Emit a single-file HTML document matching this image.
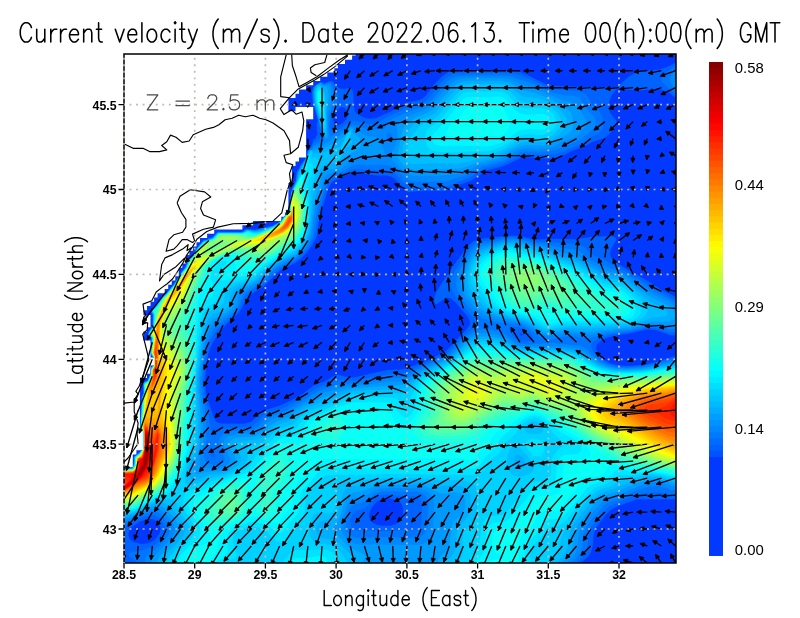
<!DOCTYPE html>
<html><head><meta charset="utf-8"><title>Current velocity</title>
<style>
html,body{margin:0;padding:0;background:#fff;}
body{width:800px;height:618px;overflow:hidden;}
svg{display:block;will-change:transform;}
text{font-family:"Liberation Sans",sans-serif;fill:#000;}
.tk{font-size:12.3px;font-weight:bold;}
.cbl{font-size:14.9px;}
.hs{stroke:#fff;stroke-width:0.3px;paint-order:fill stroke;}
</style></head><body>
<svg width="800" height="618" viewBox="0 0 800 618">
<rect width="800" height="618" fill="#fff"/>
<defs><filter id="noaa" x="0" y="0" width="800" height="618" filterUnits="userSpaceOnUse"><feOffset dx="0" dy="0"/></filter><clipPath id="wm"><path d="M124,560.6H676V563.3H124ZM124,556.3H676V561.2H124ZM124,552.1H676V556.9H124ZM124,547.8H676V552.7H124ZM124,543.6H676V548.4H124ZM124,539.4H676V544.2H124ZM124,535.1H676V540H124ZM124,530.9H676V535.7H124ZM124,526.6H676V531.5H124ZM124,522.4H676V527.2H124ZM124,518.1H676V523H124ZM124,513.9H676V518.7H124ZM124,509.6H676V514.5H124ZM124,505.4H676V510.2H124ZM124,501.2H676V506H124ZM124,496.9H676V501.8H124ZM124,492.7H676V497.5H124ZM124,488.4H676V493.3H124ZM124,484.2H676V489H124ZM124,479.9H676V484.8H124ZM124,475.7H676V480.5H124ZM124,471.5H676V476.3H124ZM124,467.2H676V472.1H124ZM132.8,463H676V467.8H132.8ZM132.8,458.7H676V463.6H132.8ZM132.8,454.5H676V459.3H132.8ZM136.4,450.2H676V455.1H136.4ZM143.4,446H676V450.8H143.4ZM143.4,441.7H676V446.6H143.4ZM143.4,437.5H676V442.3H143.4ZM143.4,433.3H676V438.1H143.4ZM143.4,429H676V433.9H143.4ZM139.9,424.8H676V429.6H139.9ZM139.9,420.5H676V425.4H139.9ZM139.9,416.3H676V421.1H139.9ZM139.9,412H676V416.9H139.9ZM139.9,407.8H676V412.6H139.9ZM139.9,403.6H676V408.4H139.9ZM139.9,399.3H676V404.2H139.9ZM139.9,395.1H676V399.9H139.9ZM139.9,390.8H676V395.7H139.9ZM139.9,386.6H676V391.4H139.9ZM139.9,382.3H676V387.2H139.9ZM139.9,378.1H676V382.9H139.9ZM147,373.8H676V378.7H147ZM150.5,369.6H676V374.4H150.5ZM150.5,365.4H676V370.2H150.5ZM154.1,361.1H676V366H154.1ZM154.1,356.9H676V361.7H154.1ZM150.5,352.6H676V357.5H150.5ZM150.5,348.4H676V353.2H150.5ZM150.5,344.1H676V349H150.5ZM150.5,339.9H676V344.7H150.5ZM143.4,335.6H676V340.5H143.4ZM143.4,331.4H676V336.2H143.4ZM147,327.2H676V332H147ZM150.5,322.9H676V327.8H150.5ZM150.5,318.7H676V323.5H150.5ZM150.5,314.4H676V319.3H150.5ZM143.4,310.2H676V315H143.4ZM147,305.9H676V310.8H147ZM150.5,301.7H676V306.5H150.5ZM154.1,297.4H676V302.3H154.1ZM157.6,293.2H676V298.1H157.6ZM164.7,289H676V293.8H164.7ZM168.2,284.7H676V289.6H168.2ZM171.7,280.5H676V285.3H171.7ZM175.3,276.2H676V281.1H175.3ZM178.8,272H676V276.8H178.8ZM178.8,267.7H676V272.6H178.8ZM182.3,263.5H676V268.3H182.3ZM185.9,259.3H676V264.1H185.9ZM185.9,255H676V259.9H185.9ZM189.4,250.8H676V255.6H189.4ZM192.9,246.5H676V251.4H192.9ZM196.5,242.3H676V247.1H196.5ZM200,238H676V242.9H200ZM207.1,233.8H676V238.6H207.1ZM214.2,229.5H676V234.4H214.2ZM242.4,225.3H676V230.1H242.4ZM253.1,221.1H676V225.9H253.1ZM281.3,216.8H676V221.7H281.3ZM284.9,212.6H676V217.4H284.9ZM288.4,208.3H676V213.2H288.4ZM288.4,204.1H676V208.9H288.4ZM288.4,199.8H676V204.7H288.4ZM288.4,195.6H676V200.4H288.4ZM288.4,191.4H676V196.2H288.4ZM288.4,187.1H676V192H288.4ZM288.4,182.9H676V187.7H288.4ZM291.9,178.6H676V183.5H291.9ZM291.9,174.4H676V179.2H291.9ZM291.9,170.1H676V175H291.9ZM291.9,165.9H676V170.7H291.9ZM295.5,161.6H676V166.5H295.5ZM299,157.4H676V162.2H299ZM306.1,153.2H676V158H306.1ZM306.1,148.9H676V153.8H306.1ZM306.1,144.7H676V149.5H306.1ZM306.1,140.4H676V145.3H306.1ZM306.1,136.2H676V141H306.1ZM306.1,131.9H676V136.8H306.1ZM306.1,127.7H676V132.5H306.1ZM306.1,123.4H676V128.3H306.1ZM306.1,119.2H676V124H306.1ZM313.2,115H676V119.8H313.2ZM313.2,110.7H676V115.6H313.2ZM288.4,106.5H295.5V111.3H288.4ZM313.2,106.5H676V111.3H313.2ZM288.4,102.2H676V107.1H288.4ZM288.4,98H676V102.8H288.4ZM295.5,93.7H676V98.6H295.5ZM299,89.5H676V94.3H299ZM306.1,85.3H676V90.1H306.1ZM313.2,81H676V85.9H313.2ZM320.2,76.8H676V81.6H320.2ZM327.3,72.5H676V77.4H327.3ZM334.4,68.3H676V73.1H334.4ZM337.9,64H676V68.9H337.9ZM345,59.8H676V64.6H345ZM352.1,55.5H676V60.4H352.1ZM355.6,53.7H676V56.1H355.6Z"/></clipPath><clipPath id="fr"><rect x="124.0" y="54.0" width="552.0" height="509.0"/></clipPath></defs>
<g clip-path="url(#wm)" shape-rendering="geometricPrecision">
<rect x="124.0" y="54.0" width="552.0" height="509.0" fill="#0339ff"/>
<path fill="#0063ff" d="M124,563l457,0 7.1-6.4 2.8-4.2 1.6-5.7 1.5-13.4 2.5-6.4 9.7-12.7 5.7-5.2 5.3-2.6 19.5-7.1 38.9,0 0-143.5 -17.5,5.6 -12.6,2.9 -12.4,1.5 -12.3,0 -10.2-2.3 -7.6-4.2 -4.2-4.3 -2.9-6.3 0.9-4.3 1.8-2.1 7.5-4.2 7.6-2.2 17.7-2.9 14.1-3.2 5.3-0.3 5.3,0.6 14.2,5.2 5.3,0.1 0-38.6 -15-7.5 -13.3-8.6 -32.9-19 -3.4-4.3 -1-4.2 0.8-4.3 5.2-8.4 -0.1-2.2 -3.1-2.1 -18.5,0.3 -19.5,2.7 -23-0.5 -14.1,0.9 -5.3-0.5 -12.4-3.1 -8.8-0.6 -30.1,3.3 -7.1,2.3 -4.8,3.7 -3.6,4.2 -18.3,25.5 -10.4,16.6 -2,4.6 -0.8,4.3 1,3.8 1.8,0.3 8.9-6.1 1.7-0.4 3.6,1 5.3,4.8 11.4,13.5 2.1,4.3 -0.3,4.2 -3.2,4.3 -20.6,21.7 -17.7,8.9 -21.2,8.1 -5.3,1.1 -14.2,0.7 -33.6,7.5 -5.3-0.3 -10.6-2.6 -3.5,0.7 -8.9,5.6 -12.3,4.8 -10.6,8.2 -7.1,4.3 -15.9,7.4 -15,4.5 -3.3,2.1 -10,9.5 -7.1,1.9 -23-0.2 -3.5-0.8 -1.8-1.4 -1.7-3.1 -7.1-20 -1.5-7.1 -0.4-8.5 1.3-19.1 2.4-12.1 3.5-8.5 7.5-11.2 7.5-8.5 11.5-10.6 2.9-4.2 4.2-9.1 3-3.7 14.7-9.1 15.9-15.7 15.9-8.1 4.6-3.1 6-6.1 6.6-8.8 4.1-8.5 2.8-19.1 8.3-27.6 2.9-5.8 3.6-3.2 10.6-5.1 8.8-2.5 5.3,0 17.7,2.5 10.6,0.2 3.5,0.9 3.6,2.1 9.7,10.9 4.4,2.6 17.7-1.6 17.7,0.3 6-1.3 9.9-4.8 10.6-4 15.9-10.3 17.7-4.3 15.9-7.9 8.8-1 21.3,1.8 10.6-2.2 12.3-6.2 10.6-3.8 8.9-4.7 10.6-3.7 3.5-2 4.2-4.2 4.9-6.3 1.1-4.3 -6.6-8.7 -1.4-4 -0.3-4.3 1-4.2 2.4-5.5 3.6-4.8 1.7-1.3 23,1.8 14.2-1.6 5.3,0.2 8.8,2.8 7.1,5.7 0-35 -8.9,4.5 -7,2.4 -17.7,1.6 -6.7,1.6 -6.9,4.3 -11.2,9.8 -3.5,0.7 -19.4,0 -42.5-1.7 -5.3-1.5 -19.4-9.7 -7.1-2.6 -5.3-1 -61.9-0.4 -5.3,1.7 -6.1,4.7 -7.9,8.5 -7.2,9.5 -3.5,3.4 -3.6,1.7 -12.3,2.2 -10.6,6.7 -19.5,8.6 -5.3,1.1 -5.3-0.5 -3.5-1.2 -5.3-3.2 -2.7-2.9 -0.9-4.2 -0.4-12.8 -1.2-4.2 -1.9-1.9 -7.1,1.2 -3.5-0.6 -3.6-2.8 -3.5-4.5 -3.5,0.1 -5.3,2.2 -1.8-1.7 -1.8,0.4 -5.3,3.2 -1.9,2.3 -1,4.2 0.6,10.6 1.9,4.3 3,12.7 0.2,2.1 -1.1,2.1 0.7,10.7 -2.2,4.2 -1.9,1.5 -2.3,7 -3,3.7 -1.8,6.6 -6.3,8.8 -0.5,2.1 -2.8,4.3 -0.9,8.4 -3.7,8.1 -1,4.7 -1.8,19.1 -4.1,2.1 -5.4,7 -7.1,3.8 -17.7,3.9 -8.8-0.7 -3.6,2.7 -1.5,0.3 -23.2-0.2 -5.3,5.8 -3.5,0.5 -1.8,1.5 -3.5,0.5 -7.8,8.8 -1.8,4.3 -5.4,6.4 -3.9,8.4 -11.2,16.8 -7.6,8.7 -3.2,2.1 -6.9,9.7 -5.9,5.2 2.8,4.2 -0.2,10.6 -5.6,10.6 4.4,2.2 -0.4,14.8 0.2,2.1 1.9,2.2 -0.1,8.5 -2.1,2.1 -0.2,6.3 -3.2,6.4 -4.3,2.1 0.3,10.6 -1.7,4.3 -1.4,29.7 0.2,2.1 1.9,2.1 -0.1,17 -2.4,3.4 -6.2,5.1 -0.2,8.5 -1.4,2.1 -1,0.6 -7.1,0.1zM141.7,543.9l-7.1-1.5 -4.4-2.7 -1.9-4.3 0.6-4.2 2.8-4.3 8.2-5.3 8.9-2.9 5.3,0.7 3.5,2.7 1.8,2.7 1.1,4.2 -0.9,4.3 -2.7,4.2 -4.6,3.9 -5.3,2.1zM376.8,524.8l-4.4-2.1 -2.1-2.1 -1.3-4.3 0.8-4.2 1.9-4.3 5-6.3 5.4-2.7 7.1-0.3 7.1,1.7 5.1,3.4 1.7,4.2 -0.2,6.4 -1.1,4.2 -3.3,4.3 -4,2 -5.3,1.1 -7.1,0zM521.8,336.1l-2.5-2.3 0.7-0.5 2.2,0.5 0.2,2.1zM334.4,124.7l-1-3.1 0.1-2.1 2.6-7.8 3.6-4 1.7-0.6 3.6,1.1 2.6,2.8 0.6,2.1 -0.1,2.2 -1.8,4.2 -3.1,3.3 -3.5,2.3 -3.6,0.7z"/>
<path fill="#0075ff" d="M135.9,560.9l3.1,2.1 437.2,0 4.7-4.2 4.5-6.4 1.9-6.4 1.6-12.7 2.5-6.4 6.3-8.5 10.7-11.6 24.7-11.1 7.1-2 15.9-1.3 19.5,2.2 0-136.5 -31.8,7.6 -14.2,1.2 -12.4-0.5 -9.8-2.9 -7.2-4.2 -6.1-6.4 -3.1-6.3 0.1-2.2 1.6-2.1 5.1-3.3 7.1-2.9 8.8-2 17.7-2.5 14.1-3.3 8.9-0.2 15.9,4.1 5.3-0.1 0-32.2 -17.7-9.2 -30.1-18.3 -17.7-8.6 -7-4.8 -9.9-3.7 -3-2.1 -6.6-6.9 -3.2-1.6 -3.8-0.8 -40.7-2.5 -15.9-3.8 -7.1-0.7 -8.8,0.7 -12.4,2.6 -10.6,1.2 -5.3,1.8 -4.7,3.6 -4.9,6.4 -13.3,21.2 -1.8,4.3 -0.9,4.2 0.5,4.2 3.2,6.4 9.4,12.7 11.3,12.8 1.7,4.2 -0.7,2.1 -1.9,2.2 -12,9.9 -14.3,15.5 -7.5,4.3 -36.6,16.2 -14.1,0.8 -33.6,6.2 -7.1,0.3 -8.8-0.9 -5.3,1 -19.5,8.1 -12.4,8.6 -19.4,10.8 -17.7,5.7 -8.8,8.9 -5.3,3.5 -5.3,1.1 -19.5,0.7 -5.3,1.5 -7,3.5 -1.8-0.2 -1.9-3.7 -2.1-17 -4.6-19.1 -0.7-10.6 2.5-25.4 1.8-8.5 3.2-8.9 3.4-6 3.7-4.7 16.7-14.4 3.9-4.2 5.8-12.7 1.9-2.7 3.5-2.8 12.4-7.2 12.4-12.4 5.3-4.2 14.1-6.8 5.3-3.4 8.5-9.4 4.3-6.3 2.8-6.4 4.5-25.5 8.2-25.4 3.5-5.2 3.6-2.3 14.1-6.6 5.3-1.7 5.3-0.2 14.2,1.2 12.3-0.3 5.3,1.1 3.6,2 10.6,10.5 5.3,3 3.5,0.4 14.2-0.8 15.9,0.4 5.3-1.1 19.4-8 15.9-9.3 17.7-4.4 17.7-8.6 7.1-1.1 23,0.5 8.8-1.5 23-9.9 8.8-6 8.9-4.7 2.4-2.6 0.9-2.1 0.3-4.3 -1.1-6.3 -1.6-4.3 -2.7-4 -5.4-4.5 -4.9-8.4 -2-2.2 -4-2.1 -4.9-1.1 -17.7-0.7 -8.8-1.4 -19.5-9.4 -12.2-4.4 -5.5-1.2 -14.1-0.8 -42.4,0.5 -5.3,1.3 -5.3,3.4 -7.1,7.5 -10.6,13.4 -5.3,4.2 -15.9,4.5 -7.1,3.8 -10.6,4.4 -12.4,7.4 -3.5,0.8 -5.3-0.1 -10.6-2.8 -3.6-0.2 -3.5,1.1 -10.6,6.8 -5.3,1.5 -2.4-0.3 -2.4-2.1 -0.3-4.3 2.3-8.4 6-14.9 0.5-4.2 -1.3-4.3 -4.6-8.5 -1.4-1 -1.7-0.2 -5.3,2 -1.8-1.7 -1.8,0 -5,3.1 -1.6,2.1 -1.1,4.2 0.7,10.6 4.8,17 0.8,6.4 1.4,2.5 0.4,3.8 1.4,2.2 -2,4.2 -2.4,2.1 -4.4,2.4 -1.8,4 -3.5,4.2 -0.7,4.3 -1.1,2.1 -5.9,8.5 -0.5,2.1 -2.8,4.3 -1,8.4 -2.2,4.3 -2.7,8.5 -1.7,19.1 -4.1,2.1 -5.6,7.1 -7.1,3.9 -17.7,4.1 -8.8-0.8 -3.6,2.7 -24.7,0.1 -5.3,5.7 -3.5,0.6 -1.8,1.5 -3.5,0.5 -7.5,8.5 -1.8,4.3 -5.5,6.4 -3.8,8.4 -2.7,3.1 -8.8,13.9 -7.4,8.5 -3.2,2.2 -7.1,9.9 -5.6,4.9 2.7,4.2 -0.2,10.6 -5.5,10.6 4.3,2.2 -0.5,14.8 0.3,2.1 1.8,2.2 -0.1,8.5 -2,2.1 -0.3,6.3 -3.2,6.4 -4.2,2.1 0.3,10.6 -1.8,4.3 -1.5,29.7 0.4,2.1 1.8,2.1 -0.1,17 -2.5,3.7 -6,4.8 0.1,6.4 -1.2,3.7 -1.7,1.3 -7.1,0 0,60.5 3.9-4 7.4-4.2 10.1-4.3 6.9-1.4 3.5,0.7 4,2.8 4.5,6.4 1,4.2 -0.8,4.3 -2.4,4.2 -8,7.9 -8.9,4.1 -15.1,2.9 -1.6,2.1 0.7,2.1zM212.4,457.5l-1.9-2.7 0.3-2.1 1.6-1.1 1.8,1.5 0.8,3.8 -0.8,0.7zM382.1,531.2l-15.9-1.2 -8.8,0.5 -3.6-1 -2.4-2.6 -1.1-3.7 0.4-4.8 1.4-3.9 3.5-3.2 8.8-2.6 10.6-10.7 6-2.9 6.4-0.5 17.7,1.7 8.8,0 4.3,0.9 2.6,2.1 1,2.2 0.5,4.2 -0.9,17 -1.2,4.2 -1.8,2.1 -4.5,1.5 -8.8-0.4zM520,340.8l-4.7-2.7 -5.7-6.4 -0.6-2.1 2.2-2.1 7-0.4 5.3,1.8 6.8,4.9 2.7,4.3 -0.9,2.1 -3.3,1.1 -5.3,0.3zM675.2,94l0.4,0.5 0-28.9 -11.8,9.3 -2.5,4.3 0.3,2.1 1.6,2.1z"/>
<path fill="#0088ff" d="M145.1,560.9l0.6,2.1 425.6,0 4.9-4.2 4.2-6.4 1.8-6.4 1.7-12.7 2.4-6.4 4.5-6.3 12.3-14.5 2.8-2.5 4.3-2.2 10.6-3.4 12.3-6.3 16-5.2 5.3-0.6 5.3,0.5 15.9,4.1 0-130.5 -33.6,6.9 -15.9,1 -10.6-0.8 -7.1-1.8 -7.9-3.9 -5.6-4.2 -7.7-7.7 -3.6-2.3 -3.5-1.1 -28.3-3.3 -23,1.6 -7-0.4 -5.3-1.9 -14.2-9.5 -5.3-1.5 -12.4-2 -7,1 -10.6,5.9 -7.1,6.2 -8.8,10.3 -5.3,4 -28.3,12.8 -12.4,7.4 -5.3,1 -10.6,0.5 -30.1,4.5 -17.7,1.3 -5.3,1.1 -17.6,5.8 -33.6,20.4 -15.9,5.3 -3.6,2.3 -7,7.6 -4.7,2.8 -5.9,1.3 -16,0.7 -7,2 -3.2,2.4 -1.6,2.1 -1.5,4.2 1.2,6.4 4.6,8.5 0.5,2.1 -0.4,2.1 -3.2,2.9 -7,0.9 -7.1-1.7 -2.2-2.1 -0.8-2.1 0-4.2 2.2-14.9 -0.5-21.2 -0.8-8.5 -3.1-17 -0.4-14.8 3.5-27.6 4.4-14.9 3-5.5 3.5-4.2 15.5-11.5 4.5-4.2 2.6-4.3 2.7-8.4 3-4.6 15.9-9.3 12.4-12.1 5.3-4.3 19.5-10 8.1-8.6 4.2-6.3 3-6.4 4.7-27.6 4.7-13 3.5-12.5 3.6-5.4 11.3-5.1 13.4-7.7 5.3-0.5 12.4,0.8 12.4-0.6 5.3,0.8 3.5,1.6 12.4,10.9 5.3,3.1 5.3,0.8 30.1-0.2 19.4-6 17.7-9.2 19.4-5.1 17.7-8.8 7.1-1.1 19.4,0.1 10.6-1.9 21.8-8.9 13.2-10.6 3.3-4.2 0.6-4.3 -1.3-4.2 -7.9-8.5 -7-10.6 -5-2.4 -12.4-0.8 -12.3-3.2 -17.7-8.4 -23-7.4 -8.8-0.7 -26.6,0 -15.9,0.8 -5.3,1.6 -5,3.5 -16.2,19.1 -4.4,4.2 -4.4,2.5 -10.6,3.3 -19.5,8.2 -4,3 -4.8,7.1 -10.6,1.1 -5.3-0.2 -10.6-3.5 -5.3-1 -14.2,8.1 -8.8,3.6 -0.7-19.4 5.2-14.9 0.7-6.3 -0.7-4.3 -3.4-8.5 -1.1-0.4 -5.3,1.8 -1.8-1.6 -1.8-0.4 -4.6,2.8 -1.4,2.1 -1.1,4.2 0.6,10.6 9.2,34 1.2,2.1 -0.3,1.8 -3.7,2.4 -6.9,2.9 -1.8,3.5 -1.8,0.4 -1.7,2.7 -1.5,5.4 -5.8,8.5 -0.5,2.1 -2.7,4.3 -1.2,8.4 -4.3,9.3 -0.8,3.5 -1.7,19.1 -4,2.1 -5.8,7.3 -7.1,3.9 -17.7,4.3 -8.8-0.8 -3.6,2.5 -24.7,0.2 -5.3,5.7 -3.5,0.6 -1.8,1.4 -3.5,0.6 -7.2,8.2 -1.9,4.3 -5.4,6.4 -3.9,8.4 -2.9,3.4 -8.6,13.6 -7.3,8.5 -3.5,2.5 -7.1,10 -5.3,4.5 2.7,4.2 -0.4,10.6 -0.6,2.2 -3.1,4.2 -1.5,4.2 4.1,2.2 -0.7,14.8 0.5,2.1 1.7,2.2 -0.1,8.5 -2,2.1 -0.3,6.3 -3.1,6.4 -4.1,2.1 0.1,10.6 -1.7,4.3 -1.6,29.7 0.5,2.1 1.7,2.1 0,17 -2.7,4 -5.7,4.5 0,6.4 -1.4,4 -1.7,1.1 -7.1,0.1 0,54.8 23-10.1 7.1-1.7 3.5,0.8 5.3,4 5,6.4 2.2,6.3 -0.8,4.3 -4,6.4 -7.7,7.8 -11.5,9.1 -1,2.2zM355.6,537.8l-3.5-1.2 -3.6-2.8 -1.8-2.6 -1.3-4.3 0.4-6.3 2.7-10 1.8-3.3 3.5-2.9 10.6-2.5 10.6-8.2 7.1-2.3 35.4,0.2 5.3,1.8 3.7,3.8 1.5,4.3 0.3,4.2 -1.1,21.2 -2.4,6.4 -3.8,3.5 -7.1,1.5 -24.7-1.2zM389.2,142.1l-1.8-2 -0.9-3.6 0.9-3.5 1.8-0.2 1.7,0.9 1.8,2.3 0.4,2.6 -0.6,2.1 -1.6,1.5zM542.1,338.1l2.7,1.2 5.3,0.5 14.1-3.3 5.3-0.5 19.5,2.3 17.6-4.8 24.8-3.3 17.7-4 8.8,0.4 12.4,2.6 5.3-0.5 0-25.4 -5.3-3.8 -15.9-7.7 -28.3-17.7 -7.1-3.1 -10.6-3.3 -17.7-7.5 -10.6-8.6 -3.5-1.8 -14.2-1.5 -12.3-3.3 -16-2 -14.1-3.7 -7.1-0.8 -10.6,1.1 -10.6,2.8 -10.6,1.7 -5.3,2.2 -3.5,3.1 -4.3,5.9 -9.2,17 -2.3,6.4 -0.4,4.2 1.1,6.4 6.2,11.4 10.6,11.6 8.9,6.4 15.9,3.8 17.7,1.6 5.3,1.2 5.3,2.4 10.6,7.9zM675,89.8l0.6,0.7 0-21.1 -4.4,5.5 -1.3,4.3 0.9,4.2z"/>
<path fill="#009aff" d="M151.2,563l415,0 5.1-4.2 4.3-6.4 1.8-6.4 1.6-12.7 2.9-7.4 3.8-5.3 17.4-20.1 5.3-2.7 10.6-2.7 12.4-6.2 17.7-6.5 5.3-0.4 5.3,0.5 15.9,4.6 0-125.4 -33.6,6.2 -14.2,0.9 -12.3-0.7 -7.1-1.6 -7.1-3 -6.7-4.2 -9.2-7.4 -7.1-3 -8.8-1.7 -8.8-0.8 -31.9,0.1 -7-0.5 -5.4-1.6 -12.3-7.4 -5.3-1.8 -14.2-2.1 -7,0.6 -5.3,2.1 -7.1,4.4 -11.8,12.7 -5.1,4.3 -29.1,13.6 -14.1,9.4 -5.3,1.2 -10.6,0.4 -42.4,4.7 -24.8,6.7 -21.2,11.5 -14.2,9.5 -15.9,5.9 -3.5,2.6 -6.4,6.6 -4.2,2.6 -5.3,1.5 -14.2,0.7 -7.3,1.6 -3.3,1.9 -1.7,2 -1.3,4.6 1.3,4.2 5.1,8.5 0.4,4.2 -1.1,2.2 -4.4,3.6 -5.3,1.6 -14.2-0.6 -3.5-0.8 -1.8-1.5 -0.6-2.3 0.2-4.3 3.1-14.8 0.5-8.5 -0.4-21.2 -2.6-21.3 -0.3-14.8 3.9-29.7 2.4-10.6 2.7-7.5 1.7-3.3 3.6-4.2 14.1-8.8 5.3-4.5 2.3-3.6 3-10.6 3.1-4.2 16.4-8.6 15.9-14.9 6.3-4.1 14.9-7.1 7.9-7.8 5.4-8.4 2.5-6.4 4.2-27.6 4.7-13.4 3.6-13.8 1.7-3.3 3.6-2.5 10.6-3.7 4.8-3.6 5.8-5.8 3.5-2 5.3-1 16.4,0.3 4.8-1.1 2.7-1 0.9-1.1 0.7-1 -0.5-2.2 -3.8-9.3 -2.3-3.4 -3-1.5 -8.8-1.2 -7.1-4.5 -5.3-2.2 -0.2-1.2 -1.5-1.4 -1.8,0.7 -3.5,4 -10.7,6.4 -13.2,7.3 -9.7,3.2 -0.6,1 -3,0.9 -0.9,1.2 -2,6.4 -2.4,4.5 -3.2,4 -3.1,6.4 -1.4,8.4 -4.7,9.8 -1.3,7.2 -1.1,14.9 -4,2.1 -4.6,6.4 -8.4,5.1 -15.9,4.1 -3.5,0.2 -5.3-1.1 -1.8,0.3 -3.6,2.4 -24.7,0.3 -5.3,5.7 -3.5,0.6 -1.8,1.4 -3.5,0.5 -7,8 -1.8,4.3 -5.4,6.4 -4,8.4 -3.1,3.6 -8.4,13.4 -7.5,8.7 -3.5,2.6 -7.1,10.1 -5,4.1 2.6,4.2 -0.4,10.6 -0.6,2.2 -3.2,4.2 -1.1,4.2 2.4,0.8 1.4,1.4 -0.8,14.8 0.5,2.1 1.7,2.2 -0.1,8.5 -1.9,2.1 -0.5,6.3 -2.9,6.4 -0.9,1 -3,1.1 -0.3,2.2 0.2,8.4 -1.7,4.3 -1.7,29.7 0.5,2.1 1.8,2.1 -0.1,17 -2.8,4.3 -5.5,4.2 0,6.4 -1.6,4.3 -1.7,1 -7.1,0.1 0,51.4 12.4-4.5 14.1-6.2 5.3-1 3.6,0.7 3.5,2.3 4.9,4.9 4.9,6.4 2.4,6.3 -0.1,2.2 -1.7,4.2 -5.1,6.4 -14.4,14.8 -2.4,4.3zM355.6,544l-5.3-2.1 -3.5-2.9 -4.5-5.7 -1.5-4.3 0.8-6.3 5.1-17 2.5-4.2 2.9-2.5 10.6-2.1 12.3-7 8.9-1.8 35.3,0.1 7.1,2.5 4.9,4.4 2.1,4.2 0.8,4.3 -0.9,25.4 -2.3,8.5 -4.6,4.9 -5.3,2 -5.3,0.5 -54.8-0.3zM540.6,333.8l7.7,2.1 5.3-0.4 14.1-2.6 23,1.5 17.7-3.2 23-2.5 17.7-4.4 7-0.1 12.4,1.6 5.3-0.4 1.8-0.8 0-16.9 -5.3-5.1 -17.7-8.4 -26.5-17.3 -7.1-3.1 -15.9-3.9 -12.4-5.8 -12.4-8.2 -3.5-1.4 -12.4-1.7 -15.9-5.6 -15.9-3 -12.4-3.4 -5.3-0.6 -10.6,1.1 -21.2,5.5 -5.3,2.8 -3.5,3.8 -5,8.3 -4.7,10.6 -1.7,6.4 -0.1,6.3 1,4.3 1.7,4.2 4.1,6.4 8.2,9 8.8,6 16,4.6 21.6,3.7 6.6,3zM409.2,174.7l4.7,1.1 26.5-0.1 16-1.5 8.8-2.5 14.1-6.9 21.3-5.5 19.4-9.8 7.1-1.1 17.7,0 7.4-1.3 12-5.8 12.6-4.8 8.8-10.6 1.4-4.3 -9.2-14.8 -3-3.2 -12.4-3.1 -28.3-12.5 -12.3-3.3 -10.6-5 -5.3-1.3 -7.1-0.5 -30.1,0.1 -10.6,1.5 -4.1,1.8 -4.7,3.9 -19.5,21.9 -5.3,2.9 -10.6,3.9 -14.2,7.7 -2.5,2.1 -0.7,2.2 1.3,8.5 -0.4,6.3 -2.9,7.7 -4.1,5.1 -0.9,2.1 2.8,4.2 6.1,6.4 6.7,6.1zM325.2,138.6l0.3,0.7 1.8-1.1 0.7-1.7 -0.8-23.4 3.8-10.6 0.5-8.5 -2.5-8.4 -1.7-1 -3.5,0.8 -3.6-2.3 -4.1,2.5 -2,4.2 -0.4,2.1 0.5,10.6 7.6,27.6 2,6.3z"/>
<path fill="#00adff" d="M156.4,563l205.9,0 2.5-4.2 0.3-2.2 -1.2-2.1 -15.4-8.1 -15.1-15.2 -0.6-2.2 6.9-11.6 5-15.9 2.1-4.3 1.7-2.2 3.6-2.2 10.6-1.5 10.6-4.5 5.3-1.4 35.3-0.8 7.1,0.5 5.3,1.3 14.1,6.9 3.6,0.3 10.6-1.4 5.2,0.8 3,2.1 2.2,4.2 0.5,6.4 -1.1,4.2 -2.7,4 -7.1,6.7 -2.1,4.2 -3.4,21.2 -2.6,4.3 -7.4,8.5 -1.9,4.2 124,0 6.5-6 3.1-4.6 1.9-6.4 1.6-12.7 3.4-8.5 18.9-23.3 4.7-4.5 5.3-2.5 10.6-2.7 11.2-5.2 18.9-6.9 5.3-0.5 7.1,0.6 15.9,4.5 0-121 -33.6,5.6 -14.2,0.8 -12.3-0.6 -7.1-1.4 -7.1-2.7 -6.5-3.6 -11.2-7.9 -8.8-3.2 -14.1-2 -38.9-0.5 -7.1-2 -10.6-5.8 -5.3-1.9 -12.4-1.9 -8.8,0.5 -5.3,1.9 -6.1,3.7 -12.3,12.7 -4.6,3.6 -28.3,13.6 -12.4,9.7 -3.5,2 -5.3,1.1 -46,3.2 -8.8,1.7 -10.6,4.2 -12.2,3.4 -17.9,8.3 -15.9,11.4 -15.9,6.2 -8.8,8.4 -5.3,3.3 -5.3,1.4 -14.2,0.8 -5.3,1.3 -3.5,2.5 -1.4,3.1 1.2,4.2 4.2,6.4 1.6,4.2 -0.3,2.1 -2.9,4.3 -6,4.1 -5.3,1.8 -14.1,0.6 -8.8,2.3 -3.6-0.6 -1.1-1.8 -0.1-4.3 5.6-19.1 1.4-10.6 -0.1-23.3 -2.1-25.5 0.3-12.7 4.6-34 4.1-14.8 2.2-4.3 2.9-3.4 13.8-7.2 5.2-4.2 2.2-4.3 2.2-10.6 3.1-3.5 17.7-8.4 17.5-15.7 7-4.2 13.5-6.4 4.4-3.7 4-4.8 4-6.3 3.2-8.5 4-29.7 4.3-13.2 2.6-12.3 1.8-4.2 2.6-2.5 5.3-1.2 3.6,0.2 4.6-2.9 2.4-2.3 6.2-8.3 10.1-6.4 2.1-2.1 0.9-2.1 0.1-2.2 -1.3-4.2 -2.1-2.6 -5.1-3.8 0.5-2.1 -0.7-2.5 -1.8,0.9 -4.9,5.9 -0.4,1.5 -12.4,8.2 -10.6,4.7 -8.8,1.9 -1.8-0.6 -2.4,1.2 -2,6.4 -8.3,14.9 -1.8,8.4 -5,10.4 -1.2,6.6 -1.1,14.9 -3.9,2.1 -4.6,6.4 -8.6,5.3 -12.4,3.8 -5.3,0.8 -7-1.2 -5.4,2.6 -24.7,0.3 -5.3,5.6 -8.8,2.6 -6.8,7.7 -1.8,4.3 -5.6,6.6 -3.8,8.2 -3.3,3.9 -8.3,13.1 -7.6,9 -3.5,2.6 -7.1,10.1 -4.6,3.8 2.4,4.2 -0.4,10.6 -0.6,2.2 -3.2,4.2 -0.9,4.2 2,0.6 1.7,1.6 -1,14.8 0.6,2.1 1.6,2.2 0,8.5 -2,2.1 -0.5,6.3 -2.9,6.4 -1,1.2 -2.7,0.9 -0.5,2.2 0.2,8.4 -1.7,4.3 -1.7,29.7 0.6,2.1 1.7,2.1 -0.1,17 -2.9,4.5 -5.3,4 0,6.4 -1.8,4.5 -1.7,0.9 -7.1,0.1 0,49 14.1-4.6 14.2-6.8 5.3-1 3.5,0.6 3.6,1.9 5.3,5.1 6.2,7.6 3.5,6.3 0.4,2.1 -0.7,4.3 -4.2,6.4 -15.8,16.9zM541.6,331.7l4.9,1.6 3.6,0.2 15.9-3 24.7,0.9 38.9-3.9 21.2-5.8 19.5-0.2 3.7-2.5 0.7-4.3 -1.3-4.2 -3.6-4.3 -19-9 -24.7-17.5 -7.1-3 -10.6-1.6 -5.3-1.4 -28.3-15.2 -12.4-2.1 -17.6-7 -26.6-6.6 -5.3-0.8 -10.6,1.1 -19.6,5.8 -5.1,2.6 -3.8,3.8 -4.9,8.5 -3.2,8.5 -1.2,6.4 0.3,6.3 1.2,4.3 2.1,4.2 4.2,5.9 8.3,9 6.8,4.2 14.9,4.8 21.2,4.3 7.1,3.2zM407.7,168.3l6.2,1.6 46-1.1 17.7-6.4 20.3-4.7 18.6-9.7 5.3-2 5.3-0.7 15.9,0.1 7.1-1.2 6.9-3.5 12.5-8.1 2.4-2.5 0.9-2.1 0.6-4.3 -1.4-8.4 -1-2.2 -3.3-3.5 -15.9-10.1 -17.7-7.1 -12.3-2.3 -10.5-6.7 -3.7-1.5 -7-1.1 -30.1,0 -6.4,0.5 -4.2,1.1 -3.5,1.7 -4.3,3.6 -18.7,21.4 -5.3,3.3 -12.6,5 -8.2,6.3 -3.9,4.3 -1.4,4.2 -4.5,23.4 0.5,2.1 2.4,4.2 4.1,4.3zM325,136.5l0.5,0.9 1.2-0.9 0.4-2.1 -0.5-23.4 2.2-14.8 -1.2-6.4 -1.8-4.2 -2,1.4 -1.8-1 -1.8-2.3 -3.7,1.9 -1.8,4.2 -0.5,2.1 0.6,10.6 7.2,26.4z"/>
<path fill="#00bfff" d="M161.5,563l194.5,0 -1.2-4.2 -1.7-2.2 -15.2-14.1 -5.3-2.7 -10.6-1.6 -3.5-2.5 -1.5-2.4 -0.7-4.3 0.4-2.4 1.8-3.5 3.5-2.3 10.6-1.5 3.4-3 2.9-6.4 4.3-16.4 1.8-2.9 3.5-3 3.6-1.2 10.6-0.8 15.9-3.6 35.3-0.5 10.6,0.8 15.9,3.4 16-0.3 5.3,0.7 5,2.6 2.7,4.3 1.8,10.6 -1.1,8.5 -2,4.2 -8,8.5 -2.2,4.2 -1.3,6.4 -1,12.7 -1.3,4.3 -3.2,4.1 -7.5,6.5 112.4,0 6.4-6.4 3.6-5.5 1.5-5.1 2.5-14.8 4.4-8.5 19.9-24.2 5.3-4.6 5.3-2.5 10.6-3.2 8.8-4 23-6.9 12.4,0.4 15.9,4.2 0-117.2 -33.9,5.2 -15.6,0.7 -12-0.7 -7.5-1.6 -7-2.6 -17.7-10.9 -8.9-3.1 -12.3-1.7 -38.9-0.6 -7.1-1.7 -10.6-5.1 -7.1-2.3 -10.6-1.4 -8.8,0.6 -5.3,1.9 -5.3,3.3 -10.4,10.3 -5.5,4.5 -30.1,15.1 -10.6,9.8 -5.3,3.4 -5.3,1.1 -42.4,1.7 -7.1,0.8 -44.2,16.8 -5.3,3.4 -10.6,9.1 -12.4,4 -3.5,2 -8.9,8.7 -3.5,2.6 -5.3,1.8 -14.2,1.1 -5.3,1.6 -1.6,1.7 -0.3,2.1 5.8,10.6 -0.1,4.2 -3.2,4.3 -5.9,4.2 -8.8,4.1 -14.1,1.4 -12.4,5 -3.6,0.2 -1.7-0.8 -1.5-1.4 -0.9-2.1 0.2-6.4 1.7-6.3 5.8-14.9 1.5-8.5 0-27.6 -1.2-23.3 0.5-12.7 4.8-38.2 2.5-10.6 2.4-6.4 1.9-3.2 3.5-3.1 10.8-4.3 5.1-4.2 1.5-4.3 1-8.5 3.3-4.2 4.8-2.8 10.6-3.5 5.3-2.5 16.5-14.6 8.3-5.2 14.1-6.8 7.4-7.1 4.2-6.3 3.4-8.5 1.8-10.6 2.4-25.5 7-25.5 2.1-3.6 3.5-2.4 8.9-1.2 1.7,2 3-3.3 4.1-8.9 1.4-1.7 0.4-2.2 5.8-4.1 1.5-2.2 -0.1-2.1 -1.9-1.3 -0.3-2.9 1.4-2.1 -0.1-4.3 -1-0.4 -3.8,4.7 -3.3,7 -1.3,1.4 -0.5,2.2 -1.7,1.6 -17.7,6.2 -8.8,0.6 -0.6-2.1 -1.2-0.8 -2,0.8 -4.1,10.6 -3,4.3 -5.1,14.8 -5.3,10.9 -1.1,6.1 -1,14.9 -3.9,2.1 -4.6,6.4 -8.8,5.6 -12.4,4.2 -5.3,0.5 -7-1.2 -5.4,2.4 -22.9-0.2 -1.8,0.6 -5.3,5.5 -8.8,2.7 -6.5,7.4 -1.9,4.3 -5.8,6.9 -3.6,7.9 -3.5,4.1 -8.1,12.9 -7.8,9.2 -3.5,2.7 -7.1,10.1 -4.3,3.5 2.4,4.2 -0.6,10.6 -0.5,2.2 -3.2,4.2 -0.6,4.2 1.5,0.4 1.8,1.8 -1,14.8 2.3,4.3 -0.1,8.5 -1.9,2.1 -0.6,6.3 -2.8,6.4 -1.2,1.4 -2.3,0.7 -0.7,2.2 0.2,8.4 -1.7,4.3 -1.8,29.7 2.3,4.2 0,17 -3.1,4.6 -5.1,3.9 -0.2,7.2 -1.8,3.9 -1.7,0.9 -7.1,0.1 0,46.8 10.6-2.8 17.7-8.8 5.3-1.5 3.5-0.1 4.6,1 3.6,2.1 2.4,2.4 11,14.6 2.1,4.2 0.2,4.3 -1.7,4.2 -3.1,4.3 -14.4,14.8 -2.8,4.3zM518.2,467.8l-2.6-2.4 -1.5-4.3 0.9-4.2 1.5-1.5 1.7-0.4 3.6,1.7 1.7,2.1 1.7,4.5 -0.5,2.1 -1.9,2.1 -2.8,0.7zM542,329.6l4.5,1.5 3.6,0.2 15.9-3.2 24.7,0.6 38.9-2.9 8.9-2.5 12.3-5.2 14.2-1.8 2.3-1.6 0.3-2.1 -0.9-2.1 -2.5-2.1 -13.4-6.1 -15.4-13 -12.9-8.4 -5.3-1.7 -8.8-0.8 -5.3-1.3 -26.5-14.6 -15.9-3.8 -18.6-7.6 -25.6-6.5 -8.9-0.7 -5.3,1 -18.1,6.2 -6.6,3.7 -3.8,4.8 -3.3,6.3 -2,6.4 -0.8,6.4 0.9,6.3 1.7,4.3 9.3,12.7 6.6,6.4 5.5,3 10.6,3.7 24.7,6zM407.2,161.9l3.2,1.5 3.5,0.6 15.9-0.8 28.3,0.4 5.3-0.8 12.4-3.3 17.7-3 7.1-2.7 15.9-8.9 5.3-2.2 5.3-0.7 15.9,0.3 5.3-1 3.5-1.5 7.2-5.4 5.9-6.4 1.6-4.3 -0.1-4.2 -1.7-4.2 -3.5-4.3 -5.8-5.1 -5.2-3.4 -12.5-4.3 -12.4-1.2 -3.5-1 -10.6-8.4 -5.3-2.8 -8.9-1 -26.5,0.1 -7.1,0.9 -3.5,1.5 -4.7,3.5 -20.1,23.2 -5.3,3.1 -10.6,3.7 -5,3.9 -5.9,6.4 -3.2,6.4 -2.8,14.8 1.1,6.4zM325.4,134.4l1-8.5 -0.5-23.4 -1.1-10.6 -4.6-6.6 -1.7,0 -1.8,1.5 -1.9,5.1 0.6,10.6 6.6,24.5 1.8,4.8z"/>
<path fill="#00d2ff" d="M166.3,563l181.2,0 -4.8-8.5 -6.6-7.1 -5.3-2.3 -12.3-1.5 -4.3-1.8 -2.5-2.1 -2.2-4.3 -0.5-4.2 0.8-6.4 1.9-6.4 2.6-4.2 2.4-1.7 3.5-0.1 7.1,1.1 3.5-0.5 1.8-1 1.8-2.4 1.6-6 0.8-14.9 1.1-2.4 3.5-3.2 8.9-2.7 35.3-2.2 33.6,0.1 19.5,1.6 23,0.1 7,1.4 5.5,3.1 2.2,4.2 0.5,4.3 0.3,14.8 -1.3,8.5 -3.6,7.7 -7.1,6 -1.9,3.3 -0.9,6.4 0.2,12.7 -1,4.2 -1.2,2.2 -2.3,2 -6,2.2 96.8,0 6.5-7.4 3.2-5.3 2.5-12.8 4.1-8.5 11-14.8 16.2-19.1 3.6-3.1 5.3-2.8 10.6-3.9 8.9-4.6 24.7-5.2 7.1-0.3 7.1,0.7 15.9,4 0-113.9 -33.6,4.8 -15.9,0.6 -12.4-0.6 -12.4-3 -8.7-4.3 -12.5-7.6 -10.6-3.3 -10.6-1.1 -37.1-0.5 -7.1-1.4 -12.4-5.1 -7-2 -10.7-1.1 -7,0.8 -8.9,4.2 -11.8,10.8 -5.8,4.2 -28.6,14.9 -3.3,2.6 -8.8,10.2 -3.5,2.9 -5.3,1.6 -14.2-0.8 -35.3,1.3 -5.3,1.7 -24.8,11.1 -14.1,4.1 -5.3,3.5 -8.9,9.3 -3.5,1.8 -10.6,2.5 -3.6,2 -12.3,12 -5.3,2.4 -8.2,1.8 -2.4,1.4 -0.9,2.8 1,6.4 -0.8,4.2 -2.9,3.8 -3.3,2.6 -16.1,8.2 -15.9,2.9 -12.4,5.7 -5.3,0.7 -3.6-0.6 -2.3-2 -0.6-6.4 2.9-12.4 6.1-15.2 1.5-6.4 0.7-63.6 4.6-42.5 1.5-8.4 2.5-8.5 2-4.3 2.4-2.9 3.5-2.1 7.1-2.9 3.2-2.7 1-2.1 1.6-8.5 1.2-2.4 3.6-3.4 7-3.7 12.2-3.2 4.5-2.1 17.7-14.9 8.1-4.8 14.1-7.1 5.3-4.9 3.6-4.8 3.1-6 2.6-8.5 1.5-12.7 0.8-23.3 8.2-29.8 -0.1-2.1 -2-2.1 -3.5-0.6 -1.8,2 -0.6-1.4 1.4-4.2 -0.2-2.2 -1.8,0 -6.9,14.9 -5.8,14.8 -5.6,11.4 -1.2,7.7 -0.8,12.8 -3.8,2.1 -4.8,6.5 -7,4.9 -12.4,4.9 -7.1,0.9 -7-1.4 -5.4,2.3 -1.7,0.1 -21.2-0.3 -1.8,0.6 -3.5,4.3 -1.8,1.2 -8.8,2.7 -6.3,7.2 -1.9,4.3 -6,7.2 -3.3,7.6 -3.7,4.3 -8,12.7 -8,9.5 -3.5,2.7 -7.1,10.2 -4,3.1 2.3,4.2 -0.6,10.6 -0.5,2.2 -3.3,4.2 -0.6,2.1 0.8,2.1 2.6,2.2 -1.1,14.8 2.3,4.3 -0.1,8.5 -1.9,2.1 -0.7,6.3 -2.6,6.4 -1.4,1.6 -1.9,0.5 -1,2.2 0.2,8.4 -1.7,4.3 -1.8,29.7 2.3,4.2 0,17 -3.2,4.8 -4.9,3.7 -0.5,8.5 -1.7,2.8 -1.7,0.9 -7.1,0.1 0,45 5.3-0.9 7.1-2.4 15.9-8.5 5.3-1.9 12.4-1.4 3.5,0.8 1.6,1.6 5.1,10.6 8.8,12.7 1.1,4.2 -0.1,2.2 -1.8,4.2 -3.1,4.3 -16.1,16.9zM514.7,476.1l-3.5-2.3 -2.8-4.2 -1.1-4.2 -0.3-6.4 1.2-6.3 2.3-4.3 2.4-1.9 3.6-0.6 3.5,1.7 5.3,5.8 6,7.7 2.8,6.4 -0.2,2.1 -1.6,2.2 -5.2,3.1 -7.1,1.9zM528.8,433.6l-3.5-2.2 -0.4-2.1 1.8-4.2 3.9-3 3.5-1 3.6,0.8 3.5,2.8 1.6,2.5 0.3,4.2 -1.9,1.8 -5.3,0.9zM542.5,327.5l4,1.4 3.6,0.3 15.9-3.3 24.7,0.2 38.9-2.3 5.3-1.4 6.5-3.4 4.7-4.3 1.7-4.2 -1.6-4.3 -6.3-8.4 -6.6-6.4 -9-6.5 -5.3-2.3 -10.6-1 -5.3-1.3 -26.5-14.8 -17.7-4.9 -17.7-7.5 -26.5-6.6 -7.1-0.6 -8.8,2.2 -14.2,5.5 -5.3,3.2 -3.5,4.1 -2.7,5 -1.9,6.4 -0.4,6.4 0.8,4.2 2.4,5.4 10.5,13.7 4.3,4.2 7.2,4.3 9.9,3.5 22.9,5.9zM335.9,161.9l0.2,0.7 1.8-1 2.4-3.9 10.2-23.3 -0.2-2.8 -1.8,0.8 -1.7,3.1 -10,22.2zM410.6,155.6l3.3,0.9 8.9-0.4 14.1,1.3 21.2,0.2 33.6-3.5 8.9-3.4 15.9-9.3 5.3-2.3 5.3-0.7 15.9,0.5 7.1-2.1 5.3-4.1 3.9-4.7 1.8-4.3 0-4.2 -3.5-6.4 -7.5-6.6 -3.6-1.7 -5.3-1.3 -14.1-0.3 -5.3-1.2 -3.6-2.3 -8.8-8.8 -5.3-2.8 -7.1-0.8 -26.5,0.1 -5.3,0.7 -4,1.7 -4.8,4.1 -19.5,23.2 -3.5,2.5 -10.6,4 -3.6,3.1 -8.8,11.2 -2.3,4.9 -0.8,4.3 0.3,4.2 1,2.5zM323.4,128l0.4,1.2 1.7-0.2 -0.4-26.5 -0.7-6.3 -1.6-6.4 -2.6-2.9 -1.7-0.3 -1.8,2.1 -1.2,3.2 0.5,10.6z"/>
<path fill="#00e4ff" d="M171,563l51,0 12-4.2 2.1-2.2 0.5-2.1 -3.7-12.7 0.5-6.4 1.2-2.1 2.5-2.4 8.9-3 8.8-0.9 7.1,1.3 5.4,2.9 5.2,6.5 3.5,3.2 5.3,1 3.6-1.4 2.5-3 4.9-8.5 8.5-7.4 2.1-3.2 1.9-6.3 0.8-12.8 2.3-5.7 7-7.5 5.9-8 4.7-2.9 58.4-1.1 88.4,0.8 7-1.2 5.3-4.1 7.1-10.1 7.1-5.8 7.1-11.5 8.8-7.8 8.7-11.5 5.4-3.7 5.3-1.4 4.7,0.9 4.2,2.6 10.6,12.4 12,10.5 -8.5,6.5 -4.4,6.2 -1.1,4.2 -0.8,12.8 -2.5,5.2 -3.5,1.9 -10.7,0.7 -5.3,2.1 -2.8,2.8 -6,10.4 -7.1,6.9 -7,9.4 -5.3,2.2 -10.6,0.7 -3.6,1.6 -1.8,1.7 -3.2,7.4 -2.1,16.4 -1.5,4.8 -11,14.9 64.6,0 -1.1-2.1 -0.6-4.3 1.1-6.3 2.4-4.3 8-8.4 5.3-8.1 3.6-2.6 8.8-1.7 5.3-3 24.8-29.1 5.3-4.5 14.1-5.8 8.8-6.4 3.6-1.4 10.6,0.5 14.1-2 7.1,0 10.6,1.5 12.4,3.1 0-110.8 -8.9,0.6 -24.7,3.9 -15.9,0.5 -12.4-0.5 -7.1-1.1 -7-2.3 -20.7-11.2 -9.4-3.1 -10.6-1.1 -37.1-0.5 -8.9-1.7 -12.3-4.3 -7.1-1.6 -10.6-0.6 -7.1,1.4 -7.1,3.7 -14.7,12 -31.2,17.5 -3.6,3.7 -5.4,8.5 -3,6.4 -2.2,7.9 -1.7,1.8 -1.8-0.4 -4.5-5.1 -2.8-2.1 -6.9-2.3 -33.5-0.2 -8.9,1.8 -26.5,12 -12.7,3.6 -5,3.6 -8.8,10.7 -3.6,1.6 -10.6,1.8 -3.5,1.9 -10.6,11 -8.8,7.6 -7.1,11.4 -3.3,3.4 -3.4,2.1 -18.1,7.9 -14.1,3.6 -10.6,5.4 -14.2,4.7 -2.1,1.8 -2.1,4.2 -0.2,8.5 2.2,6.4 8.5,12.7 1.2,6.4 -3,6.3 -18.2,19.1zM282.7,563l50.1,0 2.8-4.2 0-2.2 -2.7-4.2 -5.6-2.3 -7.1-0.5 -12.3,0.8 -10.6-0.3 -3.6,0.7 -3.5,2.4zM124,512.1l0,0.7 1.8-0.2 8.8-2.3 7.1-3.3 10.6-6.3 14.5-5.6 5.7-4.2 6.3-8.5 12.1-34 1.6-6.4 2.1-63.6 2.3-19.1 2.4-29.7 2-10.6 2.3-6.9 3.5-5.1 7.1-4.1 3.2-3 3.8-9.9 3.6-3.7 8.8-4.4 14.2-3.1 5.3-2.2 15.6-12.8 25-13.9 7.1-7.6 5.1-10.3 2.5-12.8 0.5-14.8 -1.4-19.1 1.1-4.3 2.8-5.5 1.6-7.2 -0.7-4.2 -0.9-0.8 -1.8,0.2 0.7-7.9 -0.7-2 -8.6,21.1 -9.1,18.3 -1.1,7.1 -0.8,12.8 -3.7,2.1 -5,6.7 -7,4.9 -12.4,5.4 -7.1,0.9 -7-1.7 -5.4,2.1 -22.9-0.2 -1.8,0.7 -3.5,4.3 -1.8,1.1 -8.8,2.8 -6.1,6.9 -1.9,4.3 -6.2,7.4 -3.1,7.4 -3.7,4.3 -8.1,12.7 -8.1,9.7 -3.5,2.8 -7.1,10.2 -3.7,2.8 2.3,4.2 -0.7,10.6 -0.5,2.2 -3.3,4.2 -0.6,2.1 3.3,4.3 -1.2,14.8 2.4,4.3 -0.1,8.5 -1.8,2.1 -0.8,2.1 0,4.2 -2.6,6.4 -1.5,1.8 -1.8,0.5 -0.9,2 0.2,8.4 -1.7,4.3 -1.9,29.7 2.4,4.2 -0.1,17 -3.3,5 -4.7,3.5 -0.5,8.5 -1.9,3 -1.7,0.8 -7.1,0.1zM532.4,454.8l1.7,1.2 3.6,0.7 3.5-1.3 2.4-2.7 1.1-4.3 -0.6-4.2 -1.3-2.2 -3.1-2.1 -7.3-1 -4.1,1 -2.3,2.1 -0.5,2.2 1.6,4.2zM543.3,325.3l6.8,1.6 15.9-3.4 37.1-0.3 24.7-1.3 5.3-1.6 5.2-3.5 2.5-4.2 0-4.2 -1.5-4.3 -4.3-6.3 -6.4-6.4 -6.1-4.2 -5.3-1.7 -8.8-0.7 -5.3-1.4 -27.5-15.4 -16.7-5.2 -19.4-8.1 -16-3.1 -10.6-3.2 -5.3-0.5 -5.3,0.9 -5.3,2.1 -12.4,5.6 -4.3,3.1 -2.7,3.2 -2.6,5.2 -1.4,6.4 0.2,4.3 1.3,4.2 2.5,4.2 11.7,14.9 4.7,4.2 8,4.3 28.6,8 5.3,2.4zM434.4,151.3l7.8,0.8 40.7-0.5 8.8-1 12.4-5.1 12.4-8 5.3-2.4 7-0.8 12.4,0.7 7.1-1.7 4.1-3.2 3-4.2 1-4.3 -0.3-2.1 -3.9-6.4 -5.7-3.8 -7-1.2 -14.2,0.5 -5.3-1.6 -3.5-2.7 -8.9-9.8 -5.1-2.6 -5.5-0.5 -30,0.6 -3.6,1.3 -3.5,2.6 -21.2,25.6 -9.6,6.5 -2,2.1 -1.1,2.1 -0.7,4.3 1.2,8.5 3.2,4.2zM323.7,125.9l0.9-4.3 -0.4-21.2 -2.2-10.5 -1.8-1.5 -1.7-0.1 -2.2,3.6 0.2,10.6z"/>
<path fill="#00f7ff" d="M176.3,563l39.2,0 8.8-6.4 3.2-4.2 -0.1-14.9 1.4-4.2 1.5-2.1 6.2-4.3 13-5 5.3-0.3 8.9,2.6 6.1,2.7 8,5.9 3.5-0.1 3.6-3.4 4.6-6.6 8.2-8.5 1.5-4.3 1.3-14.8 2.1-4.9 8.8-9.4 5.3-7.3 5.3-4.1 7.1-1.3 90.1,1 49.5-0.3 5.3-0.5 3.6-1.4 3.5-3.3 5.3-7.6 8.9-8.6 5.3-8.6 2.9-3.1 20.7-17 6.4-3 5.3-0.5 3.6,1 4.7,2.5 16.5,13.9 15.9,8.2 3.5,3.4 1.1,2.1 0.1,4.2 -1.9,2.2 -2.8,1.2 -12.4,1.1 -3.3,1.9 -1.8,2.1 -2,5.2 -1.7,16 -3.6,5.4 -3.5,1.8 -10.6,0.9 -3.6,1 -3.5,2.9 -5.3,8.2 -8.8,9.1 -7.1,9.6 -3.5,2.1 -11.6,1.5 -4.4,2.1 -1.7,2.1 -1.7,4.3 -1.5,16.9 -1.2,4.3 -3.1,4.2 -7.7,6.4 52.7,0 -0.8-8.5 2.2-9.5 3.5-5.3 6-6.4 7.1-10.6 4.6-2.9 10.6-1.3 3.5-1.6 3.6-3.2 12.2-14.4 9-11.5 5.3-3.5 10.6-3.4 3.5-1.8 8.9-8.6 1.7-0.8 3.6-0.1 12.3,2.8 19.5-0.4 12.3,1.9 10.7,2.6 0-108 -8.9,0.5 -24.7,3.7 -17.7,0.5 -12.4-0.5 -12.3-2.9 -7.1-3.2 -14.2-8 -10.6-3.3 -8.8-1 -38.9-0.5 -7.1-1.2 -15.9-4.3 -8.8-1.2 -7.1,0.3 -5.3,1.3 -7.1,3.6 -14.1,10.5 -27.1,15.6 -4.7,4 -3.1,4.5 -2.6,6.3 -1.8,12.8 -1.3,4.2 -1.8,2.9 -3.6,3.3 -3.5,1 -2.4-0.8 -2.9-2.9 -5.3-8.3 -3.6-2.2 -3.5-0.8 -31.8-0.2 -5.3,1 -14.2,4.6 -12.3,5.8 -13.9,5.1 -4.1,4.2 -5,8.3 -3.5,3.4 -3.6,1.5 -10.6,1.1 -3.5,1.5 -9.8,9.7 -15.6,19.1 -4.7,4.2 -35.3,12.3 -10.6,6.2 -8.9,2.8 -3.5,2.1 -1.8,2.3 -1.3,4.1 0.5,6.3 1.8,4.3 9.3,14.8 1,6.4 -1.8,4.2 -1.9,2.2 -9.5,8.4 -8.1,8.5zM289,563l37.6,0 0.6-2.1 -0.2-2.1 -1.5-1.9 -5.3-1.2 -12.3,2.3 -10.6,0 -3.6,1.1zM124,509.9l0,1.6 10.6-2.4 21.2-11.5 5.3-2.3 1.8,1 11.6-13.9 3.9-6.4 2.8-6.4 7.1-21.2 1.7-8.5 1.9-27.6 0.5-21.2 3.4-33.9 0.8-23.4 1.4-12.7 4-17 3.3-3.8 5.3-2.6 2.9-4.2 0.7-6.4 -3.7-8.4 0.1-2.7 1.8-4.5 7.6-9.8 3-1.3 1.8,0.2 1.8,1.1 0,2.1 -5.4,5.2 -2.1,3.3 -0.6,4.2 1,2.9 3.5,1.4 12.4-3.3 12.4-1.6 5.3-2.4 12.5-9.7 26.3-14.6 5.4-4.6 3.5-4.7 3-5.8 3.3-12.7 0.7-10.7 -0.5-10.6 -1.8-8.4 -3.1-6.4 1.8-8.5 2.7-8.5 0.5-4.2 -1.3-0.5 -4.5,11.1 -9.7,18.8 -1.8,19.4 -1.7,1.5 -1.9,0.6 -5.2,7 -7,4.9 -11,5.1 -4.9,1.4 -5.3,0 -5.3-1.8 -5.4,2 -22.9-0.3 -1.8,0.8 -3.4,4.2 -1.9,1.2 -8.8,2.8 -5.9,6.6 -1.5,2.2 -0.5,2.1 -6.3,7.7 -2.9,7.1 -3.7,4.3 -8.1,12.7 -8.3,10 -3.5,2.8 -5.5,8.4 -4.7,4.3 2,4.2 -0.8,10.6 -0.6,2.2 -2.8,3.4 -1,2.9 3.3,4.3 -1.3,14.8 2.4,4.3 -0.1,8.5 -2.6,4.2 0,4.2 -2.5,6.4 -1.7,2 -1.8,0.6 -0.8,1.7 0.2,8.4 -1.7,4.3 -1.9,29.7 2.4,4.2 0,17 -3.5,5.2 -4.5,3.3 -0.6,8.5 -2,3.3 -1.7,0.7 -7.1,0.1zM545.5,323.2l2.8,0.8 3.5-0.1 8.9-2.4 5.3-0.6 45.9-0.3 12.4-0.8 5.3-1.3 3.5-2.2 2.4-3.7 0.2-4.2 -1.2-4.3 -3.1-5.2 -3.6-4 -5.3-4.1 -5.3-2 -8.8-0.7 -5.3-1.5 -29.2-16.4 -16.8-5.9 -17.6-7.5 -17.7-3 -10.6-3.3 -5.3-0.3 -9.1,3 -10.4,5.4 -4.1,3.1 -3.3,4.2 -1.8,4.3 -0.6,4.2 0.5,4.3 3.3,6.3 13.8,17 5.1,4.2 8.3,4.2 26.5,7.1zM435.9,145l6.3,1.2 14.2-0.6 28.2,0.9 7.1-0.8 8.9-2.7 4.7-2.3 11.2-8.5 5.3-2.5 7-0.8 12.4,0.9 3.6-0.7 4.3-3.2 1.1-2.2 -0.1-4.2 -3.6-4.2 -3.5-1.2 -15.9,0.7 -7.1-1.4 -5.3-3.5 -7.6-9.5 -4.8-3.1 -3.5-0.7 -12.4,0.9 -17.7-0.5 -3.5,1.1 -3.5,2.7 -19.5,23.9 -8.8,9.1 -1.1,2.7 0.2,4.2 1,2.1zM321.6,115.3l0.4,1.7 1.2-1.7 0.6-12.8 -1.8-10.2 -1.8-2.6 -1.7,0.2 -1.3,2 0.1,10.6z"/>
<path fill="#0afff5" d="M184.9,560.9l1.1,2.1 21.8,0 3.9-4.2 5.6-8.5 1.3-10.6 1.9-4.3 3.4-4.2 5.6-4.3 12.9-5.7 7.1-4.3 3.6-0.8 10.6,4.2 10.6,2.6 3.5,0.1 1.8-0.9 5.3-8 5.3-4.8 1.7-2.7 1.6-13.6 3.8-9.9 3.5-4.2 6.2-5 6.2-9.4 3.5-2.8 3.5-1.6 7.1-1 70.7,0.2 33.6-1.4 14.2,0.8 12.3-0.6 10.6,2.1 3.6-0.3 3.5-2.5 4.7-6.9 7.9-6.3 5.1-8.5 3.5-3.9 8.9-4.5 9.6-6.5 9.8-5.4 5.3-2.1 5.3-0.5 5.3,1.6 4.1,2.2 15.4,11.4 17.6,9.9 5,4.1 3.8,4.3 2.5,4.2 0.8,4.3 -0.7,2.1 -2,2.1 -4.1,2.1 -5.3,1.1 -10.6-0.2 -3.5,2.5 -1.3,5.1 0.2,14.9 -2.1,6.4 -2.1,2.4 -7.1,2.6 -10.6,0.1 -3.5,1 -2.5,2.3 -4.9,8.5 -8.5,6.8 -5.3,11.4 -1.8,2.2 -5.3,1.9 -12.4-0.1 -3.5,2.4 -1.3,3 -0.4,4.3 1.7,9 1.8,3.3 1.7,1.7 5.6,0.8 1.7,2.1 -2.4,2.2 -6.6,0.7 -13.3,3.5 36.8,0 0-14.9 1.8-10.6 2.9-4.1 5.3-3.5 3.1-3 5.8-12.6 1.8-1.4 3.5-1.3 12.4-0.5 3.5-1 1.8-1.4 6.7-9.4 7.4-8.1 5.3-10.5 3.3-2.6 3.8-1.1 12.4-1 3.9-2.1 4.5-6.4 2.2-1.9 5.3-1.1 5.3,0.8 12.3,4.3 21.3,1.1 21.2,4.3 0-105.4 -8.9,0.5 -24.7,3.5 -30.1,0.2 -7-1.1 -7.1-2.2 -21.2-11 -10.6-3.1 -8.9-0.8 -37.1-0.3 -23-4.3 -8.8-1 -7.1,0.4 -7.1,2 -5.3,2.7 -12.3,8.4 -15.2,8.5 -15.1,10.6 -3.2,4.3 -1.7,4.2 -0.9,4.3 -0.5,10.6 -2.1,6.3 -5.5,7.7 -7.1,6.2 -3.5,1 -3.6-0.9 -2.7-3.4 -4.4-9.2 -3.5-2.5 -3.5-0.2 -8.9,1.4 -10.6-0.3 -7,0.6 -14.2-2.1 -8.8,1.7 -19.5,8.3 -3.3,2.3 -2.9,4.3 -4.4,13.2 -3.5,3.8 -3.5,1 -12.4-1.7 -3.6,0.8 -3.5,2 -7.1,7 -14.1,17.6 -5.3,5.6 -3.5,1.5 -10.7,0.8 -16.5,5.7 -6.4,3.2 -8.9,6.8 -8.8,3.6 -1.8,1.6 -1.4,3.9 1.2,6.3 3.5,6.4 11.5,17 1.6,4.2 -0.1,2.2 -2.1,2.9 -10.6,4.1 -5.8,3.6 -5.9,6.3zM124,509.9l5.3-0.3 7.1-2.4 24.7-13.8 1.8,2.2 3.2-4.7 0.3-1.7 9.5-13.2 5-10.6 4.6-14.9 1.8-8.5 0.8-14.8 2-17 0.6-17 3.6-33.9 0.1-29.7 1-12.8 2.9-17.6 1.7-4.5 4.7-7.6 2.1-10.6 2.4-6.3 7.1-10.6 3.2-0.9 1.7-1.4 5.3-1.1 3.9,1.2 2.7,2.2 1.4,2.1 2.5,8.5 4.7,2.1 6.1-0.1 3.5-1.5 10.5-6.9 28.4-15.3 5.3-4.2 3.5-4.2 3.6-6.1 2.2-6.3 1.6-8.5 0.5-8.5 -0.5-8.4 -2-8.5 -2.4-4.3 0.3-6.3 2.3-10.6 -0.3-2.9 -2.9,7.1 -9.5,17.2 -1.7,18.9 -5.3,4 -3.6,5.3 -7,4.9 -15.9,6.9 -5.3,0.1 -5.3-2.1 -5.4,1.8 -22.9-0.3 -1.8,1 -3.5,4.2 -10.6,3.9 -5.7,6.3 -1.5,2.2 -0.5,2.1 -6.5,8 -2.7,6.8 -3.7,4.3 -6.6,10.6 -10,12.4 -3.2,2.5 -5.6,8.6 -4.2,4.1 1.5,4.2 -0.9,10.6 -0.5,2.2 -3,3.7 -0.8,2.6 3.2,4.3 -1.3,14.8 2.5,4.3 -0.2,8.5 -2.6,4.2 -0.1,4.2 -2.3,6.4 -1.9,2.1 -1.8,0.8 -0.7,1.4 0.3,8.4 -1.7,4.3 -2.1,29.7 2.5,4.2 0,17 -3.6,5.4 -4.3,3.1 -0.6,8.5 -2.2,3.5 -1.7,0.7 -7.1,0.1zM547.3,319l4.5,0.5 12.4-1.5 47.7,0 8.9-0.6 3.5-0.8 3.9-1.9 1.8-2.1 0.9-4.2 -1-4.3 -2.3-4.2 -3.3-3.6 -3.5-2.5 -3.6-1.3 -8.8-0.9 -5.3-1.5 -30.9-17.8 -32.7-13.4 -5.4-1.4 -12.3-1.3 -10.6-3.3 -5.3-0.4 -3.6,0.7 -5.3,2.3 -6.8,4.1 -5.6,4.2 -3.9,6.4 -0.6,4.2 0.9,4.3 3.6,5.7 12.6,15.5 4.3,4.2 6.9,4.3 5.5,2.1 25.6,5.6zM449.9,136.5l17.1,0.5 21.2-1.1 10.6,0.4 4.9-1.9 2.4-2.2 3.7-6.3 0.2-4.3 -5.9-12.7 -3.5-2.9 -3.6-0.5 -12.4,1.7 -14.1-1.3 -2.7,0.9 -2.4,2.1 -5.5,8 -7.1,5.7 -3.5,4.1 -2.9,5.5 -0.2,2.2 1.3,1.3zM321.2,108.9l0.8,1.1 0.8-7.5 -2.6-10.7 -1.7,0.8 -0.3,9.9 2,5.7z"/>
<path fill="#1dffe2" d="M216.7,526.9l6.3-1 17.7-7 5.8-4.7 4.8-7.7 1.8-0.6 4.3,6.2 6.3,4.2 3.5,0.7 3.5-0.4 3.4-2.4 1.5-4.3 0.9-10.6 1.1-4.2 2-3.1 7-7.5 2.7-6.4 0.9-6.3 -0.2-8.5 -1.1-6.4 -2.3-4 -3.5-1.8 -1.8,0 -3.5,1.4 -5.3,4.9 -11.4,14.4 -4.2,6.3 -1.7,4.3 -2.1,16.1 -1.8-0.5 -2.7-9.3 -2.6-3.6 -3.6-2.3 -5.3-0.8 -9.5,2.5 -9.5,4.2 -9.2,8.9 -7.5,6 -1.1,2.1 -0.1,4.2 3.4,7.3 3.5,4.6 3.5,3zM124,507.8l0,1.4 1.8-0.1 8.8-2.2 26.5-15.1 1.8,2.9 2.6-3.8 0.9-4.3 9.9-14.8 3.7-8.5 5-19.1 0.9-17 2.3-14.9 0.7-16.9 3.7-31.9 0.4-12.7 -1.6-25.5 0.5-8.5 4.6-21.9 5.9-12 6.5-16.6 2.8-4.6 3.1-2.1 10-4.6 5.3-0.5 6.5,2.9 9.4,8.1 5.3,0.1 17.7-7 19.4-10.9 5.3-3.7 3.6-3.7 3.9-6.2 2.5-6.4 1.7-8.5 0.6-8.5 -0.6-8.4 -1.6-6.4 -3.2-6.4 1.6-10.6 -1.4-0.3 -1.8,2.5 -7.1,13.4 -1.6,18.4 -1.9,1.7 -1.8,0.6 -5.3,7.2 -7,5 -15.9,6.9 -5.3,0.7 -5.3-1.9 -5.4,0.9 -22.9-0.3 -5.3,5.3 -10.2,3.6 -5.8,6.3 -1.6,2.2 -0.5,2.1 -6.7,8.3 -2.4,6.5 -3.8,4.3 -6.6,10.6 -10.2,12.6 -3,2.3 -5.8,9.2 -3.6,3.5 1.2,6.3 -1.1,9.2 -0.4,1.5 -3.3,4.2 -0.6,2.1 3.3,4.3 -1.4,14.8 2.4,4.3 -0.1,8.5 -2.6,4.2 -0.1,4.2 -2.3,6.4 -4.3,4.3 0.2,8.4 -1.7,4.3 0,6.4 -1.5,13.4 -0.6,9.9 2.5,4.2 -0.1,17 -3.6,5.6 -4.1,2.9 -0.7,8.5 -2.3,3.7 -1.7,0.6 -7.1,0.1zM667.6,471.8l8,1.8 0-102.8 -8.9,0.3 -24.7,3.5 -31.8,0.1 -7.1-1.1 -5.3-1.6 -23-11.6 -10.6-2.8 -44.2-0.9 -28.3-3.5 -12.4,0.4 -8.8,3.1 -24.7,14.4 -13.6,9.4 -4.6,4.3 -2.6,4.2 -1.2,4.2 0.1,12.8 -0.8,4.2 -7.8,12.7 -2.5,6.4 0.6,4.3 2.3,3.2 3.5,2.5 5.3,2.1 12.4,1.7 28.3-0.5 7.1-1.4 7-3 3.6-2.4 6.2-6.5 4.4-3 10.6-3.9 23-10.2 5.3-1.5 3.5,0 10.1,3.8 18.2,12 12.4,7.1 28.3,22.4 3.5,2.1 12.4,3.8 12.3,4.9 21.3,2.5zM323.5,439.9l5.6,0.4 5.3-0.6 3.5-1.2 3.9-2.8 2.6-4.3 1-4.2 -0.2-4.3 -2-4.4 -3.5-2.2 -5.3,0.2 -11,4.3 -7.1,4.3 -2.4,4.2 0.1,4.3 0.9,1.9 3.6,3zM564.3,314.7l52.9-0.3 5.3-1.7 1.8-1.6 1.3-2.7 -0.1-2.2 -1.6-4.2 -4.9-4.5 -15.9-3.4 -10.6-7 -12.4-6 -10.6-7.2 -31.8-13.6 -17.7-2.1 -10.6-3 -5.3,0 -9,4.4 -5.4,4.2 -3.6,4.2 -1.5,3.5 -0.2,2.9 2.5,6.4 15.3,19.1 7.4,6.3 6.9,3 10.6,2.4 10.6,0.6 10.6-2.5 8.8,3.8zM319.7,102.5l0.5,1.3 1-1.3 -1-3.4z"/>
<path fill="#2fffd0" d="M213.8,520.6l5.7,1.3 8.8-1.2 8.8-2.9 5.3-3.9 3.2-6.1 0.4-6.3 -1.7-8.5 -1.9-3.9 -1.7-1.9 -1.8-1.1 -3.5-0.6 -7.1,1.4 -7.1,3.1 -5.7,5.1 -7.6,10.6 -1.5,4.2 0.2,2.2 2,4.2zM262.8,509.9l2.6,1.6 1.8-0.1 2-1.5 1.5-4.2 0.5-8.5 1.1-4.2 2.4-4.3 6.6-7.7 1.8-3.1 1.2-4 0.4-6.4 -0.9-4.2 -2.5-3.6 -1.7-0.5 -1.8,0.5 -3.5,2.8 -9.3,11.4 -3.3,6.3 -0.8,4.3 -0.5,19.1 1,4.2zM124,507.8l5.3-0.3 7.1-2.5 24.7-14.8 1.8,3.5 2.8-5 0.7-4.5 8.9-13.7 4-9.4 4-16.9 0.7-17 2.4-14.9 0.9-16.9 2.7-17 1.3-14.9 -0.1-14.8 -3.5-23.4 0-6.3 7.2-25.5 13.4-29.7 1.9-2.1 4-2.4 10.6-4.8 5.3-1.5 4,0.2 15.4,7.5 5.3,0.3 5.3-0.9 10.6-3.8 17.7-10.3 5.3-3.8 3.6-4 3.7-6.2 2.3-6.4 1.5-8.5 0.3-8.5 -0.7-6.3 -1-4.3 -3-6.3 0.9-8.5 -0.5-3.1 -3.5,4.8 -5.4,10.1 -1.5,17.9 -2,1.8 -1.8,0.6 -5.3,7.3 -7,5 -15.9,7 -5.3,1.2 -7.1-2.2 -3.6,0.8 -22.9-0.5 -5.3,5.4 -9.7,3.3 -6.2,6.5 -1.5,2 -0.5,2.1 -6.8,8.5 -2.3,6.3 -3.8,4.3 -6.6,10.6 -10.4,12.9 -2.7,2 -8.5,12.7 0.2,6.3 -1.3,10.1 -3.6,4.8 -0.5,2.1 3.2,4.3 -1.4,14.8 2.4,4.3 -0.1,8.5 -2.7,4.2 0,4.2 -2.3,6.4 -4.3,4.3 0.3,8.4 -1.7,4.3 0,6.4 -2.2,23.3 2.4,4.2 0,17 -3.7,5.8 -3.9,2.7 -0.8,8.5 -2.4,3.9 -8.8,0.6zM673.3,471.8l2.3,0.5 0-100.4 -8.9,0.2 -24.7,3.4 -33.6,0.3 -5.3-0.8 -7.1-2.1 -21.2-10.8 -10.6-3.1 -8.8-0.6 -35.4-0.2 -37.1-2.2 -5.3,0.7 -7.1,2.5 -24.7,13.7 -14.2,11.2 -2.4,2.8 -2,4.2 -0.6,4.3 1.3,10.6 -0.2,4.2 -7.7,12.7 -1.2,4.3 0.9,4.2 1.5,2.2 2.7,2.1 4.2,1.9 5.3,1.2 7,0.4 19.5-0.5 8.8-1.5 7.1-3 11.6-9.1 7.9-4.2 12.3-4.9 12.4-3.3 8.8-3.3 3.6-0.9 3.5,0.1 7.1,2.3 11.1,5.7 22.5,14.2 14.1,10.5 23,15 21.2,8.5zM322.9,431.4l4.4,2 5.3-0.5 2.7-1.5 1.8-2.1 0.8-2.1 -0.3-2.1 -1.5-2 -1.7-0.6 -5.3,0.9 -3.7,1.7 -2.5,2.1 -0.9,2.1zM562.2,310.5l7.3,0.7 42.4-1.5 5-1.3 1.1-2.2 -0.7-2.1 -1.8-1.2 -10.6-2.3 -3.6-2 -10.6-8.2 -10.6-4.2 -10.6-8.8 -4.6-3 -27.2-12.2 -5.3-1.1 -12.4-0.7 -10.6-2.5 -3.5-0.2 -5.3,1.7 -3.6,2.3 -5.9,6.3 -1.6,4.3 -0.1,2.1 1.5,4.3 16.1,21.2 5.9,5.1 8.4,3.4 9.3,1.2 5.3-0.7 8.9-3.9 3.5-0.6 3.5,0.9z"/>
<path fill="#42ffbd" d="M217,516.3l6,1.4 7.1-0.5 5.3-1.5 4.8-3.6 2.1-4.3 0.4-6.3 -1.5-6.4 -2.7-4.2 -3.1-1.7 -5.3,0.2 -5.3,1.8 -5.3,4 -4.2,6.3 -2.6,6.3 0.2,4.3 1.2,2.1zM124,505.7l0,1.5 1.8-0.1 8.8-2.3 23-13.4 3.5-2.7 1.8,3.8 2.4-3.8 1.1-6.7 7.8-12.4 3.8-8.5 3.5-14.8 0.8-19.3 2.6-16.8 0.8-14.8 3.2-17 1-12.7 -0.6-17 -1.7-9 -3.7-12.2 -0.3-6.4 11.1-31.5 10.9-23.7 1.3-2.1 2.5-2.1 4.8-2.8 10.6-4.9 10.6-2.7 12.4,5.3 5.3,1.5 5.3,0.3 7-1.3 7.1-3.2 19.4-12 3.7-3.6 4.2-6.3 2.5-6.4 1.4-6.4 0.6-8.5 -0.4-6.3 -1.7-6.4 -2.4-4.2 1-11 -1.8,0.2 -7.1,12.6 -1.4,17.3 -5.4,4.2 -3.8,5.7 -6.8,4.9 -10.8,5.2 -10.6,3.5 -3.6-0.3 -3.5-2 -3.6,0.7 -7-0.8 -15.9,0.1 -5.3,5.5 -8.9,2.8 -1.7,1.2 -5.3,5.9 -1.8,3.8 -6.8,8.4 -2.3,6.3 -3.8,4.3 -6.6,10.6 -10.6,13.1 -2.5,1.8 -6.5,10.6 -1.9,4.2 0.1,4.2 -1.5,10.7 -3.4,4.2 -0.5,2.1 3.1,4.3 -1.4,14.8 2.4,4.3 -0.1,8.5 -2.7,4.2 0,4.2 -2.2,6.4 -4.3,4.3 0.2,8.4 -1.6,4.3 0,6.4 -2.3,23.3 2.4,4.2 -0.1,17 -3.7,6 -3.7,2.5 -0.7,2.1 -0.1,6.4 -0.8,2.1 -1.8,2 -8.8,0.5zM669.5,469.6l6.1,1.4 0-98 -8.9,0.2 -24.7,3.2 -33.6,0.7 -7.1-1 -5.3-1.6 -23-11.4 -10.6-2.9 -81.3-1.4 -5.3,0.8 -5.3,1.9 -23.7,12.6 -12.6,10.7 -4,6.3 -0.5,6.4 2.3,12.7 -1.6,4.3 -5.6,8.4 -0.9,4.3 2.1,4.2 5.6,3.3 5.3,1 5.3,0.2 17.7-0.6 7.1-1.2 7-3.1 14.2-10.2 15.9-7.6 3.5-1.1 12.4-1.8 10.6-3.6 5.3-0.2 9.9,3.7 13.1,6.4 15.9,10.3 15.9,11.8 26.5,16.5 20.1,8.1zM523.8,306.2l8.6,0.1 10.6-4.8 5.3-0.9 5.3,1.3 8.8,4.2 5.3,0.6 12.4-3.3 8.9-0.3 2.2-1.1 0.1-2.1 -2.3-2.7 -8.9-2.6 -1.8-1.2 -8-10.5 -6.1-5.6 -22.1-11.4 -9.7-2.8 -12.4-0.6 -12.4-1.9 -4.7,1.1 -5.3,4.2 -2.5,4.3 -0.5,4.2 1.4,4.3 15.9,21.2 5.6,4.2z"/>
<path fill="#54ffab" d="M220.8,512.1l4,1.5 5.3,0.2 5.3-1.7 2.3-2.2 1.7-4.2 0-4.2 -1.2-4.3 -2.8-3.4 -3.6-1 -3.5,0.5 -3.5,1.6 -2.6,2.3 -2.6,4.3 -1.2,4.2 0.6,4.2zM124,505.7l0,0.5 5.3-0.6 7.1-2.7 19.4-11.5 5.3-4.2 1.8,3.6 2-2.1 1.5-8.8 7.6-12.4 2.8-6.4 3.4-14.8 0.7-19.1 2.4-17 0.5-12.7 3.8-18.3 1-11.4 -0.3-10.6 -1.6-10.6 -2.6-8.6 -4.3-8.4 -0.8-4.3 2.6-8.5 6.6-12.7 6.2-17 9.8-21.2 8.2-6.7 10.6-5 12.4-3.6 5.3,0.3 14.1,5.3 5.3,0.3 5.3-0.8 7.1-3.2 19.4-12.4 3.6-3.5 3.5-5.5 2.3-5.5 1.9-8.5 0.2-10.6 -1.4-6.4 -3.2-6.3 0.8-6.4 -0.6-3 -7.1,11.7 -1.3,16.8 -5.3,4.2 -4,6 -6.4,4.6 -11.2,5.4 -10.6,3.6 -3.6,0.2 -3.5-1.4 -10.6-1.1 -15.9,0.1 -5.3,5.4 -8.9,2.7 -1.7,1.3 -5.3,5.9 -1.8,3.9 -6.6,8 -2.3,6.3 -3.8,4.3 -6.6,10.6 -10.8,13.4 -2.2,1.5 -5.1,8.4 -2.8,6.4 -2,14.9 -3.3,4.2 -0.6,2.1 3.1,4.3 -1.6,14.8 2.4,4.3 0,8.5 -2.7,4.2 -0.1,4.2 -2.1,6.4 -1.4,2.1 -2.9,2.2 0.3,8.4 -1.6,4.3 0,6.4 -2.4,23.3 2.3,4.2 0,17 -3.8,6.2 -3.5,2.4 -0.7,2 -0.2,6.4 -0.7,2.1 -1.9,2.1 -8.9,0.5zM675.1,469.6l0.5,0.1 0-95.7 -8.9,0.2 -24.7,3.2 -35.4,0.9 -7-1 -5.3-1.7 -21.3-10.7 -10.6-3.1 -28.3-1 -40.6,1 -14.2-0.4 -5.3,1 -5.3,2 -19.4,10.2 -5.2,3.8 -6.6,6.4 -4.3,6.3 -0.5,6.4 3,12.7 -0.9,4.3 -5.5,10.6 0.2,2.1 1.3,2.1 4.3,2.4 5.3,0.8 16,0 8.8-1.1 7.1-2.9 13.9-9.8 17.9-9.2 3.5-0.8 10.6-0.3 12.4-3.8 5.3-0.1 19.8,7.8 8.2,4.3 26.8,19.8 28.3,17.2 21.2,8.5zM521.8,302l5.3,0.9 3.5-0.4 10.6-4.4 5.3-1.1 5.3,0.5 10.6,3.4 3.6-0.3 3.2-2.8 0.6-2.2 -0.3-4.2 -2.6-6.4 -4.5-5 -8.7-5.6 -14.2-7.4 -8.9-2.1 -21.2-1 -3.5,0.6 -3.6,2.3 -2.2,3.4 -0.5,4.2 1.4,4.3 13.7,18.2 3.2,3z"/>
<path fill="#66ff99" d="M226.1,507.8l4,1.1 3.5-1.5 1.5-3.8 -1.5-4.3 -3.5-1.2 -3.6,1.5 -2,4 0.1,2.1zM124,503.6l0,1.6 1.8,0 8.8-2.4 21.2-12.5 5.3-4.5 1.8,2.8 1.8-0.4 1.7-10.4 6.3-10.3 3.6-8.5 3-14.8 0.3-17 2.1-17 0.5-12.7 4.4-19.1 0.8-10.6 -0.8-10.6 -2.5-11.3 -3.5-7.4 -5.4-6.8 -1-4.2 1.5-4.3 11.9-21.4 5.4-14.7 8.9-19.1 1.3-2.1 7.4-6.2 14.2-6.7 10.6-2.9 7-1.2 12.4,5.3 5.3,0.7 5.3-0.6 7.1-3.2 19.4-12.7 3.6-3.7 3-4.9 2.5-6.3 1.4-6.4 0.4-6.4 -0.6-6.3 -3.9-10.6 0.7-7.1 -1.7,0.7 -5.4,9.3 -1.2,16.2 -5.3,4.2 -2.6,4.3 -3.2,3.5 -8.9,5.3 -15.9,6.5 -7,1.4 -3.6-2.1 -7.1-1.1 -17.6,0 -5.3,5.3 -8.9,2.8 -7.7,8.1 -1.1,2.9 -6.3,7.7 -2.3,6.3 -3.9,4.3 -6.6,10.6 -11,13.6 -2,1.3 -1.5,2.1 -3.3,6.3 -2.7,8.5 -2.5,12.8 -3.2,4.2 -0.7,2.1 2.2,2.1 0.9,2.2 -1.6,14.8 2.4,4.3 -0.1,8.5 -2.7,4.2 0,4.2 -2,6.4 -1.3,2.1 -3,2.2 0.3,8.4 -1.6,4.3 -0.1,6.4 -2.4,23.3 2.3,4.2 0,17 -3.9,6.4 -3.5,2.5 -0.7,8.1 -0.8,2.1 -1.8,2.1 -9.1,0.7zM671.1,467.5l4.5,1 0-93.4 -8.9,0.1 -22.9,3 -38.9,1.6 -10.6-2.1 -23-11.7 -8.9-2.6 -28.3-1.3 -28.2,1 -14.2,1.4 -12.4-0.8 -5.3,0.8 -5.3,2 -18.6,9.8 -9.4,8.5 -4.3,6.3 -0.5,6.4 3.1,12.7 -0.3,4.3 -2.6,8.4 -0.1,2.2 1.5,2.1 1.2,0.6 5.3,1.1 10.6,0.6 10.6-1 5.3-2.3 14.1-9.6 19.5-10.4 3.5-0.6 12.4,0.3 10.6-3.4 3.5-0.3 24.8,9 6.6,3.3 27,20.9 28.3,16.9 21.2,8.4zM520.7,295.6l2.8,1.3 3.6,0.6 17.7-4.2 14.1,0.6 2-0.4 1.5-1.7 0.3-2.5 -1.7-4.3 -3.9-4.2 -12.2-8.5 -7.2-3.7 -5.3-1.4 -5.3-0.4 -14.2,0.4 -4,0.8 -2.9,2.2 -1.1,2.1 -0.2,2.1 1.1,4.3 5.8,8.4z"/>
<path fill="#79ff86" d="M124,503.6l0,0.7 5.3-0.6 7.1-2.8 19.4-11.6 5.3-4.9 3.6,2.8 1.7-11.3 6.2-10.5 2.6-6.4 3-14.8 0.2-19.1 1.7-14.9 0.4-12.7 4.9-19.1 0.7-10.6 -1.3-10.6 -2.5-8.7 -3.5-6.7 -7.1-8 -1.5-4.2 0-2.1 1.9-4.3 14-21.2 6.8-17.6 7.7-16.4 10-8.9 14.2-6.7 13-3.5 4.6-0.5 6.2,0.5 4.5,2.6 5.3,1.7 7-0.3 5.3-2.2 21.2-14 3.6-3.9 2.9-5.1 2.3-6.3 1.1-6.4 -0.4-10.6 -1.3-4.3 -2.4-4.2 0.2-6.4 -0.6-0.8 -5.4,8.6 -1.2,15.6 -5.1,4.2 -4.3,6.4 -5.6,4.2 -13.8,6.6 -12.4,4.1 -5.1-0.1 -1.7-2.1 -5.6-0.9 -17.6,0 -3.6,4.1 -3.5,2.4 -7.1,1.6 -1.7,1.2 -5.3,5.8 -1.8,4 -6.1,7.3 -2.3,6.3 -4,4.5 -6.5,10.4 -14.4,17 -2.3,4.2 -1.5,6.6 -3.4,8.3 -1.4,8.5 -3.2,4.2 -0.6,2.1 2.1,2.1 0.9,2.2 -1.7,14.8 2.4,4.3 -0.1,8.5 -2.7,4.2 0,4.2 -2,6.4 -1.2,2.1 -3,2.2 0.2,8.4 -1.5,4.3 -0.1,6.4 -2.5,23.3 2.3,4.2 -0.1,17 -3.7,6.4 -3.7,2.8 -0.6,7.8 -0.7,2.1 -1.7,2.1 -2.3,0.7 -7.1,0.1zM208.9,251.1l3.5-4 3.5-1.9 5.3-0.9 4.3,0.4 -4.3,0.4 -0.6,1.7 -2.9,0.8 -1.8,1.5 -3.5,0.9 -1.8,1.5zM667.1,465.4l8.5,1.8 0-91.1 -8.9,0.1 -22.9,3 -42.5,2.3 -8.8-1.9 -21.7-11.8 -10.1-2.8 -26.6-1.5 -28.2,1.6 -14.2,2.2 -14.1-1.3 -8.9,2.5 -17.6,9.6 -7,6.7 -4.2,6.3 -0.8,4.3 2.8,12.7 0.8,12.7 1.3,2.2 3.8,2.1 10.3,1.5 5.3-0.6 3.6-1.1 15.9-10.1 21.2-11.8 3.5-0.4 8.9,1.3 3.5-0.1 10.6-3.4 3.5-0.2 14.2,5.7 14.1,4 5,2.4 25.1,21.1 15.5,8.6 12.8,8.2 21.6,8.8zM520.2,289.3l3.3,1.4 5.3,0.5 11.8-1.9 7.7-2.2 2.2-2.1 -0.2-2.1 -5-6.4 -5.6-4.2 -3.8-1.8 -8.8-1.4 -11.4,1.1 -4.3,2.1 -1.2,2.1 -0.1,2.1 2.9,6.4 3.5,3.7z"/>
<path fill="#8bff74" d="M124,501.5l0,1.9 3.5-0.3 8.9-3.1 18.7-11.3 6-5.8 3.6,3.1 1.7-12 6.1-10.7 3-8.5 1.7-10.6 0-19.1 1.7-27.6 1.2-6.4 4-12.7 0.6-10.6 -1.9-10.6 -3.2-8.5 -2.8-4.3 -6.8-7.6 -1.8-3.2 -1.1-6.1 1.5-4.3 6.7-7.5 9.3-13.7 8.3-20.4 6.7-13.6 11-9.5 12.4-6.2 15.9-4.1 12.4-1 1.8,1.7 4,2.2 4.8,0.8 3.5-0.4 5.7-2.6 8.5-6.3 8.8-4.8 4.5-3.7 2.6-3.2 2.8-5.3 2.8-10.6 -0.1-8.5 -1-4.2 -3.1-6.4 0.4-5.3 -1.8,1.3 -3.6,6 -1.1,15 -5.1,4.2 -4.4,6.7 -7,5 -12.4,5.8 -14.1,4.4 -5.4-0.2 -1.3-0.5 -0.6-2.1 -3.4-0.5 -17.6,0 -5.3,6.5 -3.6,0 -1.7,1.3 -3.6,0.3 -1.3,0.9 -5.7,6.1 -1.8,4 -5.9,6.9 -2.3,6.3 -4.2,4.7 -6.3,10.2 -14.2,17 -7.3,19.1 -1.5,8.5 -3.2,4.2 -0.6,2.1 2.2,2.1 0.7,2.2 -1.7,14.8 2.3,4.3 0,8.5 -2.7,4.2 -0.1,4.2 -1.9,6.4 -1,2.1 -3.1,2.2 0.2,8.4 -1.5,4.3 -0.1,6.4 -2.6,23.3 2.2,4.2 0,17 -3.7,6.4 -3.8,3.2 -0.5,7.4 -0.6,2.1 -1.7,2.1 -2.5,0.8 -7.1,0.1zM207.1,253.6l-1.2-0.4 3-5.4 1.7-2.1 3.6-2.5 5.3-1.1 12.5,0.5 -3.7,0.2 -1.8,2.3 -3.5,0.7 -7.1,3.9 -7,2.5zM672.8,465.4l2.8,0.6 0-88.9 -8.9,0.2 -21.2,2.8 -47.7,3.5 -8.8-2 -18.4-11.7 -4.6-1.9 -5.3-1.1 -26.6-1.9 -28.2,2.2 -14.2,2.9 -14.1-2 -8.9,2.6 -13.9,7.7 -7,6.4 -4,6.3 -0.8,6.4 3.6,19.1 2.7,4 3.5,1.9 7.1,1 7.1-1.6 33.6-20.5 3.5-1.5 3.5-0.2 10.6,2 3.6-0.5 8.8-3 3.5-0.1 14.2,6.1 14.1,2.9 5.3,1.9 5.3,3.9 9.5,10 10,8.6 30,17.4 25.3,10.1zM522.4,285l6.4,1 7.1-1.4 3.6-2.1 0.9-1.7 -0.2-2.1 -3.7-4.3 -4.1-1.8 -7.1-0.6 -5.3,0.9 -2.9,1.5 -1.2,2.1 0.1,2.2 2.9,4.2z"/>
<path fill="#9eff61" d="M124,501.5l0,1 3.5-0.3 8.9-3.2 17.7-10.5 3.5-2.8 3.5-4.2 1.8,0.6 1.8,2.3 1.7-12.2 5.9-11.1 2.7-8.4 1.4-10.7 -0.3-16.9 1.2-27.6 1.2-6.4 4.3-12.7 0.6-8.5 -1.4-8.5 -3.2-8.5 -2.4-4.2 -7.1-8.5 -2.9-4.8 -1.6-5.8 0.1-6.4 1.3-2.1 5.5-4.4 3.6-3.8 8.8-12.4 8-19.7 5.2-10.6 13.3-12.3 12.4-6.4 14.1-3.6 14.2-1.5 3.6,0.4 2.4,2.1 2.8,1 5.3,0 3.6-1.4 8.8-6.9 8.8-4.3 5.3-3.9 5.4-7.8 2.2-6.4 1-6.3 -0.7-8.5 -3-6.4 -0.5-4.2 -0.8-0.7 -3.6,5.4 -1,14.4 -5.1,4.2 -3.9,6.4 -2.3,2.2 -7.1,4.3 -10.6,4.9 -10.6,3.8 -7.1,0.9 -3.5,1.3 -5.3-0.1 -1.8,1.9 -3.5,0.8 -3.6,2.1 -22.9,9.8 4.9-10.7 -3.2-0.5 -0.7,0.5 -6.3,6.4 -1.8,4.1 -5.7,6.5 -2.2,6.3 -4.5,5 -7.1,11.1 -13.1,15.8 -7.4,19.1 -1.6,8.5 -3.1,4.2 -0.6,2.1 2.2,2.1 0.6,2.2 -1.7,14.8 2.3,4.3 -0.1,8.5 -2.7,4.2 0,4.2 -1.8,6.4 -1,2.1 -3.1,2.2 0.2,8.4 -1.5,4.3 -0.2,6.4 -2.6,23.3 2.2,4.2 -0.1,17 -3.5,6.4 -3.1,2.1 -0.9,1.4 -0.3,7.1 -2.3,4.2 -2.7,0.9 -7.1,0.1zM669,463.3l6.6,1.4 0-86.5 -8.9,0.1 -19.4,2.6 -23,1.8 -33.6,4.3 -5.3-1.4 -9.6-9.3 -6-4.3 -3.8-1.7 -5.3-1.3 -28.3-2.4 -14.2,2.1 -12.3,0.7 -12.4,3.7 -3.5-0.2 -10.7-2.5 -7,1 -9.4,4.9 -8.9,6.3 -3.5,4.3 -3,6.3 -0.4,8.5 1.5,8.5 1.4,4.3 3.9,4.2 6,1.6 3.5-0.3 5.3-2.1 8.9-5.7 12.4-6.6 10.6-7.7 3.5-1.3 3.5,0.1 10.6,2.6 3.6-0.4 8.8-2.9 3.5-0.1 16,7.1 17.6,1.9 5.3,3.2 8.2,10.6 6.1,6.4 10.5,8 12.4,6.2 15.9,9.1 21.2,8.7zM217.7,238.3l10.6,1.6 5.3-0.1 3.5-1.4 0.8-2.2 -18.4-0.1z"/>
<path fill="#b0ff4f" d="M124,501.5l7.1-1.1 7-3.4 16-9.4 3.6-3.1 3.4-4.5 1.8,0.2 1.8,2.4 1.7-12.3 4.9-9.2 2.7-8.4 1.4-10.7 -0.5-16.9 0.7-27.6 1.1-6.4 4.6-12.7 0.5-8.5 -1.2-6.5 -3.4-8.4 -10.6-14.8 -2.7-6.4 -1-3.8 -0.2-6.8 1.8-4.2 0.2-2.2 3.5-0.5 3.5-2.2 8.9-10.6 4.8-7.9 5.5-14.8 3.9-8.5 3.6-4.3 10.5-9.8 14.1-7.9 14.1-3 17.7-1.4 1.8-1.2 3.5,2.8 5.3,0.5 5.3-3 5.3-5.5 10.6-3.8 5.2-3.7 3.3-4.3 2.1-4.2 2.5-10.6 -0.2-6.4 -2.2-6.1 -1.9,1.9 0.6-4.3 -0.5-3.3 -3.6,4.5 -0.9,13.7 -5,4.2 -4.7,7.2 -8.8,6 -21.2,8.7 -15.9,3.2 -31.8,14 -1.8,1.5 -0.7-0.3 4-10.6 -1.5-0.4 -4.7,4.7 -2,4.2 -5.9,6.4 -2.2,6.3 -4.7,5.3 -6,9.6 -13.9,17 -7.5,19.1 -1.6,8.5 -3.1,4.2 -0.6,2.1 2.3,2.1 0.5,2.2 -1.8,14.8 2.3,4.3 -0.1,8.5 -2.7,4.2 -0.4,6.4 -2.3,6.3 -3.1,2.2 0.1,8.4 -1.5,4.3 -0.1,6.4 -2.6,23.3 2,4.2 0,17 -3.5,6.4 -3,2.1 -1.1,1.8 -0.2,6.7 -1.6,3.6 -1.8,1.3 -1.7,0.4 -7.1,0.1zM674.8,463.3l0.8,0.1 0-84.2 -8.9,0.2 -47.9,5.4 -15.7,3.3 -17.7,5.7 -7.1,1.2 -1.2-1.8 -0.3-6.3 -1.1-4.3 -2.5-4.2 -5-4.3 -7.5-2.7 -10.6-0.6 -12.4-2.4 -5.3-0.2 -14.2,2.8 -12.3,0.9 -12.4,4.7 -3.5-0.5 -10.7-3.4 -5.3,0.5 -6.7,3.1 -8.3,6.3 -3.7,4.3 -3.1,6.3 -1.3,8.5 1.4,8.5 2.3,3.8 1.8,1.4 5.3,1.4 5.3-1.3 19.4-10.7 4.8-3.1 7.6-6.5 5.3-2.3 3.5,0.4 10.6,3.5 3.6-0.3 8.8-2.9 3.5,0 12.4,6.4 7.1,1.7 7.1-0.3 12.3-2.2 1.4,0.4 1.3,2.1 2.8,8.5 3.6,6.4 7.7,8.5 8,6.2 14.1,6.9 12.4,7.2 19.5,8.4 14.4,5.2z"/>
<path fill="#c3ff3c" d="M124,499.3l0,1.3 5.3-0.6 8.8-3.9 16-9.5 3.5-3.2 3.5-4.9 1.8-0.1 1.8,2.4 1.1-11.2 5.3-10.6 2.8-10.6 0.6-8.5 -0.7-17 0.1-25.4 1-6.4 4.7-12.7 0.7-6.4 -1.1-6.3 -2.5-6.4 -3.5-6.4 -7.5-10.6 -3-6.4 -0.8-4.2 0.8-10.6 1.4-2.1 0.6-2.9 1.4-1.4 0.3-1.9 1.8,0.5 3.5-1.7 10.6-12.6 2.9-5.5 6.3-17 2.8-4.2 14.6-15.3 3.1-1.7 -1.4-0.8 -1.7,0.4 -7.1,3.4 -1.8-0.2 -0.4-0.7 2.8-8.5 -0.6-0.1 -2.4,2.3 -1.9,4.2 -6.1,6.4 -2.4,6.3 -4.9,5.6 -7.1,11 -12.5,15.3 -0.3,2.1 -7.2,17 -1.8,8.5 -0.9,2.1 -2.1,2.1 -0.5,2.1 2.3,2.1 0.4,2.2 -1.9,14.8 2.2,4.3 0,8.5 -2.7,4.2 -0.4,6.4 -2.2,6.3 -3.1,2.2 0.1,8.4 -1.5,4.3 -2.8,29.7 2,4.2 -0.1,17 -3.3,6.4 -3,2.1 -1.3,2.1 0,6.4 -1.8,3.8 -3.5,1.6 -7.1,0.1zM671.4,461.1l4.2,1 0-81.9 -8.9,0.3 -35.3,3.9 -15.3,2.5 -9.5,2.5 -8.8,3.3 -10.6,5.2 -4.5,3.8 -1,2.2 -0.5,4.2 2.2,6.4 6.6,8.4 7.7,6.4 16,7.6 12.7,7.3 19.3,8.5 11,4.2zM460.4,412.3l3,0.4 3.6-1 19.4-9.8 5.5-4.4 5.1-6.4 3.6-2.8 5.3,0.4 12.3,5.2 3.6-0.2 8.8-2.6 3.5,0.1 3.6,1.4 10.6,6.2 7.1,0.8 7.4-2.1 4.9-3.8 2.6-4.7 0.2-6.4 -2.3-4.2 -2.5-2.1 -3.3-1.5 -14.1-1.8 -12.4-2.9 -5.3,0.2 -10.6,3 -12.4,1.5 -3.8,1.5 -6.8,4.7 -1.7,0.4 -3.6-0.7 -10.6-5 -3.5-0.6 -3.6,0.6 -5.4,2.7 -4.8,4.2 -3.5,4.3 -3.2,6.3 -1.7,6.4 0.1,6.4 1.9,4.2zM212,253.2l0.4,1.2 2.9-1.2zM226.4,246.8l1.9,1.1 8.8-1.4 16-1.2 3.5-1.1 5.3,0 3.5,0.8 0.8-0.3 2.5-4.2 3.8-0.5 1.9-1.7 3.4-0.6 1.6-1.5 5.5-1.3 3.5-1.8 3.5-3 3.3-4.5 2.1-4.6 1.4-6 0-8.5 -1.4-4.3 -1.8,2.8 -0.8-7 -1-0.6 -1.8,2.5 -0.8,13 -5,4.2 -3,5.4 -3.5,3.7 -7.1,4.4 -10.6,4.8 -10.6,4 -14.2,2.8zM263.7,244.3l-0.4-1.7 2,0z"/>
<path fill="#d5ff2a" d="M124,499.3l3.5,0.2 5.3-1.7 17.7-9.7 5.3-3.9 5.3-7.3 1.8-0.4 1.8,2.6 0.1-9.5 6.1-12.7 2.4-10.6 -1.1-48.8 1.4-8.5 4.4-12.7 0.2-4.3 -1.2-5.6 -2.9-7.1 -9.4-15.2 -3.6-7.8 0.9-13.1 4.4-12.1 5.3-2 8.9-9.7 3.5-6 6.4-16.9 7.8-9.5 7.5-7.4 1.3-2.3 -1.8-0.2 -5.3,2.7 -1.7,0.3 -0.9-0.5 0.7-2.2 -1.6-0.5 -4.6,4.8 -2.6,6.3 -5.2,5.8 -5.6,9.1 -13.5,17 -0.2,2.1 -2.5,4.2 -5.1,12.8 -2.5,10.6 -2.4,2.8 -0.4,1.4 2.2,1.8 0.4,2.5 -1.8,14.8 2.1,4.3 -0.1,8.5 -2.6,4.2 -0.4,6.4 -2.1,6.3 -3.1,2.2 0.1,8.4 -1.5,4.3 -2.8,29.7 1.9,4.2 -0.1,17 -3.2,6.4 -3,2.1 -1.4,2.1 0,6.4 -1.9,4 -3.5,1.5 -7.1,0.1zM668.8,459l6.8,1.7 0-79.5 -8.9,0.4 -31.8,3.7 -17.7,3.1 -9,2.7 -9.8,4.3 -7.9,4.2 -4.6,4.2 -1.4,4.3 1.5,6.4 6.5,8.4 7.1,5.7 15.9,6.9 11.6,6.5 18.4,8.5 10.2,4.3zM462.3,406l2.9,0.9 3.5-0.6 12.2-4.6 5.5-3.4 3-2.9 2-4.3 -0.4-4.2 -1.4-2.1 -5.1-4.3 -5.2-2.3 -4.6,0.2 -4.2,2.1 -5.5,6.4 -2.8,6.3 -1.6,8.5zM545.6,395.4l4.5,1.7 3.5,0.2 3.5-0.8 3.6-1.9 3.2-3.5 1.7-4.2 -0.3-4.3 -1.1-2.1 -2.7-2.1 -2.6-0.9 -10.6-1.7 -8.8-2.8 -5.4-0.8 -5.3,0.9 -19,7.4 -0.4,2.1 1.4,2.2 5.7,4.4 3.5,0.9 8.8-1.8 5.3,0.1 3.6,1.4zM233.4,244.7l2,0.7 10.6-0.2 14.1-1.9 1.8-0.9 5.3-1 1.8-1.4 3.5-0.7 1.1-1 7.7-2.7 1.6-1.5 2-0.4 3.5-2.2 5.6-5.9 2.1-4.2 1.8-6.4 0-8.5 -0.6-2.2 -1.8,5 -1.8-10.4 -1.8,2 -0.7,12 -2.8,3 -2.1,1.2 -3.2,5.8 -3.5,3.6 -7.1,4.3 -19.4,8.4 -14.7,3.4 -1.3,1.1z"/>
<path fill="#e8ff17" d="M124,497.2l0,1.5 7.1-1.1 19.4-10.4 6-4.8 4.6-7.2 1.8-1.2 1.8,3.3 -0.8-7.7 6-12.7 2.5-10.6 0.2-8.5 -1.9-25.5 -0.4-14.8 1.2-8.5 4.2-14.9 -0.4-4.4 -2.9-8.3 -11.3-20.5 0.2-15.6 0.9-4.2 4.2-10.9 1.8-2.5 5.3-2.6 7.1-7.8 3.2-5.9 2.7-8.5 3.1-6.4 13.4-14.8 1.4-2.1 -0.8-0.5 -5.3,1.8 -1.8,1.3 -1.5-0.5 0.7-2.1 -1-0.4 -1.8,1.9 -3.3,6.9 -5.5,6.1 -5.4,8.8 -11.7,14.9 -4.4,8.4 -5.2,12.8 -2.4,10.6 -2.7,3.6 -0.2,0.6 2,1.3 0.6,3 -1.9,14.8 2.1,4.3 -0.1,8.5 -2.7,4.2 -0.3,6.4 -2,6.3 -3.1,2.2 0,8.4 -1.5,5.4 -2.7,28.6 1.7,4.2 0,17 -3.2,6.4 -2.9,2.1 -1.5,2.1 0,6.4 -2,4.2 -3.5,1.4 -7.1,0.1zM674.6,459l1,0.3 0-77.1 -38.9,4.1 -17.7,3.4 -10.4,3.5 -8.9,4.3 -7.2,4.2 -4,4.3 -1,4.2 2.3,6.4 5.4,6.3 5.3,4.3 4.4,2.3 12.3,4.3 15.1,8.2 18.5,8.8 10.6,4.2zM469.5,399.6l2.8,0.6 5.3-0.8 4.2-1.9 2.6-2.1 2.1-4.3 -0.9-4.2 -1.7-2.1 -2.8-2.2 -3.5-1.1 -3.6,0.9 -2.9,2.4 -2.6,4.2 -1.1,4.2 0.3,4.3zM546.6,393.2l5.2,1.4 5.3-1.9 1.8-1.9 1.4-3.9 -0.3-2.1 -1.3-2.2 -4.2-2.1 -8-1.7 -10.6-3.5 -6,1 -3,2.1 -1.6,2.1 0.3,2.1 12.1,3.5zM241.2,242.6l1.2,1.6 1.8,0.3 14.2-1.5 12.3-3.6 14.2-6.3 7.8-7.5 3.9-8.5 -1.2-2.1 -0.6-6.4 -1.5-6.3 -1.4-0.5 -0.7,11.1 -2.8,3.1 -2,1.1 -3.3,6.2 -3.5,3.5 -7.1,4.3 -19.4,8.6z"/>
<path fill="#faff05" d="M124,497.2l0,0.6 3.5-0.2 5.3-1.7 16-8.5 5.3-3.6 3.5-4 4.8-8 7.2-17 1.6-6.4 0.5-8.5 -3.2-31.8 -0.2-10.6 0.9-8.5 3-12.7 0.2-4.3 -1.2-6.3 -2.1-6.4 -8-14.9 -0.5-10.6 0.5-9.5 4.9-13.8 2.2-4.1 1.8-2.4 5.3-2.9 4.8-5.5 2.4-4.2 3.1-8.5 3.5-6.4 12.7-15 -3.2,0.2 -3.9,2.3 -1.8,0.2 -1.7,1.6 -1.1,2.2 -6,6.4 -5.2,8.5 -11.6,14.9 -6.3,12.7 -4.8,12.7 -0.9,6.4 -2.8,4.2 1.6,0.8 0.7,3.5 -1.9,14.8 2,4.3 0,8.5 -2.7,4.2 -0.3,6.4 -1.9,6.3 -3.1,2.2 -0.2,10.6 -1.3,4.2 -2.8,27.6 1.7,4.2 -0.1,17 -3,6.4 -4.4,4.2 0,6.4 -2,4.2 -3.7,1.5 -7.1,0.1zM672.6,456.9l3,0.8 0-74.4 -34.8,3.6 -18.3,3.6 -8.3,2.7 -9.3,4.2 -7.5,4.3 -5.1,4.3 -1.7,4.2 0.9,4.3 4.4,6.3 5.4,4.7 5.3,2.6 12.4,3.7 14.3,8.1 17,8.5 9.8,4.3zM475.8,393.2l1.8,0.1 1.7-1.3 0.6-0.9 -0.6-2.4 -1.7-0.9 -2.3,1.2 -0.7,2.1zM548.1,389l2,0.7 1.7-0.2 0.7-0.5 0.1-2.1 -2.5-1.6 -1.8-0.1 -1.5,1.7zM244.9,242.6l8.2,0.7 12.3-2.6 10.6-3.8 10.6-5.7 6.6-7.7 2.4-6.4 -1.4-8.5 -2.3-5.5 -0.6,9.8 -2.9,3.2 -1.8,1 -3.4,6.4 -3.6,3.6 -15.9,8.5 -14.2,5.9z"/>
<path fill="#fff100" d="M124,495.1l0,1.7 1.8,0 7-1.9 15.9-8.3 5.4-3.8 4.9-6.8 9.6-21.2 1.9-8.5 0.2-8.5 -4.1-27.6 -0.6-10.6 0.9-10.6 2.7-14.9 -1-8.4 -1.7-6.4 -6.5-12.7 0.3-21.3 5-14.8 2.2-4.3 3.3-4.2 0.5-1.9 3.6-1.6 3.5-3.5 8.6-16.3 11.6-14.9 -0.7-0.7 -1.8,0.3 -5.3,3.4 -5.3,5.8 -6.7,10.3 -11.5,14.9 -4.8,9 -5.8,14.3 -1.5,8.5 -2,4.2 1.3,2.1 0.1,2.2 -1.9,14.8 1.9,4.3 -0.1,8.5 -2.6,4.2 -0.3,6.4 -1.8,6.3 -3,2.2 -0.4,2.1 0.4,6.3 -4.4,34 1.6,4.2 -0.1,17 -2.9,6.4 -4.5,4.2 0,6.4 -0.5,2.1 -1.4,2.1 -3.9,1.7 -7.1,0.1zM671.3,454.8l4.3,1.3 0-71.8 -33.6,3.6 -15.9,3.4 -8.9,2.9 -8.8,4 -9.2,5.7 -4.2,4.2 -0.9,4.2 1.6,4.3 3.4,4.2 4,3.3 5.3,2.3 12.4,3.4 29.9,16.5zM252.3,242.6l11.4-1.9 12.3-4.1 7.1-3.5 5.3-4 2.9-3.5 3.2-6.4 -0.5-8.5 -2.1-6.2 -0.5,8.4 -1.2,1.7 -3.5,2.5 -3.2,6.4 -2.2,2.2 -8.8,5.9 -19.3,8.9z"/>
<path fill="#ffdf00" d="M124,495.1l0,0.6 3.5-0.1 5.3-1.7 14.2-7.2 6.4-4.3 4.7-6.4 10.1-23 1.5-8.8 -0.2-8.5 -5.7-27.6 -0.6-6.4 1.9-16.9 2-6.4 -0.6-10.6 -1.5-8.5 -5.6-11.4 1.3-24.7 4.7-12.7 6.3-11.3 7.1-7.1 8.2-13.4 9.5-13.1 -1.8-0.3 -3.5,2.5 -5.3,5.2 -6.5,9.9 -10,12.7 -6.5,11.6 -5.6,13.9 -1.5,9 -1.3,3.7 0.7,4.3 -2,14.8 1.9,4.3 -0.1,8.5 -2.6,4.2 -0.3,6.4 -1.6,6.3 -2.8,2.2 -0.8,2.1 0.7,6.3 -4.7,34 1.5,4.2 -0.1,17 -2.8,6.4 -4.5,4.2 0,6.4 -0.4,2.1 -1.4,2.1 -2.4,1.5 -8.8,0.4zM670.6,452.7l5,1.6 0-68.9 -31.8,3.5 -16,3.6 -8.2,2.9 -8.9,4.2 -6.5,4.3 -4.7,4.2 -1.2,2.1 0,4.3 2.5,4.2 4.1,3.5 3.5,1.6 14.1,3.9 28.8,16.5zM255.3,240.5l3.1,0.4 4.2-0.4 11.7-3.7 8.8-4 5.3-4.1 4.8-7.3 0.7-2.2 -0.4-8.5 -1.6-5.1 -0.4,7.3 -1.3,1.9 -3.2,2.3 -3.3,6.4 -2.4,2.5 -7,4.9z"/>
<path fill="#ffcc00" d="M124,493l0,1.8 7.1-1.2 14.1-6.8 7.1-4.5 5.3-7 9.6-22.6 1.5-8.5 -0.5-9.8 -1.8-8.3 -5.3-15.9 -0.1-10.6 1.8-10.6 1.1-2.1 0-4.3 1.3-2.1 -1.4-2.1 0.7-8.5 -0.4-6.4 -3-9.2 -1.7,12.5 -0.3-1.1 0-10.7 0.3-1.4 0.9-0.7 -0.9-1.8 -0.4-4.5 1.4-23.4 4.7-12.7 4.5-8.5 2.1-3.5 8.9-10.2 7.5-11.8 5-6.3 1.2-2.2 -1.4-0.6 -7.9,7 -5.3,8.5 -10,12.7 -6.8,12.1 -5.5,13.4 -2.2,12.7 0.1,4.3 -1.9,14.8 1.7,4.3 0,8.5 -2.5,4.2 -0.4,6.4 -1.5,6.3 -2.4,2.2 -1,2.1 0.7,6.3 -1.1,4.3 -3.8,29.7 1.4,4.2 -0.1,17 -2.7,6.4 -4.6,4.2 0,6.4 -0.4,2.1 -1.4,2.1 -2.5,1.6 -8.8,0.4zM670.5,450.5l5.1,1.9 0-66 -30.1,3.4 -14.6,3.4 -11.1,4.3 -7.8,4.2 -5.5,4.3 -3.4,4.2 -0.4,4.3 1,2.1 2.9,2.9 17.7,6.3 27.9,16.2zM260.4,238.3l1.5,1.1 1.8-0.1 11.5-3.1 7.9-3.7 5.3-4.2 4.6-6.9 0.5-2.2 0-6.3 -1.6-6.1 -0.3,6.1 -1.4,2 -3,2.2 -3.2,6.4 -2.7,2.9 -7,4.9z"/>
<path fill="#ffba00" d="M124,493l0,0.8 3.5-0.4 5.3-1.6 14.2-6.8 5.3-3.7 2.8-3.2 2.3-4.2 8.8-21.2 1.5-8.5 -0.5-8.5 -2.5-9.6 -3.6-7.5 -0.5-4.1 -0.1-14.9 1.5-8.5 -0.1-2.1 -2.4-2.1 2.2-8.5 1-10.6 -1.6-9.3 -0.5,7.2 -1.2,2.5 -0.7-2.5 0.1-21.3 1.3-21.2 5.5-14.8 3.5-6.4 2.6-4.2 10.6-12.7 8.7-12.8 1.2-2.1 -1-0.8 -6,5 -5.2,8.5 -10.1,12.7 -7,12.6 -5.3,13 -4.1,31.7 1.7,4.3 0,8.5 -2.5,4.2 -0.3,6.4 -1.5,6.3 -2.1,2.2 -1,2.1 0.6,6.3 -5.2,34 1.3,4.2 -0.1,17 -2.7,6.9 -4.4,3.7 0,6.4 -0.4,2.1 -1.4,2.1 -2.7,1.7 -8.8,0.4zM148.8,411.2l-0.5-5.2 1.7-4.3 0.5-4.2 1.8-2.2 1.8-0.5 1.7-1.4 3.6-6.1 0.4,3.8 -1.8,4.3 -0.4,15.2 -1.8,0.5 -3.5-1.6zM670.9,448.4l4.7,1.9 0-62.7 -30.1,3.5 -9.2,2.1 -15.9,6.4 -6.7,4.3 -4.2,4.2 -1.7,4.2 0.4,2.2 2,2.3 14.1,6.3 29,16.8zM262.9,238.3l3.6,0 7.8-2.1 8.8-4 5.3-4.3 4.3-6.5 0.5-2.2 -0.1-6.3 -1.2-4.9 -0.2,4.9 -1.5,2.1 -2.7,2.1 -4.4,7.9 -3.5,3.4z"/>
<path fill="#ffa800" d="M124,490.9l0,2.1 8.8-2.3 13.4-6.2 6.1-4.3 4.2-6.3 7.8-19.1 2.1-8.5 0.1-6.4 -1.8-8.7 -1.8-4.2 -3.5-5.3 -0.7-3 1.2-8.5 0.2-14.8 -0.7-0.9 -0.6,0.9 -0.4,16.9 -2.6,6.4 -3.5-1.3 -5.3,0.7 -1.8-2.4 -1.8,11.5 1.2,4.2 -0.1,17 -2.8,7.3 -4.3,3.3 -0.4,8.5 -2.4,3.2 -1.8,0.8 -8.8,0.5zM671.8,446.3l3.8,1.6 0-59.2 -10.6,1.9 -17.7,1.6 -8.8,2 -8.7,3.3 -8.3,4.2 -3,2.2 -4,4.2 -0.8,2.1 0,2.1 1.2,2.2 2.8,2.1 38.4,22.1zM148.2,401.7l0.8,0 0.7-4.2 1.4-2.1 1-4.3 3.7-3.7 1.8-2.8 2.9-10.5 0.3-4.2 -2.4-2.1 -0.1-2.1 0.3-21.3 1.1-21.2 0.7-2.1 4.7-12.7 5.8-10.6 11.4-13.5 7.8-12 -0.7-0.8 -3.9,2.9 -5.2,8.5 -12.1,16.4 -5.3,9.8 -5.3,13 -4,30.8 1.7,4.3 -0.1,8.5 -2.3,4.2 -0.3,6.4 -1.4,6.3 -2.9,4.3 0.7,4.2 -1,6.4zM267,236.2l2,0.5 3.5-0.4 5.8-2.2 4.6-2.1 5.3-4.3 4.2-6.3 0.6-2.2 -1.1-9.9 -0.1,3.6 -1.1,2.1 -3,2.1 -4.6,8.2 -3.5,3.5z"/>
<path fill="#ff9500" d="M124,490.9l0,1.7 10.6-3.7 10.6-4.8 5.8-3.9 4.6-6.3 8.1-21.2 1.6-8.5 -0.4-6.4 -1.2-4.2 -4.3-7.7 -1.8-4.8 -1.8,2.7 -3.5-1.2 -5.3-0.1 -1.8-2.3 -1.5,7 1,4.2 -0.1,17 -2.9,7.8 -4.2,2.8 0,6.4 -0.3,2.1 -1.3,2.1 -3.1,2 -8.8,0.6zM673.4,444.2l2.2,0.9 0-55.2 -10.6,2.2 -17.7,1.6 -7.1,1.6 -10,4.3 -9.2,6.4 -2,4.2 0.5,2.1 4.3,4.3 32.3,19.2zM149.9,393.2l0.6,1.2 0.9-3.3 5.4-10.6 1.8-6.4 0.3-2.1 -1.4-2.1 1.9-46.7 1-4.2 -1-0.4 -1.9,4.6 -0.9,10.6 -2.7,17 -0.1,2.1 1.5,4.3 0,8.5 -2.2,4.2 -0.3,6.4 -1.4,6.3 -2.7,4.3zM176.3,289.3l0.7,0.6 0.6-0.6 -0.6-1.1zM177.9,287.1l0.9,0.8 0.7-0.8 -0.7-1.3zM179.4,285l1.2,0.9 1.7-2.4 5.8-9.1 -0.5-0.7 -1.8,0.7zM271.6,234.1l0.9,0.9 4.7-0.9 4.9-2.1 5.6-4.3 4.4-6.3 0.6-2.2 -0.8-8.5 -0.8,4.3 -3.1,2.1 -0.7,2.1 -4.2,6.4 -3.5,3.6z"/>
<path fill="#ff8300" d="M124,490.9l0,1.4 5.3-2.9 8.8-3.1 8.5-3.9 5.3-4.3 2.7-4.2 7.8-21.2 1.6-8.5 -1.1-7.5 -5.3-13 -1.8,4.1 -7-1.5 -0.4-1.2 -3.2-3.1 -1.2,5.2 0.7,4.2 -0.1,17 -2.9,8.3 -1.8,0.5 -2.2,1.8 0,6.4 -1.7,4.2 -1.4,1.4 -3.5,1.2 -7.1,0.2zM671,439.9l4.6,1.8 0-50.6 -10.6,2.6 -15.9,1.3 -5.3,1.1 -9,3.5 -8.8,6.4 -1.4,2.1 -0.4,2.1 0.7,2.1 4,4.3 7.8,5.2 21.2,12zM150.4,391.1l0.1,0.7 0.9-2.8 0.9-0.6 2.9-5.8 2.2-6.3 1-42.5 -0.8-8.3 -0.8,10.4 -2.9,17 1.5,4.3 0,8.5 -2.2,4.2 -0.2,6.4 -2.2,8.5zM275.8,232l0.2,1.3 5.3-1.3 7.1-5.7 4-7.1 -0.5-6.8 -0.3,2.6 -3.4,2.1 -0.6,2.1 -4.5,7 -5.3,4.8z"/>
<path fill="#ff7000" d="M124,490.9l0,1.1 5.3-3.5 15.9-6.4 5.3-3.8 3.1-4.4 7.3-21.2 1.4-6.4 0-4.3 -1.8-8.4 -2.9-8.2 -1.8,5.9 -5.3-1.8 -1.7,1 -0.5-3.3 -3.1-4 -1,4 0.6,4.2 -0.1,17 -2.9,8.5 -1.9,0.5 -2.1,1.6 -0.3,8.5 -1.3,2.1 -3.4,2.4 -8.8,0.7zM669,435.7l6.6,1.8 0-45 -10.6,2.9 -19.7,2.1 -9.5,4.2 -5,4.3 -1.6,4.2 0.7,2.1 3.8,4.3 6.2,4.2 19.5,10.6zM151.8,386.9l0.5,0.4 2.3-4.7 2.4-6.3 1-36.1 -0.4-10.1 -0.6,8 -1.2,2.9 -1.7,11.9 1.4,4.3 -0.1,8.5 -2,4.2 -0.2,6.4 -1.8,8.5zM279.8,229.8l1.5,1.1 5.5-3.2 5.1-7.8 0-3.9 -3.3,1.1 -3.7,7.5z"/>
<path fill="#ff5e00" d="M124,490.9l0,0.7 10.6-6.4 11.9-5 2.8-2.1 3.2-4.2 6.8-21.2 1.2-6.4 -0.2-10.6 -2.7-8.5 -1.8,5.6 -1.7,1.1 -5.3-2.6 -1.1-4.1 -2.5-2.8 -0.7,2.8 0.2,21.2 -0.6,2.1 -2,6.4 -4.2,2.1 -0.3,8.5 -1.2,2.2 -3.6,2.6 -8.8,0.6zM667.2,431.4l8.4,1.3 0-38.8 -10.6,3.5 -19.5,2.1 -4.9,2.2 -5.1,4.3 -1.5,4.2 0.7,2.1 3.9,4.3 6.9,4.3zM152,384.8l0.3,1 4.4-9.5 0.9-37.6 -1,3.6 -0.8,0.4 -1.3,10.2 1,4.3 0,8.5 -1.9,4.2 -0.2,6.4zM282.9,227.7l0.2,1.3 1.8-0.7 3.5-3.4 3.3-5.7 -0.4-2.1 -1.1-0.4 -0.9,0.4 -3.2,6.4z"/>
<path fill="#ff4b00" d="M124,490.9l10.6-6.6 10.6-4.5 3.6-2.7 2.4-3.2 4-10.6 2.4-10.1 1.2-2.7 0.9-14.8 -2.1-6.7 -3.5,8.3 -3.6-1.9 -3.3-8.2 -2-1.7 -0.4,22.9 -2.5,8.5 -4.2,2.1 -0.3,8.5 -1.4,2.5 -3.6,2.6 -8.8,0.6zM665.8,427.2l4.5,1.1 5.3,0 0-32.8 -5.3,2.6 -5.3,1.5 -17.7,2 -4.7,2.3 -2.3,2.1 -1.3,2.1 -0.2,2.1 0.8,2.1 2.4,2.8 5.5,3.6zM153.3,380.5l0.8,1 2.2-5.2 0.7-17 -0.4-12.7 -0.8-2 -1,8.3 0.8,4.3 0,8.5 -1.9,4.2zM285.8,225.6l0.8,0.5 3.7-4.7 0.8-2.2 -0.6-2.1 -0.6,0z"/>
<path fill="#ff3900" d="M124,490.9l12.4-8.4 9.4-4.4 4-4.2 4.7-10.6 3.6-12.8 1-14.8 -1.5-4.9 -3.5,10.7 -3.6-2.9 -0.4-2.9 -3.1-7.8 -1.8-1.2 -0.4,21.7 -2.2,8.5 -0.9,1 -3.4,1.1 -0.4,8.5 -1.5,2.9 -3.6,2.5 -8.8,0.5 0,8.7 0.9,0.3 -0.9,2.6zM665,422.9l5.3,1.5 5.3,0.3 0-27.5 -5.3,3.2 -5.3,2.1 -15.9,2.2 -2.7,1.3 -1.8,2.1 -0.3,2.1 1,2.1 2.2,2.2zM153.7,378.4l0.4,1.9 1.9-4 0.1-2.2 0.7-12.7 -1-14.5 -0.6,6 0.4,12.8 -0.3,2.1 -1.4,2.1z"/>
<path fill="#ff2600" d="M124,488.7l0,1.7 21.2-13.6 3.6-3.9 2-5.4 1.5-1.3 1.8-3.4 3.5-13.4 1-13.7 -1-3.1 -2.7,9.4 -0.8,9.2 -0.9-0.7 -0.9-5.6 -1.8-2.6 -0.8-6.6 -2.7-6.8 -1.8-1 -0.3,20.5 -2.1,8.5 -1.1,1.3 -3,0.8 0,6.4 -2.3,5.4 -3.6,2.4 -8.8,0.5 0,5.1 3.1,1.4 0.5,2.2 -1.8,0.8 -1.8,2.3zM672.6,420.8l3,0.5 0-22 -8.9,6.3 -10.6,4.6 0.5,2.1 2.7,2.2 7.3,4.2zM154.2,372l1.6,2 0.7-12.6 -0.7-11.2 -0.1,15.5 -0.2,2.1 -1.4,2.1z"/>
<path fill="#ff1400" d="M124,488.7l0,1.1 2.1-1.1 13.8-9.4 6.1-5.4 2.3-4.3 1.9-8.5 0.3-8.6 1.1-2 -1.1-3.3 -1.2-11.5 -2.3-5.8 -1.8-0.8 -0.2,19.3 -1.9,8.5 -1.4,1.6 -2.6,0.5 -0.6,8.5 -0.9,2.1 -3,3.2 -1.8,0.7 -7.9,0.4 1.7,2.1 3.8,2.1 -0.5,2.1 -1.7,2.2 -4.2,3.6zM151.5,463.3l0.8,1.1 1.8-2.9 1.7-6.7 1.8-10.6 0-9.8 -2.1,9.8 -0.8,8.5 -1.2,2.1 -0.2,4.2zM673.2,416.6l2.4,1.2 0-15.9 -3.5,4.1 -2.4,4.2 0,2.1 1.1,2.2z"/>
<path fill="#ff0100" d="M124,488.7l1,0 7.2-4.2 10.5-8.5 0.7-2.1 3.3-4.3 1.7-4.2 2.1-14.9 -1.7-14.8 -1.8-4.8 -1.8-0.6 -0.4,20.2 -1.5,6.4 -1.6,1.9 -2.2,0.2 -0.3,8.5 -4.6,6.1 -3.8,0.3 2.4,2.1 -4.4,6.4 -4.8,4.1z"/>
<path fill="#ee0000" d="M125.3,486.6l2.2,0.1 3.9-2.2 8.5-6.5 2.1-2 6-10.6 2.1-14.9 -1.7-14.8 -1.4-3.7 -1.8-0.5 -0.3,19 -1.5,7.1 -1.6,1.4 -0.1,4.3 -1.8-3.6 -0.1,7.8 -3.1,4.3 -0.1,2.1z"/>
<path fill="#db0000" d="M130.4,482.4l0.7,1.2 1.7-0.8 7.1-5.4 1.8-1.9 5.9-10.1 2.2-14.9 -1.7-14.8 -1.1-2.7 -1.8-0.3 -0.2,17.8 -3.3,14.6 -4.7,8.8z"/>
<path fill="#c90000" d="M132.7,480.2l0.1,0.9 1.8-0.4 6.2-4.7 6.3-10.6 2.3-14.9 -2.4-16.5 -1.8-0.1 -0.1,16.6 -2.3,12.8 -5.3,10.6z"/>
<path fill="#b60000" d="M135.4,478.1l1,0.4 3.8-2.5 6.8-11.6 2-13.9 -2-15.6 -1.8,0.1 0.3,15.5 -2.1,12.8z"/>
<path fill="#a40000" d="M139,473.9l0.9,1.3 5.3-8.5 1.8-4.8 1.5-11.4 -1.5-13.7 -0.9,3.1 0,10.6 -2,12.8z"/>
<path fill="#920000" d="M144.4,465.4l0.8,0 0.5-2.1 0.3-4.3 -0.8-1.6z"/>
</g>
<path d="M124.3,143.9 133.1,148.3 143,148.3 149.6,151.6 159.5,151.6 166.8,149.9 161.7,145.5 166.8,141.7 170.5,135.1 176,137.3 182.2,142.4 189.2,141 193.2,134.7 205.7,129.2 213.4,127.4 218.9,124.8 225.1,119.7 232.1,118.2 238.7,115.3 245.3,116.8 253,115.3 259.6,118.2 266,119.7 273,123 284,130.7 289.5,140.6 290.6,153.8M347.8,55.9 334.6,66.9 323.6,74.6 314.8,80.1 298.3,88.9 289.5,97.7 280.3,108.7 284,114.6 291.7,109.8 296.1,114.2 302,112 303.8,120.8 302.7,130.7 298.3,147.2 290.6,153.8 284,155.3 286.2,162.6 292.8,164.8 289.5,173.6 290.6,182 287.3,190 281.8,212.8 273,221.2 264.2,221.6 251,223.8M291.7,54.8 292.4,65.8 296.1,76.8 299,86.7 306,83 317,76.8 326.9,69.1 339,60.3 347.8,54.8M286.2,54.8 280.7,76.8 280.7,96.6 289.5,97.7M326.9,54.8 324.7,62.5 314.8,64.7 310.4,68 311.1,72.4 316.3,75.7M177.1,202.9 180,196.3 190.3,189.7 204.6,191.9 210.8,197 202.4,201.8 200.6,208.4 203.5,215 215.6,219.8 213.4,227.1 203.5,229.3 192.5,234.1 194.7,241 192.5,242.5 187,239.6 182.2,239.6 177.1,245.8 173.8,249.1 166.1,251.3 169,239.6 173.8,234.8 182.6,232.2 185.9,227.1 185.9,219.4 181.5,212.8 177.1,202.9M184.8,257.9 176,266.7 163.9,274.4 159.5,281 161.7,264.5 165,257.9 172.7,254.6 182.6,249.1 188.1,244.7 187,250.6 192.5,246.9M266,221.6 250.8,223.4 233.2,223.8 217.8,227.1 206.8,231.5 196.9,239.2 192.5,246.9 187,254.6 182.6,263.4 177.1,272.2 172.7,278.8 167.2,283.7 161.7,287.6 156.2,292 151.8,300.8 143,304.1 144.1,311.8 146.3,316.2M146,316 144.3,316 142.7,322.8 147.7,322.8 147.2,329.6 142.7,334.1 146.6,350 148.9,359.6 139.3,386 135.9,391.3 138.1,394.2 134.2,399.8 134.2,411.7 138.1,423 137,433.2 138.1,443.4 133.6,450 128,458 124,462M124,403.2 134.2,402" fill="none" stroke="#000" stroke-width="1.15" stroke-linejoin="round" clip-path="url(#fr)"/>
<g clip-path="url(#fr)"><path d="M124,563L124,576.7M138.1,563L138.1,576.8M152.3,563L152.2,579.6M166.4,563L164.7,582.7M180.6,563L173.6,584.7M194.7,563L185.9,584.3M208.9,563L199.9,584.1M223,563L213.7,581M237.1,563L224.3,578.3M251.3,563L238.5,578.3M265.4,563L256.3,580.7M279.6,563L273.3,582.1M293.7,563L291.7,585.7M307.9,563L307.7,585.9M322,563L322,585.8M336.1,563L337.8,583M350.3,563L356.2,581.7M364.4,563L370.7,578.7M378.6,563L383.6,579M392.7,563L394.1,579.7M406.9,563L406.9,579.8M421,563L420.9,579.8M435.1,563L433.7,579.9M449.3,563L443.3,581.7M463.4,563L455.8,581.6M477.6,563L468.9,584.1M491.7,563L482.9,584.3M505.9,563L496.9,584.3M520,563L509.5,583.4M534.1,563L521.2,578.4M548.3,563L534.4,577.1M562.4,563L550.5,575M576.6,563L566.8,572.7M590.7,563L582.1,569.5M604.9,563L594.6,565.4M619,563L608.7,563.1M633.1,563L623.3,559.9M647.3,563L639.2,556.5M661.4,563L655.4,554.4M675.6,563L670.6,553.8M124,546L123.7,559.7M138.1,546L137.2,559.5M152.3,546L151.1,559.8M166.4,546L163.6,562.6M180.6,546L172.9,564.4M194.7,546L184.3,566.3M208.9,546L198.2,566.5M223,546L211.2,565.5M237.1,546L223.9,561.2M251.3,546L238.2,561.1M265.4,546L255.2,563.2M279.6,546L271.5,564.4M293.7,546L289.5,565.7M307.9,546L305.8,566M322,546L320.7,565.9M336.1,546L337,565.7M350.3,546L354.2,562.5M364.4,546L369.3,561.9M378.6,546L382.5,562.2M392.7,546L393.4,562.6M406.9,546L405.8,562.6M421,546L419.5,562.6M435.1,546L432.6,562.6M449.3,546L443.8,562.2M463.4,546L455.9,564.4M477.6,546L469.8,564.7M491.7,546L482.9,567.2M505.9,546L497,567.3M520,546L509.9,566.6M534.1,546L522.1,562.3M548.3,546L535.5,561.3M562.4,546L549.8,561M576.6,546L565.8,558.7M590.7,546L581,555.4M604.9,546L595.6,551M619,546L611.7,548.4M633.1,546L625.6,546M647.3,546L640.1,543.5M661.4,546L652.7,540.5M675.6,546L667.8,539M124,529L121.1,542.6M138.1,529L134.6,539.6M152.3,529L148.6,539.4M166.4,529L160.4,541.7M180.6,529L170.4,542.8M194.7,529L181.7,544.6M208.9,529L193.9,546.7M223,529L207.8,546.4M237.1,529L223,543.8M251.3,529L237.3,543.6M265.4,529L252,544.4M279.6,529L265.2,546.6M293.7,529L282.4,545.8M307.9,529L299.4,547M322,529L316.2,545.3M336.1,529L332.9,545.7M350.3,529L348.9,543M364.4,529L363.3,542.8M378.6,529L377.2,542.6M392.7,529L390,542.5M406.9,529L402.2,542M421,529L415.7,542M435.1,529L428.8,544.4M449.3,529L442.8,544.7M463.4,529L455.9,547.2M477.6,529L469.9,547.6M491.7,529L483,550.1M505.9,529L497.1,550.2M520,529L510.8,550.2M534.1,529L524.1,549.5M548.3,529L539,547M562.4,529L553.2,546.8M576.6,529L568.7,544.1M590.7,529L583.3,540.7M604.9,529L597.2,536.5M619,529L612.6,533.4M633.1,529L625.9,530.9M647.3,529L639.6,528.5M661.4,529L651.5,526.2M675.6,529L665.8,525.2M124,512.1L111.7,528.6M138.1,512.1L128,526.3M152.3,512.1L145.2,524.5M166.4,512.1L156.2,525.5M180.6,512.1L167,526.4M194.7,512.1L178.6,528.4M208.9,512.1L190.7,530.4M223,512.1L204.6,530.5M237.1,512.1L218.9,530.3M251.3,512.1L234.9,528.5M265.4,512.1L247.4,530.2M279.6,512.1L263.2,528.6M293.7,512.1L278,528.6M307.9,512.1L294.7,527.2M322,512.1L309.5,527.4M336.1,512.1L324.4,527.7M350.3,512.1L341.8,523.4M364.4,512.1L355.7,522.6M378.6,512.1L371.4,520.4M392.7,512.1L385.4,520.3M406.9,512.1L397.5,521.8M421,512.1L411.5,522.1M435.1,512.1L424.8,525.1M449.3,512.1L441.1,526.8M463.4,512.1L456.5,527.7M477.6,512.1L469.9,530.3M491.7,512.1L484,530.6M505.9,512.1L498.1,530.8M520,512.1L511.2,533.1M534.1,512.1L525.2,533.3M548.3,512.1L539,533M562.4,512.1L552.2,532.4M576.6,512.1L567.3,529.7M590.7,512.1L581.7,526.2M604.9,512.1L595.1,521.6M619,512.1L609.9,517.9M633.1,512.1L622.8,514M647.3,512.1L636.8,512.1M661.4,512.1L650.8,511.4M675.6,512.1L664.9,511.2M124,495.1L95.3,524.5M138.1,495.1L115.5,522.2M152.3,495.1L139.9,516M166.4,495.1L154.4,511.5M180.6,495.1L167.4,510.3M194.7,495.1L179,511.5M208.9,495.1L192.5,511.5M223,495.1L204.7,513.3M237.1,495.1L218.8,513.4M251.3,495.1L234.7,511.6M265.4,495.1L247.1,513.4M279.6,495.1L263,511.6M293.7,495.1L277.5,511.3M307.9,495.1L293.6,509.4M322,495.1L307.7,509M336.1,495.1L321.3,508.2M350.3,495.1L336.9,505.5M364.4,495.1L350.1,503.5M378.6,495.1L366.2,501.6M392.7,495.1L380.5,501.5M406.9,495.1L394.5,501.6M421,495.1L408.8,502.2M435.1,495.1L422,505.6M449.3,495.1L437.9,507.6M463.4,495.1L454.6,509.7M477.6,495.1L468.4,512.7M491.7,495.1L482.9,513M505.9,495.1L497.8,513.4M520,495.1L511.8,513.6M534.1,495.1L523.9,515.5M548.3,495.1L536.4,514.7M562.4,495.1L547.2,512.4M576.6,495.1L560.4,511.2M590.7,495.1L575.5,507.9M604.9,495.1L589.6,502.9M619,495.1L603.3,500.2M633.1,495.1L619.3,496.5M647.3,495.1L633.7,496M661.4,495.1L647.8,496.2M675.6,495.1L661.8,496.2M124,478.1L89.5,515.7M138.1,478.1L108.8,522.4M152.3,478.1L134.4,521M166.4,478.1L156.3,503.4M180.6,478.1L171.6,496.3M194.7,478.1L184.1,491.9M208.9,478.1L195.2,492.3M223,478.1L208.5,492.1M237.1,478.1L220.3,493.4M251.3,478.1L234.6,494.1M265.4,478.1L247,496.4M279.6,478.1L261.2,496.4M293.7,478.1L277.2,494.5M307.9,478.1L291.6,494.1M322,478.1L306.7,491.4M336.1,478.1L318.9,488.4M350.3,478.1L332.4,487M364.4,478.1L346.1,486.1M378.6,478.1L360.3,485.7M392.7,478.1L374.4,485.7M406.9,478.1L388.6,485.7M421,478.1L402.8,486M435.1,478.1L417.3,487M449.3,478.1L432.2,488.4M463.4,478.1L448.4,491.3M477.6,478.1L463.6,492.6M491.7,478.1L479.2,493.7M505.9,478.1L495.5,495.1M520,478.1L508.9,494.6M534.1,478.1L520.4,492.7M548.3,478.1L532.3,490.5M562.4,478.1L541.9,488.3M576.6,478.1L555.3,487M590.7,478.1L569,485.5M604.9,478.1L582.5,481.5M619,478.1L599,479.6M633.1,478.1L613.4,479.8M647.3,478.1L630.4,482.3M661.4,478.1L644.6,483.4M675.6,478.1L656.2,484.3M138.1,461.1L126.9,514.3M152.3,461.1L146.9,511.6M166.4,461.1L162.9,499.4M180.6,461.1L176.5,484.4M194.7,461.1L187.1,476.5M208.9,461.1L199.3,471.6M223,461.1L211.9,470.1M237.1,461.1L222.6,470.5M251.3,461.1L235.3,473.4M265.4,461.1L247.8,476M279.6,461.1L259.9,477.8M293.7,461.1L276,476.2M307.9,461.1L290.2,476M322,461.1L303.3,474.5M336.1,461.1L315,470M350.3,461.1L328.5,468.3M364.4,461.1L342.6,468.1M378.6,461.1L356.7,468.1M392.7,461.1L370.9,468.1M406.9,461.1L385,468.1M421,461.1L399.3,468.5M435.1,461.1L413.8,469.6M449.3,461.1L428.3,470.3M463.4,461.1L442.9,471.3M477.6,461.1L457.8,472.5M491.7,461.1L475.6,473.4M505.9,461.1L490.1,473.2M520,461.1L504.7,469.5M534.1,461.1L515.5,468.2M548.3,461.1L528.6,465.1M562.4,461.1L539.8,463.5M576.6,461.1L553.7,463.1M590.7,461.1L567.7,462.6M604.9,461.1L581.6,461.6M619,461.1L595.4,461.2M633.1,461.1L606.8,462.9M647.3,461.1L619,468.6M661.4,461.1L631.3,472.7M675.6,461.1L643,474.3M152.3,444.2L151,494.9M166.4,444.2L166.1,488.2M180.6,444.2L178.2,470.8M194.7,444.2L187,462.4M208.9,444.2L199.1,454.4M223,444.2L208.8,452.5M237.1,444.2L219.6,452.3M251.3,444.2L233.7,452.9M265.4,444.2L247.6,453.4M279.6,444.2L259.2,454.7M293.7,444.2L273.3,454.7M307.9,444.2L287.3,454.7M322,444.2L300.7,453.4M336.1,444.2L313.4,449.2M350.3,444.2L327.3,446.6M364.4,444.2L341.4,446.1M378.6,444.2L355.6,446.1M392.7,444.2L369.7,446.1M406.9,444.2L383.8,446.1M421,444.2L397.9,447.1M435.1,444.2L412.5,450.1M449.3,444.2L426.9,451.2M463.4,444.2L441.1,451.3M477.6,444.2L455.5,451.6M491.7,444.2L470.1,451.4M505.9,444.2L486,448M520,444.2L500.2,446.3M534.1,444.2L511.9,445.7M548.3,444.2L528.2,444.6M562.4,444.2L542.2,443.9M576.6,444.2L556,442.9M590.7,444.2L567.2,442.3M604.9,444.2L578.1,442M619,444.2L586.8,442.2M633.1,444.2L597.6,444.3M647.3,444.2L608.9,448.5M661.4,444.2L621,454.9M675.6,444.2L633,457.7M138.1,427.2L126.4,470.5M152.3,427.2L149.2,472.2M166.4,427.2L166,468.6M180.6,427.2L178.2,454M194.7,427.2L187.3,445.7M208.9,427.2L199.7,437.8M223,427.2L211.3,434.3M237.1,427.2L224.5,432.8M251.3,427.2L238.4,432.6M265.4,427.2L250,433.7M279.6,427.2L261.5,434.8M293.7,427.2L275.2,434.9M307.9,427.2L286.7,436M322,427.2L298.2,436.7M336.1,427.2L311.4,434.4M350.3,427.2L327.2,430M364.4,427.2L341.3,427.8M378.6,427.2L355.5,427.3M392.7,427.2L369.6,426.9M406.9,427.2L383.8,425.8M421,427.2L395.1,425.5M435.1,427.2L406.4,426.6M449.3,427.2L420.1,427.1M463.4,427.2L434.2,427.1M477.6,427.2L451.2,427.2M491.7,427.2L468.2,426.9M505.9,427.2L482.9,426.2M520,427.2L499.7,426.9M534.1,427.2L516.4,426.9M548.3,427.2L528,425.8M562.4,427.2L539.4,424.2M576.6,427.2L551.1,420.4M590.7,427.2L559.9,417.4M604.9,427.2L568.3,416.3M619,427.2L580.8,419.7M633.1,427.2L591.2,425.2M647.3,427.2L602.2,428M661.4,427.2L613.5,430.5M675.6,427.2L627.3,431.4M138.1,410.2L126.8,447.9M152.3,410.2L146.6,451.7M166.4,410.2L163,448.7M180.6,410.2L176.2,439.2M194.7,410.2L187.9,429.1M208.9,410.2L201.8,422M223,410.2L215,417.5M237.1,410.2L227.9,415.6M251.3,410.2L241.8,415.1M265.4,410.2L253.4,416.1M279.6,410.2L266.8,415.8M293.7,410.2L278.4,416.7M307.9,410.2L289.9,418.1M322,410.2L303.9,419.1M336.1,410.2L315.5,419.8M350.3,410.2L328.4,417M364.4,410.2L341.7,413.3M378.6,410.2L355.7,411.7M392.7,410.2L369.9,409.2M406.9,410.2L387.1,405M421,410.2L399.3,401.8M435.1,410.2L410.5,400.1M449.3,410.2L419.4,398M463.4,410.2L430.7,397.5M477.6,410.2L446.7,399.9M491.7,410.2L463.7,401.4M505.9,410.2L480.2,403.4M520,410.2L494,406.7M534.1,410.2L510.7,407.1M548.3,410.2L522.7,403.4M562.4,410.2L534.6,400.8M576.6,410.2L546.4,398.4M590.7,410.2L555.4,395.9M604.9,410.2L565.5,397.1M619,410.2L574.9,404.5M633.1,410.2L585.5,409.3M647.3,410.2L596.7,411.2M661.4,410.2L610.5,413.7M675.6,410.2L622,414.9M152.3,393.2L139.3,433.3M166.4,393.2L154.7,430M180.6,393.2L171,421.3M194.7,393.2L187.3,411.8M208.9,393.2L203.7,403.1M223,393.2L216.1,401.1M237.1,393.2L229.5,400M251.3,393.2L245.4,398.2M265.4,393.2L259.2,398M279.6,393.2L270.6,398.4M293.7,393.2L284.1,398.2M307.9,393.2L295.9,400.1M322,393.2L308.9,403.3M336.1,393.2L322.6,403.6M350.3,393.2L333.1,402.8M364.4,393.2L346,400.9M378.6,393.2L359.4,398.7M392.7,393.2L372.8,393.8M406.9,393.2L388.2,386.4M421,393.2L402.3,379.8M435.1,393.2L413,374.8M449.3,393.2L424.5,372.5M463.4,393.2L434.9,372.2M477.6,393.2L443.5,376.4M491.7,393.2L459.2,379.7M505.9,393.2L475.5,381.3M520,393.2L487,381.9M534.1,393.2L503.1,382.7M548.3,393.2L513.2,379.6M562.4,393.2L529.7,379.8M576.6,393.2L546.4,380.8M590.7,393.2L560.4,380.8M604.9,393.2L571,382.3M619,393.2L580.6,389.9M633.1,393.2L591.7,394.1M647.3,393.2L603.3,398.6M661.4,393.2L618.2,405M675.6,393.2L630.4,407.9M152.3,376.3L134.3,420.2M166.4,376.3L151.6,412.4M180.6,376.3L167.4,408.3M194.7,376.3L186.9,395.1M208.9,376.3L203.8,386.1M223,376.3L216.3,384.2M237.1,376.3L231.7,381.6M251.3,376.3L245.8,381.2M265.4,376.3L260,381.3M279.6,376.3L273.9,381.2M293.7,376.3L287.8,381.2M307.9,376.3L300,383.1M322,376.3L314.2,384M336.1,376.3L326.9,386.3M350.3,376.3L340.5,386.3M364.4,376.3L351.9,387.1M378.6,376.3L363.8,383.9M392.7,376.3L376.4,379M406.9,376.3L393.2,372.3M421,376.3L405.2,364.8M435.1,376.3L418.4,360.4M449.3,376.3L429.2,355.7M463.4,376.3L440.7,353.5M477.6,376.3L448.8,356.3M491.7,376.3L463,360.7M505.9,376.3L474.9,360.2M520,376.3L488.4,360.6M534.1,376.3L499.7,361.2M548.3,376.3L515.6,362.6M562.4,376.3L530.1,362.7M576.6,376.3L547,363.9M590.7,376.3L564.2,364.7M604.9,376.3L580.6,366.7M619,376.3L593.4,373.4M633.1,376.3L607.7,381.2M647.3,376.3L623.2,387.1M661.4,376.3L636.2,390.9M675.6,376.3L650.3,391.6M152.3,359.3L134.4,403.2M166.4,359.3L151.7,395.1M180.6,359.3L168.2,389.2M194.7,359.3L185.9,380.3M208.9,359.3L203.9,369.4M223,359.3L216.7,367.5M237.1,359.3L231.6,364.4M251.3,359.3L245.2,363.4M265.4,359.3L259.5,363.9M279.6,359.3L273.8,364.1M293.7,359.3L287.9,364.1M307.9,359.3L302,364.4M322,359.3L314.8,366.9M336.1,359.3L328.7,370.3M350.3,359.3L343.8,371M364.4,359.3L358.5,368.5M378.6,359.3L370.1,365.8M392.7,359.3L382.4,361.1M406.9,359.3L396.4,357.9M421,359.3L411.1,354.6M435.1,359.3L424.5,350.5M449.3,359.3L438.5,345.8M463.4,359.3L452.7,338.8M477.6,359.3L464.4,336.6M491.7,359.3L474.4,339.5M505.9,359.3L487.2,340.6M520,359.3L500.2,342M534.1,359.3L511.6,345.6M548.3,359.3L525,347.1M562.4,359.3L539.3,347.2M576.6,359.3L556.1,348.6M590.7,359.3L575.9,350.4M604.9,359.3L595.8,352.5M619,359.3L613.6,357.1M633.1,359.3L628,361.3M647.3,359.3L641.4,364.9M661.4,359.3L654.3,368.1M675.6,359.3L667,370.6M152.3,342.3L141.4,382.5M166.4,342.3L156.1,373.7M180.6,342.3L169.8,369.5M194.7,342.3L185.9,363.5M208.9,342.3L203.2,355.1M223,342.3L217.8,351.6M237.1,342.3L232.1,347.9M251.3,342.3L245.1,346.3M265.4,342.3L256.5,346.8M279.6,342.3L270.3,346.4M293.7,342.3L284.2,346.3M307.9,342.3L298.6,346.9M322,342.3L313.7,348.7M336.1,342.3L329,350M350.3,342.3L344.7,351.4M364.4,342.3L359,351M378.6,342.3L372.9,347M392.7,342.3L388,342.9M406.9,342.3L399.8,340.9M421,342.3L414.2,339.1M435.1,342.3L428.9,337.6M449.3,342.3L443.4,333.2M463.4,342.3L459.4,326.2M477.6,342.3L474,322.8M491.7,342.3L484.8,323.4M505.9,342.3L496.9,324.4M520,342.3L511,327.4M534.1,342.3L522.6,329.2M548.3,342.3L535.9,329.8M562.4,342.3L550.1,330M576.6,342.3L564.2,330.4M590.7,342.3L580.7,332.3M604.9,342.3L598.2,333.6M619,342.3L613.8,336.4M633.1,342.3L628.5,340.4M647.3,342.3L644.5,342.9M661.4,342.3L654.9,346.8M675.6,342.3L667.3,349.3M152.3,325.3L166.6,360M166.4,325.3L159.3,354.7M180.6,325.3L171.2,350.2M194.7,325.3L186,346.6M208.9,325.3L202.3,341M223,325.3L217.5,337.8M237.1,325.3L233.1,332.2M251.3,325.3L247.9,328.8M265.4,325.3L259.1,329M279.6,325.3L272.1,327.1M293.7,325.3L283.6,326.5M307.9,325.3L297.7,326.9M322,325.3L312.4,328.7M336.1,325.3L329.2,328.9M350.3,325.3L342.7,332M364.4,325.3L359.4,330.7M378.6,325.3L374.9,328M392.7,325.3L388.5,325.4M406.9,325.3L402.9,322.8M421,325.3L415.7,320.2M435.1,325.3L430,319.7M449.3,325.3L445,318.8M463.4,325.3L459.9,314.9M477.6,325.3L475.4,311.4M491.7,325.3L488.3,308.7M505.9,325.3L500,309.1M520,325.3L513,309.4M534.1,325.3L525.2,307.3M548.3,325.3L537.9,305.3M562.4,325.3L552.7,307.6M576.6,325.3L565.4,308.7M590.7,325.3L577.5,310.4M604.9,325.3L591.7,310.5M619,325.3L605,311.6M633.1,325.3L616.1,316.7M647.3,325.3L631.1,323.2M661.4,325.3L645,326.3M675.6,325.3L659.3,327.7M152.3,308.4L142.4,325M166.4,308.4L147.1,339.9M180.6,308.4L167.9,335.4M194.7,308.4L185.7,329.9M208.9,308.4L201.2,326.9M223,308.4L215.5,326.3M237.1,308.4L230.6,323M251.3,308.4L247.6,315.4M265.4,308.4L260.8,314.3M279.6,308.4L273,311.8M293.7,308.4L286.4,309.9M307.9,308.4L300.5,309.2M322,308.4L314.7,309M336.1,308.4L329,309.2M350.3,308.4L343.7,310.9M364.4,308.4L361.3,311.3M378.6,308.4L375,310.3M392.7,308.4L388.6,307.8M406.9,308.4L402.7,302.7M421,308.4L417,299M435.1,308.4L430.2,296.3M449.3,308.4L445.4,298.3M463.4,308.4L459.3,295.3M477.6,308.4L473.5,292.1M491.7,308.4L486.9,289M505.9,308.4L498.9,286.5M520,308.4L510.6,284.4M534.1,308.4L524.2,284.4M548.3,308.4L539.1,286.5M562.4,308.4L551.3,284.9M576.6,308.4L561.8,287.1M590.7,308.4L573.2,289.3M604.9,308.4L586.7,290M619,308.4L599.9,291.4M633.1,308.4L613.5,296.9M647.3,308.4L629,300.8M661.4,308.4L642.8,303.4M675.6,308.4L659,307.3M166.4,291.4L142.7,322.1M180.6,291.4L162.7,327.6M194.7,291.4L185.3,313.9M208.9,291.4L199.7,312.2M223,291.4L214.1,309.4M237.1,291.4L229.6,306.7M251.3,291.4L245.6,304M265.4,291.4L260.5,300.8M279.6,291.4L274.5,297.1M293.7,291.4L288.1,295.9M307.9,291.4L303.8,293.3M322,291.4L317.8,292.2M336.1,291.4L332.1,291.1M350.3,291.4L348.7,290.9M364.4,291.4L364.4,292.8M378.6,291.4L378.6,290M392.7,291.4L391.3,290.7M406.9,291.4L405.4,287.2M421,291.4L420.3,283.8M435.1,291.4L434.1,278.2M449.3,291.4L448.2,277.8M463.4,291.4L462.1,274.8M477.6,291.4L476,271.5M491.7,291.4L489.8,268.4M505.9,291.4L502.4,265.4M520,291.4L512,263.3M534.1,291.4L523.5,264M548.3,291.4L537.3,264.5M562.4,291.4L551,264.8M576.6,291.4L564,268.4M590.7,291.4L575.1,270.8M604.9,291.4L590.1,273.7M619,291.4L604.1,274.2M633.1,291.4L619.2,277.4M647.3,291.4L634.3,281M661.4,291.4L649.2,285.3M675.6,291.4L665.2,288.9M180.6,274.4L163.8,312.2M194.7,274.4L181.7,303.9M208.9,274.4L198.6,292.9M223,274.4L209.2,292.4M237.1,274.4L223.3,292.5M251.3,274.4L239.9,293.8M265.4,274.4L257.3,289.3M279.6,274.4L273.8,283.8M293.7,274.4L289.4,280.9M307.9,274.4L304.9,277.9M322,274.4L320.5,275.3M336.1,274.4L334.7,274.6M350.3,274.4L349,274.4M364.4,274.4L365.7,274.6M378.6,274.4L379.8,274.3M392.7,274.4L391.3,274.4M406.9,274.4L406.3,270.3M421,274.4L421.4,267.2M435.1,274.4L436,264M449.3,274.4L450.4,261M463.4,274.4L464.5,257.7M477.6,274.4L477.9,251.8M491.7,274.4L491.6,248.5M505.9,274.4L505.2,245.4M520,274.4L516.4,242.9M534.1,274.4L526.1,243.7M548.3,274.4L539.7,246.8M562.4,274.4L554.6,249.7M576.6,274.4L569.3,252.7M590.7,274.4L583.5,255.8M604.9,274.4L598.6,258.5M619,274.4L613.3,258.8M633.1,274.4L627.5,262M647.3,274.4L641.4,265.7M661.4,274.4L656.6,268.7M675.6,274.4L672.3,271M194.7,257.4L177.1,290.8M208.9,257.4L192.1,278M223,257.4L207.5,271.8M237.1,257.4L219.5,273.1M251.3,257.4L232.5,275.8M265.4,257.4L247.3,276.2M279.6,257.4L266.2,272.7M293.7,257.4L283.1,270.3M307.9,257.4L301.2,265.6M322,257.4L318.5,260.3M336.1,257.4L334.7,258M350.3,257.4L351.3,258.4M364.4,257.4L365.7,257.6M378.6,257.4L379.8,257.3M392.7,257.4L393.7,258.4M406.9,257.4L407.3,253.5M421,257.4L421.9,253M435.1,257.4L437.3,250.2M449.3,257.4L452.5,247.3M463.4,257.4L466.9,244.1M477.6,257.4L479.7,237.9M491.7,257.4L492.2,234.7M505.9,257.4L505.9,231.8M520,257.4L520,234.1M534.1,257.4L534.2,234.5M548.3,257.4L548.7,237.3M562.4,257.4L563.5,240.2M576.6,257.4L577.9,240.6M590.7,257.4L591.8,243.4M604.9,257.4L606.7,243.9M619,257.4L621.9,246.8M633.1,257.4L634.5,249.7M647.3,257.4L647.6,252.6M661.4,257.4L661.3,253.1M675.6,257.4L675,253.4M208.9,240.5L185.1,262.2M223,240.5L196,257.4M237.1,240.5L209.5,256.2M251.3,240.5L224.6,256.3M265.4,240.5L235,259.7M279.6,240.5L255.9,262.3M293.7,240.5L277.5,261M307.9,240.5L299,254.7M322,240.5L315.5,248.3M336.1,240.5L332.4,242.7M350.3,240.5L346.5,241.4M364.4,240.5L362.9,240.2M378.6,240.5L377.6,239.4M392.7,240.5L392.4,239M406.9,240.5L406.7,238.8M421,240.5L421.1,236.2M435.1,240.5L436.8,233.5M449.3,240.5L452.3,230.7M463.4,240.5L466.4,230.2M477.6,240.5L480.1,227.2M491.7,240.5L492.3,226.5M505.9,240.5L505.8,224M520,240.5L521.2,224.2M534.1,240.5L538.4,227.5M548.3,240.5L554.8,228.5M562.4,240.5L570.7,229.8M576.6,240.5L585.2,230.1M590.7,240.5L599.4,230.2M604.9,240.5L614.3,230.8M619,240.5L629.6,232.7M633.1,240.5L641.5,234.7M647.3,240.5L652.8,236M661.4,240.5L663.7,236.9M675.6,240.5L675.5,238.9M251.3,223.5L246.2,226.9M265.4,223.5L258.6,227.6M279.6,223.5L252.2,252.1M293.7,223.5L279.3,258.2M307.9,223.5L301.7,242.8M322,223.5L319.1,233.9M336.1,223.5L333.4,227.1M350.3,223.5L346.1,224M364.4,223.5L360.3,222.8M378.6,223.5L374.7,221.4M392.7,223.5L389.8,220.2M406.9,223.5L404.5,219.8M421,223.5L419.4,219.4M435.1,223.5L434.5,218.9M449.3,223.5L449.1,216.1M463.4,223.5L463.4,215.9M477.6,223.5L477.3,215.8M491.7,223.5L490.7,216.1M505.9,223.5L505,218.6M520,223.5L519.7,218.9M534.1,223.5L535.6,221.7M548.3,223.5L555,220.7M562.4,223.5L569.3,220.7M576.6,223.5L582.7,219.2M590.7,223.5L598.8,217.6M604.9,223.5L614.1,219.1M619,223.5L628.6,220.5M633.1,223.5L640.2,222.1M647.3,223.5L651.5,222.3M661.4,223.5L664.2,220.7M675.6,223.5L674.4,222.7M293.7,206.5L293.7,249M307.9,206.5L304.7,227.1M322,206.5L320,219.9M336.1,206.5L333.9,210.8M350.3,206.5L345.9,206.6M364.4,206.5L357.6,204.4M378.6,206.5L369.5,202.2M392.7,206.5L384.5,200.4M406.9,206.5L399.2,199.8M421,206.5L415.6,201.1M435.1,206.5L430.4,200.6M449.3,206.5L445.5,199.9M463.4,206.5L460,199.8M477.6,206.5L473.9,200.1M491.7,206.5L488.8,202.9M505.9,206.5L502.7,203.8M520,206.5L518.4,206.1M534.1,206.5L533.4,207.9M548.3,206.5L549.6,210.4M562.4,206.5L564.1,207M576.6,206.5L577.8,205.4M590.7,206.5L592,205.3M604.9,206.5L606.7,206.1M619,206.5L620.7,206.7M633.1,206.5L634.2,207.7M647.3,206.5L648.4,207.4M661.4,206.5L661.4,205.1M675.6,206.5L674.2,206.3M293.7,189.5L287.1,214.9M307.9,189.5L301.9,208.9M322,189.5L315.9,204.7M336.1,189.5L330.7,195.4M350.3,189.5L345.3,190.1M364.4,189.5L357,187.7M378.6,189.5L368.6,186.2M392.7,189.5L382.7,185.4M406.9,189.5L394.7,183.8M421,189.5L408.6,184.1M435.1,189.5L422.8,184.1M449.3,189.5L437.3,183.7M463.4,189.5L453.8,184.7M477.6,189.5L468.3,185M491.7,189.5L484.8,186.9M505.9,189.5L501.3,188.7M520,189.5L515.8,189.8M534.1,189.5L530.4,191.4M548.3,189.5L545.7,193M562.4,189.5L563.7,190.8M576.6,189.5L578.1,189.6M590.7,189.5L592.3,189.6M604.9,189.5L608.6,190.4M619,189.5L620.3,190.3M633.1,189.5L633.5,190.8M647.3,189.5L647.2,190.8M661.4,189.5L660,189.7M675.6,189.5L671.7,189.1M293.7,172.6L290.8,187.2M307.9,172.6L300.4,193.4M322,172.6L314.2,187.9M336.1,172.6L324.5,184M350.3,172.6L337.6,177.2M364.4,172.6L351,173.3M378.6,172.6L365,171.7M392.7,172.6L379,170.8M406.9,172.6L390.6,169M421,172.6L404.4,170.3M435.1,172.6L418.4,171.1M449.3,172.6L432.6,171.1M463.4,172.6L447,171.1M477.6,172.6L463.8,171.3M491.7,172.6L480.8,171.8M505.9,172.6L495.5,172.3M520,172.6L512.3,172.7M534.1,172.6L526.6,173.7M548.3,172.6L539,176.5M562.4,172.6L556.3,176.8M576.6,172.6L572.6,178.4M590.7,172.6L589.5,176.9M604.9,172.6L604.6,176.9M619,172.6L619.5,176.6M633.1,172.6L633.2,174.2M647.3,172.6L647,173.9M661.4,172.6L660.1,173.1M675.6,172.6L671.5,171.4M307.9,155.6L302.2,174.3M322,155.6L314.5,173.6M336.1,155.6L323.9,170.7M350.3,155.6L336.2,164.9M364.4,155.6L348.8,161.4M378.6,155.6L362.1,158M392.7,155.6L376.1,156.4M406.9,155.6L387.3,155M421,155.6L401.2,155.2M435.1,155.6L415.2,155.5M449.3,155.6L429.3,155.5M463.4,155.6L443.5,155.5M477.6,155.6L457.8,155.5M491.7,155.6L472.2,155.5M505.9,155.6L489.1,155.6M520,155.6L506.2,155.6M534.1,155.6L520.5,156.5M548.3,155.6L535,159.2M562.4,155.6L550.3,161.3M576.6,155.6L568.2,162.3M590.7,155.6L584.2,163.5M604.9,155.6L601.6,162.5M619,155.6L617.8,162.8M633.1,155.6L632.6,162.5M647.3,155.6L646.7,159.7M661.4,155.6L660,156.8M675.6,155.6L669.3,152M307.9,138.6L308,149.6M322,138.6L320.3,152.6M336.1,138.6L330.2,154.2M350.3,138.6L339.6,154.6M364.4,138.6L351.6,149.4M378.6,138.6L363.6,145.6M392.7,138.6L378.8,142.3M406.9,138.6L387.4,139.9M421,138.6L400.9,138.7M435.1,138.6L412.5,138.6M449.3,138.6L426.4,138.6M463.4,138.6L440.5,138.6M477.6,138.6L454.6,138.6M491.7,138.6L468.8,138.6M505.9,138.6L483.2,138.6M520,138.6L500.1,138.6M534.1,138.6L514.4,139M548.3,138.6L528.8,140.9M562.4,138.6L546.3,143.6M576.6,138.6L562.1,146.3M590.7,138.6L580.1,147.4M604.9,138.6L596.6,148.9M619,138.6L614.3,148M633.1,138.6L630.5,145.7M647.3,138.6L644.3,145M661.4,138.6L656.8,139M675.6,138.6L665.7,131.2M307.9,121.6L309.5,129.2M322,121.6L322.4,137.6M336.1,121.6L334,132.9M350.3,121.6L344.7,134.2M364.4,121.6L355.8,132.3M378.6,121.6L367.7,130.1M392.7,121.6L377.7,127.8M406.9,121.6L390.1,123.9M421,121.6L401.5,122.1M435.1,121.6L415.1,121.7M449.3,121.6L426.5,121.6M463.4,121.6L440.4,121.6M477.6,121.6L454.5,121.6M491.7,121.6L468.6,121.6M505.9,121.6L482.8,121.6M520,121.6L497.2,121.6M534.1,121.6L511.4,121.7M548.3,121.6L525.7,122.1M562.4,121.6L542.9,123.9M576.6,121.6L560.4,126.6M590.7,121.6L576.2,129.3M604.9,121.6L594.1,130.1M619,121.6L609.5,130.8M633.1,121.6L625.9,129M647.3,121.6L641.5,126.3M661.4,121.6L656.9,122.2M675.6,121.6L671,119.8M293.7,104.6L292.5,105.3M307.9,104.6L307.6,107.3M322,104.6L322,123.2M336.1,104.6L332.5,118M350.3,104.6L344.9,117M364.4,104.6L358.4,113.6M378.6,104.6L370.4,111.5M392.7,104.6L382.8,109.3M406.9,104.6L393.9,108.4M421,104.6L407.1,106.2M435.1,104.6L418.3,105M449.3,104.6L429.4,104.7M463.4,104.6L440.7,104.6M477.6,104.6L454.6,104.6M491.7,104.6L468.8,104.6M505.9,104.6L483.1,104.6M520,104.6L499.9,104.6M534.1,104.6L514.2,104.6M548.3,104.6L528.6,104.7M562.4,104.6L545.5,105M576.6,104.6L560.2,106.6M590.7,104.6L577.3,108.5M604.9,104.6L592.3,109.6M619,104.6L608.9,108.9M633.1,104.6L623.3,108.8M647.3,104.6L637.8,108.9M661.4,104.6L654.5,108.2M675.6,104.6L666.2,109.1M307.9,87.7L310.2,92.1M322,87.7L322,106.3M336.1,87.7L332.3,100.6M350.3,87.7L344,99.4M364.4,87.7L357.3,95.6M378.6,87.7L369.6,93.1M392.7,87.7L383.1,91.9M406.9,87.7L396.9,91.6M421,87.7L410.6,90.5M435.1,87.7L421.5,88.6M449.3,87.7L432.5,87.7M463.4,87.7L443.8,87.7M477.6,87.7L457.8,87.7M491.7,87.7L471.9,87.7M505.9,87.7L486.2,87.7M520,87.7L503.1,87.7M534.1,87.7L517.6,87.7M548.3,87.7L534.5,87.7M562.4,87.7L548.9,87.7M576.6,87.7L563.1,87.9M590.7,87.7L577.4,88.6M604.9,87.7L591.6,88.8M619,87.7L605.7,88.8M633.1,87.7L619.7,88.9M647.3,87.7L634,89.7M661.4,87.7L648.7,92.2M675.6,87.7L660.9,94.7M336.1,70.7L334.9,75.7M350.3,70.7L344.4,79.2M364.4,70.7L356.8,77.7M378.6,70.7L369.8,76.2M392.7,70.7L383.8,75.9M406.9,70.7L397.7,75.4M421,70.7L411.3,74M435.1,70.7L424.7,71.6M449.3,70.7L436.1,70.7M463.4,70.7L450.1,70.7M477.6,70.7L464.2,70.7M491.7,70.7L478.4,70.7M505.9,70.7L492.6,70.7M520,70.7L507,70.7M534.1,70.7L523.8,70.7M548.3,70.7L540.8,70.7M562.4,70.7L555.1,70.7M576.6,70.7L569.2,70.7M590.7,70.7L583.4,70.7M604.9,70.7L597.4,70.7M619,70.7L608.8,70.7M633.1,70.7L620.1,71M647.3,70.7L634,71.9M661.4,70.7L648.2,73.4M675.6,70.7L660.4,76.2M364.4,53.7L359,59M378.6,53.7L373.2,59M392.7,53.7L387.9,59.5M406.9,53.7L401.2,58.4M421,53.7L416.6,55.4M435.1,53.7L430.6,54.1M449.3,53.7L444.7,53.7M463.4,53.7L461.4,53.7M477.6,53.7L475.7,53.7M491.7,53.7L489.8,53.7M505.9,53.7L503.9,53.7M520,53.7L518.1,53.7M534.1,53.7L532.4,53.7M548.3,53.7L546.7,53.7M562.4,53.7L560.8,53.7M576.6,53.7L575,53.7M590.7,53.7L589.1,53.7M604.9,53.7L603.3,53.7M619,53.7L617.1,53.7M633.1,53.7L628.5,54M647.3,53.7L640,55.5M661.4,53.7L654.1,56.2M675.6,53.7L668.3,56.6" fill="none" stroke="#000" stroke-width="1.35" stroke-linecap="butt"/>
<path d="M121.9,572.4L124,576.7L126.1,572.4ZM136,572.6L138.1,576.8L140.2,572.6ZM150.1,575.4L152.2,579.6L154.3,575.5ZM163,578.3L164.7,582.7L167.2,578.7ZM172.9,580L173.6,584.7L176.8,581.3ZM185.6,579.6L185.9,584.3L189.4,581.2ZM199.6,579.4L199.9,584.1L203.5,581.1ZM213.7,576.3L213.7,581L217.5,578.2ZM225.4,573.7L224.3,578.3L228.6,576.4ZM239.6,573.7L238.5,578.3L242.8,576.4ZM256.4,576L256.3,580.7L260.1,578ZM272.6,577.4L273.3,582.1L276.6,578.8ZM290,581.3L291.7,585.7L294.2,581.7ZM305.6,581.7L307.7,585.9L309.8,581.7ZM319.9,581.6L322,585.8L324.1,581.6ZM335.4,579L337.8,583L339.5,578.7ZM352.9,578.4L356.2,581.7L356.9,577.1ZM367.2,575.6L370.7,578.7L371.1,574ZM380.4,575.6L383.6,579L384.4,574.4ZM391.7,575.7L394.1,579.7L395.8,575.4ZM404.8,575.6L406.9,579.8L409,575.6ZM418.8,575.6L420.9,579.8L423,575.6ZM432,575.5L433.7,579.9L436.1,575.9ZM442.6,577.1L443.3,581.7L446.6,578.3ZM455.5,576.9L455.8,581.6L459.4,578.5ZM468.5,579.4L468.9,584.1L472.4,581ZM482.6,579.6L482.9,584.3L486.4,581.2ZM496.6,579.6L496.9,584.3L500.5,581.2ZM509.6,578.7L509.5,583.4L513.3,580.6ZM522.3,573.8L521.2,578.4L525.5,576.5ZM535.9,572.6L534.4,577.1L538.8,575.6ZM552,570.6L550.5,575L554.9,573.5ZM568.3,568.3L566.8,572.7L571.2,571.3ZM584.2,565.3L582.1,569.5L586.7,568.7ZM598.3,562.4L594.6,565.4L599.2,566.5ZM612.8,560.9L608.7,563.1L612.9,565.1ZM627.9,559.1L623.3,559.9L626.7,563.1ZM643.8,557.5L639.2,556.5L641.2,560.8ZM659.6,556.7L655.4,554.4L656.1,559.1ZM674.4,556.5L670.6,553.8L670.7,558.5ZM121.7,555.4L123.7,559.7L125.9,555.5ZM135.4,555.2L137.2,559.5L139.6,555.5ZM149.4,555.4L151.1,559.8L153.5,555.8ZM162.2,558.1L163.6,562.6L166.4,558.8ZM172.6,559.7L172.9,564.4L176.5,561.4ZM184.4,561.6L184.3,566.3L188.1,563.5ZM198.3,561.8L198.2,566.5L202,563.7ZM211.6,560.9L211.2,565.5L215.2,563ZM225.1,556.6L223.9,561.2L228.3,559.4ZM239.4,556.5L238.2,561.1L242.5,559.3ZM255.5,558.5L255.2,563.2L259.1,560.6ZM271.3,559.7L271.5,564.4L275.1,561.4ZM288.3,561.1L289.5,565.7L292.4,562ZM304.1,561.6L305.8,566L308.3,562.1ZM318.9,561.6L320.7,565.9L323,561.9ZM334.7,561.5L337,565.7L338.9,561.4ZM351.2,558.9L354.2,562.5L355.3,557.9ZM366.1,558.5L369.3,561.9L370.1,557.3ZM379.4,558.6L382.5,562.2L383.5,557.6ZM391.1,558.5L393.4,562.6L395.3,558.4ZM403.9,558.3L405.8,562.6L408.1,558.6ZM417.8,558.2L419.5,562.6L422,558.6ZM431.2,558.2L432.6,562.6L435.3,558.8ZM443.1,557.6L443.8,562.2L447.1,558.9ZM455.6,559.7L455.9,564.4L459.4,561.3ZM469.5,560L469.8,564.7L473.4,561.6ZM482.6,562.5L482.9,567.2L486.5,564.1ZM496.6,562.6L497,567.3L500.5,564.3ZM509.8,561.9L509.9,566.6L513.6,563.8ZM522.9,557.7L522.1,562.3L526.3,560.2ZM536.6,556.7L535.5,561.3L539.8,559.4ZM550.9,556.4L549.8,561L554.1,559.2ZM566.9,554.1L565.8,558.7L570.1,556.8ZM582.6,551L581,555.4L585.5,554ZM598.3,547.1L595.6,551L600.3,550.8ZM615.1,545.1L611.7,548.4L616.3,549.1ZM629.8,543.9L625.6,546L629.8,548.1ZM644.7,542.9L640.1,543.5L643.3,546.8ZM657.4,541L652.7,540.5L655.1,544.5ZM672.3,540.3L667.8,539L669.5,543.4ZM119.9,538L121.1,542.6L124,538.9ZM133.9,534.9L134.6,539.6L137.9,536.3ZM148,534.8L148.6,539.4L152,536.2ZM160.3,537L160.4,541.7L164.1,538.8ZM171.2,538.2L170.4,542.8L174.6,540.7ZM182.8,540L181.7,544.6L186,542.7ZM195,542.1L193.9,546.7L198.2,544.8ZM209,541.9L207.8,546.4L212.1,544.6ZM224.4,539.3L223,543.8L227.4,542.2ZM238.7,539.1L237.3,543.6L241.7,542ZM253.2,539.8L252,544.4L256.3,542.6ZM266.3,542L265.2,546.6L269.5,544.7ZM283,541.2L282.4,545.8L286.5,543.5ZM299.3,542.3L299.4,547L303.1,544.1ZM315.6,540.6L316.2,545.3L319.6,542ZM331.6,541.2L332.9,545.7L335.7,542ZM347.2,538.6L348.9,543L351.4,539ZM361.6,538.4L363.3,542.8L365.8,538.8ZM375.5,538.3L377.2,542.6L379.7,538.7ZM388.8,537.9L390,542.5L392.9,538.7ZM401.6,537.4L402.2,542L405.6,538.8ZM415.3,537.3L415.7,542L419.2,538.9ZM428.4,539.7L428.8,544.4L432.3,541.3ZM442.5,540L442.8,544.7L446.3,541.6ZM455.6,542.5L455.9,547.2L459.4,544.1ZM469.6,542.9L469.9,547.6L473.4,544.5ZM482.7,545.4L483,550.1L486.5,547ZM496.7,545.6L497.1,550.2L500.6,547.2ZM510.6,545.5L510.8,550.2L514.4,547.2ZM524,544.8L524.1,549.5L527.8,546.7ZM539.1,542.3L539,547L542.8,544.3ZM553.3,542.1L553.2,546.8L557,544ZM568.8,539.4L568.7,544.1L572.5,541.3ZM583.8,536L583.3,540.7L587.4,538.3ZM598.8,532.1L597.2,536.5L601.7,535.1ZM614.9,529.3L612.6,533.4L617.3,532.7ZM629.4,527.8L625.9,530.9L630.5,531.9ZM644,526.7L639.6,528.5L643.7,530.9ZM656.1,525.3L651.5,526.2L654.9,529.4ZM670.5,524.8L665.8,525.2L669,528.7ZM112.6,524L111.7,528.6L115.9,526.5ZM128.7,521.7L128,526.3L132.2,524.1ZM145.4,519.8L145.2,524.5L149.1,521.9ZM157.1,520.8L156.2,525.5L160.5,523.4ZM168.3,522L167,526.4L171.4,524.8ZM180.1,523.9L178.6,528.4L183,526.8ZM192.2,525.9L190.7,530.4L195.1,528.9ZM206.1,526.1L204.6,530.5L209.1,529ZM220.4,525.9L218.9,530.3L223.4,528.8ZM236.4,524.1L234.9,528.5L239.3,527ZM248.8,525.8L247.4,530.2L251.8,528.7ZM264.7,524.1L263.2,528.6L267.7,527.1ZM279.4,524.1L278,528.6L282.4,527ZM295.9,522.7L294.7,527.2L299,525.4ZM310.5,522.8L309.5,527.4L313.8,525.5ZM325.3,523L324.4,527.7L328.7,525.5ZM342.7,518.7L341.8,523.4L346,521.3ZM356.8,518L355.7,522.6L360,520.7ZM372.6,515.9L371.4,520.4L375.8,518.6ZM386.7,515.7L385.4,520.3L389.8,518.5ZM398.9,517.3L397.5,521.8L401.9,520.2ZM412.9,517.6L411.5,522.1L415.9,520.5ZM425.8,520.5L424.8,525.1L429.1,523.1ZM441.3,522.1L441.1,526.8L445,524.1ZM456.3,523L456.5,527.7L460.1,524.7ZM469.6,525.7L469.9,530.3L473.5,527.3ZM483.7,525.9L484,530.6L487.5,527.5ZM497.8,526.1L498.1,530.8L501.6,527.7ZM510.9,528.4L511.2,533.1L514.8,530.1ZM524.9,528.6L525.2,533.3L528.7,530.3ZM538.8,528.4L539,533L542.6,530.1ZM552.2,527.7L552.2,532.4L556,529.6ZM567.4,525L567.3,529.7L571.1,527ZM582.2,521.6L581.7,526.2L585.7,523.8ZM596.6,517.2L595.1,521.6L599.6,520.2ZM612.3,513.9L609.9,517.9L614.6,517.4ZM626.6,511.2L622.8,514L627.3,515.3ZM641,510L636.8,512.1L641,514.2ZM655.1,509.6L650.8,511.4L654.9,513.8ZM669.3,509.5L664.9,511.2L669,513.6ZM96.7,520L95.3,524.5L99.7,522.9ZM116.5,517.7L115.5,522.2L119.8,520.4ZM140.2,511.3L139.9,516L143.8,513.4ZM155.2,506.9L154.4,511.5L158.6,509.3ZM168.6,505.7L167.4,510.3L171.8,508.5ZM180.4,507L179,511.5L183.4,509.9ZM194,507.1L192.5,511.5L196.9,510ZM206.2,508.9L204.7,513.3L209.2,511.8ZM220.3,508.9L218.8,513.4L223.2,511.9ZM236.2,507.2L234.7,511.6L239.2,510.2ZM248.6,509L247.1,513.4L251.6,511.9ZM264.5,507.2L263,511.6L267.5,510.2ZM279,506.9L277.5,511.3L281.9,509.9ZM295.1,505L293.6,509.4L298,507.9ZM309.2,504.6L307.7,509L312.2,507.6ZM323.1,503.8L321.3,508.2L325.9,507ZM338.9,501.3L336.9,505.5L341.5,504.6ZM352.6,499.6L350.1,503.5L354.8,503.2ZM369,497.8L366.2,501.6L370.9,501.5ZM383.2,497.7L380.5,501.5L385.2,501.4ZM397.2,497.8L394.5,501.6L399.2,501.5ZM411.4,498.3L408.8,502.2L413.5,501.9ZM424,501.4L422,505.6L426.6,504.6ZM439.1,503.1L437.9,507.6L442.2,505.9ZM454.9,505.1L454.6,509.7L458.5,507.2ZM468.5,508L468.4,512.7L472.2,509.9ZM482.9,508.3L482.9,513L486.6,510.1ZM497.6,508.7L497.8,513.4L501.4,510.4ZM511.6,508.9L511.8,513.6L515.4,510.6ZM523.9,510.8L523.9,515.5L527.7,512.7ZM536.8,510L536.4,514.7L540.4,512.2ZM548.4,507.9L547.2,512.4L551.5,510.6ZM561.9,506.7L560.4,511.2L564.9,509.7ZM577.3,503.6L575.5,507.9L580,506.8ZM592.4,499.1L589.6,502.9L594.3,502.8ZM606.6,496.9L603.3,500.2L607.9,500.9ZM623.3,494L619.3,496.5L623.7,498.2ZM637.7,493.7L633.7,496L638,497.8ZM651.8,493.8L647.8,496.2L652.2,497.9ZM665.8,493.8L661.8,496.2L666.2,498ZM90.8,511.2L89.5,515.7L93.9,514ZM109.3,517.7L108.8,522.4L112.8,520ZM134.1,516.3L134.4,521L138,517.9ZM155.9,498.7L156.3,503.4L159.8,500.3ZM171.5,491.6L171.6,496.3L175.3,493.5ZM185,487.3L184.1,491.9L188.3,489.9ZM196.6,487.8L195.2,492.3L199.6,490.7ZM210.1,487.6L208.5,492.1L213,490.6ZM222,489L220.3,493.4L224.8,492.2ZM236.2,489.7L234.6,494.1L239.1,492.7ZM248.5,491.9L247,496.4L251.5,494.9ZM262.7,491.9L261.2,496.4L265.6,494.9ZM278.7,490L277.2,494.5L281.7,493ZM293.1,489.7L291.6,494.1L296.1,492.7ZM308.5,487.1L306.7,491.4L311.3,490.2ZM321.4,484.5L318.9,488.4L323.6,488.1ZM335.2,483.2L332.4,487L337.1,487ZM349.2,482.5L346.1,486.1L350.8,486.3ZM363.4,482.2L360.3,485.7L365,486ZM377.5,482.1L374.4,485.7L379.1,486ZM391.7,482.2L388.6,485.7L393.3,486ZM405.9,482.4L402.8,486L407.5,486.3ZM420.1,483.2L417.3,487L422,487ZM434.7,484.4L432.2,488.4L436.9,488ZM450.2,486.9L448.4,491.3L453,490.1ZM465,488.1L463.6,492.6L468,491ZM480.2,489.1L479.2,493.7L483.5,491.7ZM495.9,490.4L495.5,495.1L499.4,492.6ZM509.5,489.9L508.9,494.6L513,492.3ZM521.7,488.2L520.4,492.7L524.8,491.1ZM534.3,486.3L532.3,490.5L536.9,489.6ZM544.7,484.6L541.9,488.3L546.6,488.3ZM558.4,483.5L555.3,487L560,487.3ZM572.3,482.2L569,485.5L573.7,486.2ZM586.3,478.8L582.5,481.5L586.9,483ZM603,477.2L599,479.6L603.3,481.4ZM617.4,477.3L613.4,479.8L617.7,481.5ZM633.9,479.2L630.4,482.3L634.9,483.3ZM648,480.1L644.6,483.4L649.3,484.1ZM659.6,481L656.2,484.3L660.9,485ZM125.8,509.8L126.9,514.3L129.9,510.6ZM145.2,507.2L146.9,511.6L149.4,507.6ZM161.2,495L162.9,499.4L165.4,495.4ZM175.2,479.9L176.5,484.4L179.3,480.6ZM187.1,471.8L187.1,476.5L190.8,473.7ZM200.6,467.1L199.3,471.6L203.7,469.9ZM213.8,465.8L211.9,470.1L216.4,469.1ZM225,466.5L222.6,470.5L227.3,470ZM237.4,469.2L235.3,473.4L239.9,472.5ZM249.6,471.7L247.8,476L252.3,474.9ZM261.7,473.5L259.9,477.8L264.5,476.7ZM277.8,471.8L276,476.2L280.5,475ZM292.1,471.7L290.2,476L294.7,474.9ZM305.5,470.3L303.3,474.5L308,473.7ZM318.1,466.5L315,470L319.7,470.3ZM331.8,465L328.5,468.3L333.1,469ZM346,464.9L342.6,468.1L347.2,468.9ZM360.1,464.8L356.7,468.1L361.4,468.8ZM374.2,464.8L370.9,468.1L375.5,468.8ZM388.4,464.9L385,468.1L389.7,468.9ZM402.6,465.2L399.3,468.5L403.9,469.2ZM417,466.1L413.8,469.6L418.5,470ZM431.3,466.7L428.3,470.3L432.9,470.5ZM445.7,467.6L442.9,471.3L447.6,471.3ZM460.4,468.6L457.8,472.5L462.5,472.3ZM477.7,469.2L475.6,473.4L480.3,472.5ZM492.2,469L490.1,473.2L494.7,472.3ZM507.4,465.7L504.7,469.5L509.4,469.3ZM518.7,464.8L515.5,468.2L520.2,468.7ZM532.3,462.2L528.6,465.1L533.1,466.3ZM543.7,461L539.8,463.5L544.2,465.2ZM557.7,460.6L553.7,463.1L558.1,464.8ZM571.7,460.3L567.7,462.6L572,464.5ZM585.8,459.4L581.6,461.6L585.8,463.6ZM599.6,459.1L595.4,461.2L599.7,463.3ZM610.9,460.5L606.8,462.9L611.1,464.7ZM622.5,465.5L619,468.6L623.6,469.5ZM634.5,469.2L631.3,472.7L636,473.1ZM646.1,470.8L643,474.3L647.6,474.7ZM149,490.6L151,494.9L153.2,490.7ZM164,484L166.1,488.2L168.2,484ZM176.4,466.4L178.2,470.8L180.6,466.8ZM186.7,457.7L187,462.4L190.6,459.4ZM200.5,449.9L199.1,454.4L203.5,452.8ZM211.4,448.6L208.8,452.5L213.5,452.2ZM222.6,448.6L219.6,452.3L224.3,452.4ZM236.5,449.1L233.7,452.9L238.4,452.9ZM250.4,449.6L247.6,453.4L252.3,453.3ZM262,450.9L259.2,454.7L263.9,454.6ZM276.1,450.9L273.3,454.7L278,454.6ZM290.1,450.9L287.3,454.7L292,454.6ZM303.7,449.8L300.7,453.4L305.4,453.7ZM317.1,446.2L313.4,449.2L318,450.3ZM331.3,444.1L327.3,446.6L331.7,448.3ZM345.4,443.7L341.4,446.1L345.8,447.9ZM359.6,443.7L355.6,446.1L359.9,447.8ZM373.7,443.6L369.7,446.1L374.1,447.8ZM387.8,443.6L383.8,446.1L388.2,447.8ZM401.8,444.5L397.9,447.1L402.4,448.7ZM416,447L412.5,450.1L417.1,451.1ZM430.3,447.9L426.9,451.2L431.6,451.9ZM444.5,448L441.1,451.3L445.8,452ZM458.9,448.2L455.5,451.6L460.2,452.2ZM473.4,448.1L470.1,451.4L474.7,452.1ZM489.7,445.2L486,448L490.6,449.3ZM504.1,443.7L500.2,446.3L504.6,447.9ZM515.9,443.3L511.9,445.7L516.2,447.5ZM532.4,442.4L528.2,444.6L532.4,446.6ZM546.4,441.8L542.2,443.9L546.3,446ZM560.3,441.1L556,442.9L560.1,445.2ZM571.5,440.5L567.2,442.3L571.2,444.7ZM582.5,440.2L578.1,442L582.1,444.4ZM591.1,440.3L586.8,442.2L590.8,444.5ZM601.8,442.2L597.6,444.3L601.8,446.4ZM612.8,446L608.9,448.5L613.3,450.1ZM624.6,451.8L621,454.9L625.6,455.9ZM636.4,454.4L633,457.7L637.6,458.4ZM125.5,465.9L126.4,470.5L129.6,467ZM147.4,467.8L149.2,472.2L151.6,468.1ZM164,464.3L166,468.6L168.1,464.4ZM176.5,449.6L178.2,454L180.6,450ZM186.9,441.1L187.3,445.7L190.8,442.6ZM200.9,433.2L199.7,437.8L204,436ZM213.8,430.3L211.3,434.3L216,433.9ZM227.5,429.2L224.5,432.8L229.2,433ZM241.5,429.1L238.4,432.6L243.1,432.9ZM253,430.2L250,433.7L254.6,434ZM264.5,431.2L261.5,434.8L266.1,435.1ZM278.3,431.4L275.2,434.9L279.9,435.3ZM289.8,432.5L286.7,436L291.4,436.3ZM301.3,433.2L298.2,436.7L302.9,437.1ZM314.9,431.2L311.4,434.4L316,435.3ZM331.1,427.4L327.2,430L331.6,431.5ZM345.5,425.6L341.3,427.8L345.6,429.8ZM359.7,425.2L355.5,427.3L359.7,429.4ZM373.9,424.8L369.6,426.9L373.8,429ZM388.1,423.9L383.8,425.8L387.9,428.1ZM399.5,423.7L395.1,425.5L399.2,427.9ZM410.6,424.6L406.4,426.6L410.5,428.8ZM424.3,425L420.1,427.1L424.3,429.2ZM438.4,425L434.2,427.1L438.4,429.2ZM455.4,425.1L451.2,427.2L455.4,429.3ZM472.4,424.8L468.2,426.9L472.3,429ZM487.2,424.3L482.9,426.2L487,428.5ZM504,424.8L499.7,426.9L503.9,429ZM520.7,424.8L516.4,426.9L520.6,429ZM532.4,424L528,425.8L532.1,428.2ZM543.8,422.6L539.4,424.2L543.3,426.8ZM555.7,419.4L551.1,420.4L554.6,423.5ZM564.5,416.7L559.9,417.4L563.2,420.7ZM573,415.5L568.3,416.3L571.8,419.5ZM585.3,418.4L580.8,419.7L584.5,422.6ZM595.5,423.3L591.2,425.2L595.3,427.5ZM606.3,425.9L602.2,428L606.4,430ZM617.6,428.1L613.5,430.5L617.9,432.3ZM631.3,428.9L627.3,431.4L631.7,433.1ZM126,443.3L126.8,447.9L130,444.5ZM145.1,447.2L146.6,451.7L149.3,447.8ZM161.3,444.3L163,448.7L165.5,444.7ZM174.7,434.7L176.2,439.2L178.9,435.3ZM187.3,424.4L187.9,429.1L191.3,425.9ZM202.2,417.3L201.8,422L205.8,419.4ZM216.7,413.1L215,417.5L219.5,416.2ZM230.5,411.7L227.9,415.6L232.6,415.3ZM244.6,411.3L241.8,415.1L246.5,415ZM256.3,412.4L253.4,416.1L258.1,416.2ZM269.8,412.2L266.8,415.8L271.5,416ZM281.4,413.1L278.4,416.7L283,417ZM292.9,414.5L289.9,418.1L294.6,418.3ZM306.7,415.4L303.9,419.1L308.6,419.2ZM318.4,416.2L315.5,419.8L320.2,420ZM331.8,413.7L328.4,417L333,417.7ZM345.6,410.7L341.7,413.3L346.2,414.8ZM359.8,409.4L355.7,411.7L360,413.5ZM374.2,407.3L369.9,409.2L374,411.5ZM391.7,404L387.1,405L390.7,408.1ZM404,401.3L399.3,401.8L402.5,405.3ZM415.1,399.7L410.5,400.1L413.6,403.6ZM424.1,397.6L419.4,398L422.5,401.5ZM435.4,397.1L430.7,397.5L433.9,401ZM451.4,399.2L446.7,399.9L450.1,403.2ZM468.3,400.6L463.7,401.4L467,404.6ZM484.8,402.4L480.2,403.4L483.7,406.5ZM498.4,405.2L494,406.7L497.9,409.3ZM515.2,405.5L510.7,407.1L514.6,409.7ZM527.3,402.4L522.7,403.4L526.2,406.5ZM539.2,400.2L534.6,400.8L537.9,404.2ZM551.1,398L546.4,398.4L549.6,401.9ZM560.1,395.5L555.4,395.9L558.6,399.4ZM570.2,396.4L565.5,397.1L568.9,400.4ZM579.3,403L574.9,404.5L578.8,407.1ZM589.8,407.3L585.5,409.3L589.7,411.5ZM600.8,409L596.7,411.2L600.9,413.2ZM614.5,411.4L610.5,413.7L614.8,415.5ZM626,412.4L622,414.9L626.4,416.6ZM138.6,428.6L139.3,433.3L142.6,429.9ZM153.9,425.3L154.7,430L157.9,426.6ZM170.4,416.7L171,421.3L174.4,418ZM186.9,407.1L187.3,411.8L190.8,408.7ZM203.8,398.4L203.7,403.1L207.5,400.4ZM217.3,396.6L216.1,401.1L220.4,399.3ZM231.2,395.6L229.5,400L234,398.8ZM247.3,393.9L245.4,398.2L250,397.1ZM261.3,393.8L259.2,398L263.8,397.1ZM273.2,394.5L270.6,398.4L275.3,398.2ZM286.9,394.4L284.1,398.2L288.8,398.2ZM298.5,396.2L295.9,400.1L300.6,399.9ZM310.9,399.1L308.9,403.3L313.5,402.4ZM324.7,399.4L322.6,403.6L327.2,402.7ZM335.8,398.9L333.1,402.8L337.8,402.6ZM349.1,397.4L346,400.9L350.7,401.2ZM362.9,395.5L359.4,398.7L364,399.6ZM377,391.6L372.8,393.8L377.1,395.8ZM392.9,385.9L388.2,386.4L391.5,389.8ZM406.9,380.5L402.3,379.8L404.5,383.9ZM417.6,375.9L413,374.8L414.9,379.1ZM429,373.6L424.5,372.5L426.4,376.8ZM439.5,373L434.9,372.2L437,376.4ZM448.2,376.3L443.5,376.4L446.3,380.1ZM463.9,379.4L459.2,379.7L462.3,383.2ZM480.2,380.9L475.5,381.3L478.6,384.8ZM491.6,381.3L487,381.9L490.3,385.3ZM507.8,382L503.1,382.7L506.4,386ZM517.9,379.1L513.2,379.6L516.4,383ZM534.4,379.5L529.7,379.8L532.8,383.4ZM551,380.4L546.4,380.8L549.4,384.3ZM565,380.4L560.4,380.8L563.4,384.3ZM575.7,381.6L571,382.3L574.4,385.6ZM585,388.2L580.6,389.9L584.6,392.4ZM595.8,391.9L591.7,394.1L595.9,396.1ZM607.2,396L603.3,398.6L607.7,400.1ZM621.7,401.9L618.2,405L622.9,406ZM633.8,404.6L630.4,407.9L635.1,408.6ZM134,415.5L134.3,420.2L137.8,417.1ZM151.3,407.7L151.6,412.4L155.1,409.3ZM167.1,403.6L167.4,408.3L170.9,405.2ZM186.6,390.4L186.9,395.1L190.4,392ZM203.9,381.4L203.8,386.1L207.6,383.3ZM217.4,379.6L216.3,384.2L220.6,382.3ZM233.2,377.2L231.7,381.6L236.1,380.2ZM247.5,376.8L245.8,381.2L250.3,379.9ZM261.7,376.9L260,381.3L264.5,379.9ZM275.7,376.8L273.9,381.2L278.5,380ZM289.7,376.9L287.8,381.2L292.4,380.1ZM301.8,378.7L300,383.1L304.6,381.9ZM315.7,379.5L314.2,384L318.7,382.5ZM328.2,381.8L326.9,386.3L331.3,384.7ZM341.9,381.9L340.5,386.3L344.9,384.8ZM353.8,382.7L351.9,387.1L356.5,385.9ZM366.6,380.1L363.8,383.9L368.5,383.9ZM380.2,376.2L376.4,379L380.9,380.4ZM397.8,371.5L393.2,372.3L396.6,375.5ZM409.9,365.6L405.2,364.8L407.4,369ZM422.9,361.8L418.4,360.4L420,364.8ZM433.6,357.2L429.2,355.7L430.6,360.1ZM445.1,355L440.7,353.5L442.1,358ZM453.4,357L448.8,356.3L451,360.4ZM467.7,360.8L463,360.7L465.7,364.5ZM479.6,360.3L474.9,360.2L477.6,364ZM493.1,360.6L488.4,360.6L491.2,364.4ZM504.3,361L499.7,361.2L502.7,364.8ZM520.3,362.3L515.6,362.6L518.7,366.1ZM534.8,362.4L530.1,362.7L533.2,366.3ZM551.7,363.6L547,363.9L550.1,367.4ZM568.9,364.5L564.2,364.7L567.2,368.3ZM585.3,366.3L580.6,366.7L583.8,370.2ZM597.8,371.8L593.4,373.4L597.3,375.9ZM611.4,378.3L607.7,381.2L612.2,382.4ZM626.2,383.4L623.2,387.1L627.9,387.3ZM638.8,386.9L636.2,390.9L640.9,390.6ZM652.8,387.6L650.3,391.6L655,391.2ZM134.1,398.5L134.4,403.2L137.9,400.1ZM151.4,390.4L151.7,395.1L155.3,392ZM167.9,384.5L168.2,389.2L171.8,386.1ZM185.6,375.7L185.9,380.3L189.5,377.3ZM203.8,364.7L203.9,369.4L207.6,366.6ZM217.6,362.9L216.7,367.5L220.9,365.4ZM233.3,360L231.6,364.4L236.1,363.1ZM247.5,359.3L245.2,363.4L249.8,362.8ZM261.5,359.6L259.5,363.9L264.1,363ZM275.7,359.8L273.8,364.1L278.4,363ZM289.8,359.8L287.9,364.1L292.5,363ZM303.8,360.1L302,364.4L306.5,363.2ZM316.1,362.4L314.8,366.9L319.2,365.3ZM329.3,365.7L328.7,370.3L332.8,368ZM344,366.3L343.8,371L347.7,368.3ZM359,363.8L358.5,368.5L362.6,366.1ZM372.2,361.5L370.1,365.8L374.7,364.9ZM386.1,358.3L382.4,361.1L386.9,362.4ZM400.9,356.4L396.4,357.9L400.3,360.5ZM415.8,354.5L411.1,354.6L414,358.3ZM429,351.5L424.5,350.5L426.4,354.8ZM442.7,347.8L438.5,345.8L439.5,350.4ZM456.5,341.6L452.7,338.8L452.8,343.5ZM468.4,339.2L464.4,336.6L464.7,341.3ZM478.8,341.3L474.4,339.5L475.6,344ZM491.7,342.1L487.2,340.6L488.7,345.1ZM504.8,343.2L500.2,342L502,346.3ZM516.3,346L511.6,345.6L514.1,349.6ZM529.7,347.2L525,347.1L527.8,350.9ZM544,347.3L539.3,347.2L542,351ZM560.8,348.7L556.1,348.6L558.8,352.4ZM580.5,350.8L575.9,350.4L578.4,354.4ZM600.4,353.3L595.8,352.5L597.9,356.7ZM618.3,356.7L613.6,357.1L616.7,360.6ZM631.2,357.8L628,361.3L632.7,361.7ZM643,360.5L641.4,364.9L645.9,363.5ZM655.3,363.5L654.3,368.1L658.6,366.1ZM667.9,366L667,370.6L671.2,368.5ZM140.5,377.9L141.4,382.5L144.5,379ZM155.4,369L156.1,373.7L159.4,370.3ZM169.4,364.8L169.8,369.5L173.3,366.4ZM185.6,358.8L185.9,363.5L189.5,360.4ZM203,350.4L203.2,355.1L206.8,352.1ZM218,346.9L217.8,351.6L221.7,348.9ZM233.4,343.4L232.1,347.9L236.5,346.2ZM247.5,342.2L245.1,346.3L249.8,345.8ZM259.3,343.1L256.5,346.8L261.2,346.8ZM273.3,342.8L270.3,346.4L274.9,346.6ZM287.3,342.7L284.2,346.3L288.9,346.6ZM301.4,343.2L298.6,346.9L303.3,346.9ZM315.7,344.5L313.7,348.7L318.3,347.8ZM330.3,345.5L329,350L333.4,348.4ZM345.1,346.7L344.7,351.4L348.7,348.9ZM359.5,346.3L359,351L363,348.5ZM374.8,342.7L372.9,347L377.5,345.9ZM391.9,340.3L388,342.9L392.4,344.5ZM404.3,339.7L399.8,340.9L403.5,343.8ZM418.9,339L414.2,339.1L417.1,342.8ZM433.5,338.5L428.9,337.6L431,341.8ZM447.5,335.6L443.4,333.2L443.9,337.9ZM462.5,329.7L459.4,326.2L458.4,330.7ZM476.9,326.6L474,322.8L472.7,327.3ZM488.2,326.7L484.8,323.4L484.3,328.1ZM500.7,327.3L496.9,324.4L496.9,329.1ZM515,329.9L511,327.4L511.4,332.1ZM527,330.9L522.6,329.2L523.8,333.7ZM540.3,331.3L535.9,329.8L537.4,334.3ZM554.5,331.5L550.1,330L551.6,334.4ZM568.7,331.8L564.2,330.4L565.8,334.8ZM585.1,333.8L580.7,332.3L582.2,336.8ZM602.4,335.6L598.2,333.6L599.1,338.2ZM618.1,338.2L613.8,336.4L615,340.9ZM633.2,340.1L628.5,340.4L631.6,343.9ZM648.2,340L644.5,342.9L649.1,344.1ZM657.2,342.7L654.9,346.8L659.6,346.1ZM669.1,345L667.3,349.3L671.8,348.2ZM163.1,356.9L166.6,360L167,355.3ZM158.3,350.1L159.3,354.7L162.4,351.1ZM170.7,345.5L171.2,350.2L174.6,347ZM185.6,341.9L186,346.6L189.5,343.5ZM202,336.3L202.3,341L205.9,337.9ZM217.3,333.1L217.5,337.8L221.1,334.8ZM233.4,327.5L233.1,332.2L237.1,329.6ZM249.3,324.4L247.9,328.8L252.3,327.3ZM261.6,325.1L259.1,329L263.7,328.7ZM275.7,324.1L272.1,327.1L276.7,328.2ZM287.5,324L283.6,326.5L288,328.1ZM301.5,324.2L297.7,326.9L302.1,328.4ZM315.7,325.3L312.4,328.7L317,329.3ZM332,325.1L329.2,328.9L333.9,328.8ZM344.5,327.6L342.7,332L347.3,330.8ZM360.8,326.2L359.4,330.7L363.8,329.1ZM377.1,323.8L374.9,328L379.6,327.2ZM392.6,323.2L388.5,325.4L392.7,327.4ZM407.6,323.3L402.9,322.8L405.4,326.9ZM420.2,321.6L415.7,320.2L417.3,324.6ZM434.4,321.4L430,319.7L431.3,324.2ZM449,321.1L445,318.8L445.5,323.4ZM463.2,318.2L459.9,314.9L459.3,319.6ZM478.1,315.2L475.4,311.4L474,315.8ZM491.2,312.4L488.3,308.7L487.1,313.2ZM503.4,312.3L500,309.1L499.5,313.7ZM516.6,312.4L513,309.4L512.8,314ZM528.9,310.2L525.2,307.3L525.2,312ZM541.7,308.1L537.9,305.3L538,310ZM556.6,310.3L552.7,307.6L552.9,312.3ZM569.4,311L565.4,308.7L566,313.3ZM581.9,312.1L577.5,310.4L578.7,314.9ZM596.1,312.3L591.7,310.5L593,315.1ZM609.5,313.1L605,311.6L606.5,316.1ZM620.8,316.7L616.1,316.7L618.9,320.5ZM635.5,321.7L631.1,323.2L635,325.8ZM649.1,324L645,326.3L649.4,328.1ZM663.1,325L659.3,327.7L663.7,329.2ZM142.7,320.3L142.4,325L146.3,322.4ZM147.5,335.3L147.1,339.9L151,337.5ZM167.7,330.7L167.9,335.4L171.5,332.5ZM185.4,325.2L185.7,329.9L189.3,326.8ZM200.8,322.2L201.2,326.9L204.7,323.8ZM215.2,321.6L215.5,326.3L219,323.2ZM230.4,318.3L230.6,323L234.3,320ZM247.7,310.7L247.6,315.4L251.4,312.7ZM261.7,309.7L260.8,314.3L265,312.2ZM275.8,308L273,311.8L277.7,311.7ZM290.1,307L286.4,309.9L290.9,311.1ZM304.5,306.6L300.5,309.2L304.9,310.8ZM318.7,306.6L314.7,309L319.1,310.7ZM332.9,306.6L329,309.2L333.4,310.8ZM346.9,307.4L343.7,310.9L348.4,311.3ZM362.9,306.9L361.3,311.3L365.8,310ZM377.7,306.5L375,310.3L379.7,310.1ZM393,306.3L388.6,307.8L392.4,310.4ZM406.9,304.8L402.7,302.7L403.5,307.3ZM420.6,302.1L417,299L416.7,303.7ZM433.7,299.4L430.2,296.3L429.8,301ZM448.9,301.5L445.4,298.3L444.9,303ZM462.6,298.7L459.3,295.3L458.6,300ZM476.6,295.6L473.5,292.1L472.5,296.6ZM489.9,292.6L486.9,289L485.8,293.6ZM502.2,289.9L498.9,286.5L498.2,291.2ZM514.1,287.5L510.6,284.4L510.2,289ZM527.7,287.5L524.2,284.4L523.9,289.1ZM542.7,289.6L539.1,286.5L538.8,291.2ZM555,287.8L551.3,284.9L551.2,289.6ZM565.9,289.3L561.8,287.1L562.5,291.7ZM577.6,291L573.2,289.3L574.5,293.8ZM591.2,291.6L586.7,290L588.2,294.5ZM604.4,292.6L599.9,291.4L601.6,295.7ZM618.2,297.2L613.5,296.9L616.1,300.8ZM633.7,300.5L629,300.8L632.1,304.3ZM647.4,302.5L642.8,303.4L646.3,306.5ZM663.3,305.5L659,307.3L663.1,309.6ZM143.6,317.5L142.7,322.1L146.9,320ZM162.7,322.9L162.7,327.6L166.5,324.7ZM185,309.2L185.3,313.9L188.8,310.8ZM199.5,307.5L199.7,312.2L203.3,309.2ZM214.1,304.7L214.1,309.4L217.9,306.5ZM229.6,302L229.6,306.7L233.3,303.9ZM245.4,299.3L245.6,304L249.3,301ZM260.6,296.1L260.5,300.8L264.3,298.1ZM275.7,292.6L274.5,297.1L278.8,295.4ZM290.1,291.6L288.1,295.9L292.7,294.9ZM306.7,289.6L303.8,293.3L308.5,293.4ZM321.6,289.3L317.8,292.2L322.4,293.4ZM336.4,289.3L332.1,291.1L336.1,293.5ZM353.3,290.1L348.7,290.9L352.1,294.1ZM362.3,288.6L364.4,292.8L366.5,288.6ZM380.7,294.2L378.6,290L376.5,294.2ZM396,290.7L391.3,290.7L394.1,294.4ZM408.8,290.5L405.4,287.2L404.8,291.9ZM422.8,287.8L420.3,283.8L418.6,288.2ZM436.5,282.3L434.1,278.2L432.3,282.6ZM450.6,281.8L448.2,277.8L446.4,282.1ZM464.5,278.8L462.1,274.8L460.3,279.1ZM478.4,275.5L476,271.5L474.2,275.9ZM492.2,272.4L489.8,268.4L488.1,272.7ZM505,269.3L502.4,265.4L500.9,269.8ZM515.1,266.7L512,263.3L511.1,267.9ZM527,267.2L523.5,264L523.1,268.7ZM540.8,267.6L537.3,264.5L536.9,269.1ZM554.6,267.9L551,264.8L550.7,269.5ZM567.9,271.1L564,268.4L564.2,273.1ZM579.4,272.9L575.1,270.8L576,275.5ZM594.4,275.6L590.1,273.7L591.1,278.3ZM608.4,276L604.1,274.2L605.2,278.8ZM623.6,278.9L619.2,277.4L620.7,281.8ZM638.9,282L634.3,281L636.3,285.3ZM653.9,285.3L649.2,285.3L652.1,289ZM669.8,287.8L665.2,288.9L668.8,291.9ZM163.6,307.5L163.8,312.2L167.4,309.2ZM181.5,299.2L181.7,303.9L185.3,300.9ZM198.8,288.2L198.6,292.9L202.5,290.2ZM210.1,287.8L209.2,292.4L213.4,290.4ZM224.2,287.8L223.3,292.5L227.5,290.4ZM240.3,289.1L239.9,293.8L243.9,291.2ZM257.5,284.6L257.3,289.3L261.2,286.6ZM274.2,279.1L273.8,283.8L277.8,281.3ZM290,276.3L289.4,280.9L293.5,278.6ZM306,273.3L304.9,277.9L309.2,276ZM323,271.3L320.5,275.3L325.2,274.9ZM338.6,271.9L334.7,274.6L339.2,276.1ZM353.2,272.3L349,274.4L353.2,276.5ZM361.2,276.1L365.7,274.6L361.8,271.9ZM375.9,276.8L379.8,274.3L375.4,272.7ZM395.5,272.3L391.3,274.4L395.5,276.5ZM408.9,274.1L406.3,270.3L404.8,274.7ZM423.3,271.5L421.4,267.2L419.1,271.3ZM437.7,268.3L436,264L433.5,268ZM452.1,265.3L450.4,261L447.9,265ZM466.3,262L464.5,257.7L462.1,261.7ZM480,256L477.9,251.8L475.8,256ZM493.8,252.7L491.6,248.5L489.6,252.7ZM507.4,249.5L505.2,245.4L503.2,249.6ZM519,246.8L516.4,242.9L514.8,247.3ZM529.2,247.3L526.1,243.7L525.1,248.3ZM542.9,250.2L539.7,246.8L538.9,251.5ZM557.9,253.1L554.6,249.7L553.9,254.3ZM572.6,256L569.3,252.7L568.6,257.3ZM587,259L583.5,255.8L583.1,260.5ZM602.1,261.6L598.6,258.5L598.2,263.2ZM616.7,262L613.3,258.8L612.8,263.4ZM631.2,264.9L627.5,262L627.3,266.7ZM645.5,268L641.4,265.7L642,270.3ZM660.9,270.5L656.6,268.7L657.7,273.2ZM676.8,272.6L672.3,271L673.7,275.5ZM177.2,286.1L177.1,290.8L180.9,288ZM193.1,273.4L192.1,278L196.4,276.1ZM209.1,267.4L207.5,271.8L212,270.5ZM221.3,268.8L219.5,273.1L224.1,271.9ZM234,271.3L232.5,275.8L236.9,274.3ZM248.7,271.7L247.3,276.2L251.7,274.6ZM267.4,268.1L266.2,272.7L270.5,270.9ZM284.2,265.7L283.1,270.3L287.4,268.4ZM302.3,261L301.2,265.6L305.5,263.7ZM320.4,256L318.5,260.3L323.1,259.3ZM337.8,254.5L334.7,258L339.4,258.4ZM346.8,256.9L351.3,258.4L349.8,254ZM361.3,259.1L365.7,257.6L361.8,255ZM375.9,259.8L379.8,257.3L375.4,255.7ZM389.3,256.9L393.7,258.4L392.2,254ZM408.9,257.9L407.3,253.5L404.7,257.5ZM423.1,257.5L421.9,253L419,256.7ZM438.1,254.8L437.3,250.2L434.1,253.7ZM453.2,251.9L452.5,247.3L449.2,250.7ZM467.9,248.7L466.9,244.1L463.8,247.6ZM481.4,242.4L479.7,237.9L477.2,241.9ZM494.2,238.9L492.2,234.7L490,238.8ZM508,236L505.9,231.8L503.8,236ZM522.1,238.3L520,234.1L517.9,238.3ZM536.3,238.7L534.2,234.5L532.1,238.7ZM550.7,241.6L548.7,237.3L546.5,241.5ZM565.3,244.5L563.5,240.2L561.1,244.3ZM579.6,245L577.9,240.6L575.5,244.7ZM593.6,247.7L591.8,243.4L589.4,247.4ZM608.2,248.3L606.7,243.9L604.1,247.7ZM622.8,251.5L621.9,246.8L618.8,250.4ZM635.8,254.2L634.5,249.7L631.7,253.5ZM649.4,256.9L647.6,252.6L645.2,256.7ZM663.5,257.2L661.3,253.1L659.3,257.3ZM677.7,257.3L675,253.4L673.5,257.9ZM186.8,257.8L185.1,262.2L189.7,260.9ZM198.5,253.4L196,257.4L200.7,257ZM212.1,252.3L209.5,256.2L214.2,255.9ZM227.1,252.4L224.6,256.3L229.2,256ZM237.5,255.7L235,259.7L239.7,259.2ZM257.6,257.9L255.9,262.3L260.5,261ZM278.4,256.4L277.5,261L281.7,259ZM299.4,250.1L299,254.7L303,252.3ZM316.6,243.7L315.5,248.3L319.8,246.4ZM334.9,238.7L332.4,242.7L337.1,242.3ZM350,238.4L346.5,241.4L351.1,242.4ZM367.4,238.7L362.9,240.2L366.8,242.9ZM382,241.2L377.6,239.4L378.8,243.9ZM395.3,242.8L392.4,239L391.2,243.6ZM409.2,242.7L406.7,238.8L405,243.2ZM423.1,240.5L421.1,236.2L418.9,240.4ZM437.9,238L436.8,233.5L433.8,237.1ZM453,235.4L452.3,230.7L449,234.1ZM467.2,234.9L466.4,230.2L463.2,233.7ZM481.4,231.7L480.1,227.2L477.3,230.9ZM494.2,230.8L492.3,226.5L490,230.7ZM507.9,228.2L505.8,224L503.7,228.2ZM523,228.5L521.2,224.2L518.8,228.2ZM539.1,232.1L538.4,227.5L535.1,230.8ZM554.6,233.2L554.8,228.5L550.9,231.2ZM569.8,234.4L570.7,229.8L566.4,231.8ZM584.1,234.7L585.2,230.1L580.9,232ZM598.3,234.7L599.4,230.2L595.1,232ZM612.8,235.3L614.3,230.8L609.8,232.4ZM627.5,236.9L629.6,232.7L625,233.5ZM639.2,238.8L641.5,234.7L636.9,235.3ZM650.8,240.3L652.8,236L648.2,237ZM663.2,241.6L663.7,236.9L659.7,239.3ZM677.8,243L675.5,238.9L673.6,243.2ZM248.5,222.8L246.2,226.9L250.9,226.3ZM261.1,223.6L258.6,227.6L263.3,227.2ZM253.6,247.6L252.2,252.1L256.7,250.5ZM279,253.6L279.3,258.2L282.9,255.2ZM301,238.2L301.7,242.8L305,239.5ZM318.2,229.3L319.1,233.9L322.3,230.4ZM334.3,222.5L333.4,227.1L337.6,225ZM350,221.4L346.1,224L350.6,225.6ZM364.7,221.4L360.3,222.8L364.1,225.5ZM379.4,221.6L374.7,221.4L377.5,225.3ZM394.2,221.9L389.8,220.2L391,224.8ZM408.5,222.2L404.5,219.8L405,224.5ZM422.9,222.5L419.4,219.4L419,224.1ZM437.2,222.7L434.5,218.9L433,223.3ZM451.3,220.3L449.1,216.1L447.1,220.4ZM465.5,220.1L463.4,215.9L461.3,220.2ZM479.5,220L477.3,215.8L475.3,220.1ZM493.4,220L490.7,216.1L489.2,220.6ZM507.8,222.4L505,218.6L503.7,223.1ZM522.1,222.9L519.7,218.9L517.9,223.2ZM534.6,226.3L535.6,221.7L531.3,223.6ZM551.9,224.2L555,220.7L550.3,220.4ZM566.2,224.2L569.3,220.7L564.6,220.3ZM580.5,223.3L582.7,219.2L578.1,219.9ZM596.7,221.7L598.8,217.6L594.2,218.3ZM611.2,222.8L614.1,219.1L609.4,219ZM625.2,223.7L628.6,220.5L623.9,219.7ZM636.5,225L640.2,222.1L635.7,220.8ZM648,225.5L651.5,222.3L646.8,221.4ZM662.7,225.1L664.2,220.7L659.7,222.2ZM679.1,223.2L674.4,222.7L676.9,226.7ZM291.6,244.8L293.7,249L295.8,244.8ZM303.2,222.6L304.7,227.1L307.4,223.2ZM318.5,215.4L320,219.9L322.7,216ZM334,206.1L333.9,210.8L337.7,208ZM350.1,204.4L345.9,206.6L350.2,208.6ZM362.2,203.6L357.6,204.4L361,207.6ZM374.2,202.1L369.5,202.2L372.4,205.9ZM389.2,201.3L384.5,200.4L386.7,204.6ZM403.8,201L399.2,199.8L401,204.1ZM420.1,202.6L415.6,201.1L417.1,205.5ZM434.7,202.6L430.4,200.6L431.4,205.2ZM449.4,202.5L445.5,199.9L445.8,204.6ZM463.8,202.6L460,199.8L460,204.5ZM477.8,202.7L473.9,200.1L474.2,204.8ZM493.1,204.8L488.8,202.9L489.8,207.5ZM507.3,205L502.7,203.8L504.6,208.2ZM523,205.1L518.4,206.1L521.9,209.2ZM533.4,203.2L533.4,207.9L537.2,205.1ZM546.3,207L549.6,210.4L550.2,205.7ZM559.4,207.7L564.1,207L560.7,203.7ZM576,209.8L577.8,205.4L573.2,206.7ZM590.4,209.7L592,205.3L587.5,206.7ZM603.1,209.1L606.7,206.1L602.1,205ZM616.3,208.3L620.7,206.7L616.8,204.2ZM629.8,206L634.2,207.7L632.9,203.2ZM643.8,206.4L648.4,207.4L646.5,203.1ZM663.5,209.3L661.4,205.1L659.3,209.3ZM678.7,204.9L674.2,206.3L677.9,209.1ZM286.2,210.3L287.1,214.9L290.2,211.3ZM301.1,204.3L301.9,208.9L305.1,205.5ZM315.5,200L315.9,204.7L319.4,201.6ZM332,190.9L330.7,195.4L335.1,193.7ZM349.2,187.5L345.3,190.1L349.7,191.7ZM361.5,186.7L357,187.7L360.6,190.8ZM373.3,185.5L368.6,186.2L371.9,189.5ZM387.4,185.1L382.7,185.4L385.8,188.9ZM399.4,183.7L394.7,183.8L397.6,187.5ZM413.3,183.9L408.6,184.1L411.6,187.7ZM427.5,183.9L422.8,184.1L425.8,187.7ZM442,183.6L437.3,183.7L440.2,187.4ZM458.5,184.7L453.8,184.7L456.6,188.4ZM473,185L468.3,185L471.1,188.7ZM489.5,186.4L484.8,186.9L488,190.4ZM505.8,187.4L501.3,188.7L505.1,191.5ZM519.8,187.4L515.8,189.8L520.1,191.6ZM533.2,187.7L530.4,191.4L535.1,191.4ZM546.5,188.4L545.7,193L549.9,190.9ZM559.2,189.3L563.7,190.8L562.2,186.3ZM573.9,191.5L578.1,189.6L574,187.3ZM588,191.5L592.3,189.6L588.2,187.3ZM604,191.5L608.6,190.4L605,187.4ZM615.6,189.9L620.3,190.3L617.8,186.3ZM630.4,187.2L633.5,190.8L634.5,186.2ZM645.5,186.4L647.2,190.8L649.7,186.8ZM664,187.1L660,189.7L664.5,191.3ZM676.1,187.5L671.7,189.1L675.7,191.6ZM289.6,182.6L290.8,187.2L293.7,183.4ZM299.9,188.7L300.4,193.4L303.8,190.1ZM314.3,183.2L314.2,187.9L318,185.1ZM326,179.6L324.5,184L328.9,182.6ZM340.8,173.8L337.6,177.2L342.3,177.7ZM355.1,171L351,173.3L355.3,175.2ZM369.3,169.9L365,171.7L369,174.1ZM383.5,169.2L379,170.8L382.9,173.4ZM395.2,167.9L390.6,169L394.3,172ZM408.8,168.8L404.4,170.3L408.2,173ZM422.8,169.3L418.4,171.1L422.4,173.5ZM436.9,169.3L432.6,171.1L436.6,173.5ZM451.4,169.4L447,171.1L451,173.5ZM468.2,169.6L463.8,171.3L467.8,173.8ZM485.1,170L480.8,171.8L484.8,174.2ZM499.7,170.3L495.5,172.3L499.6,174.5ZM516.5,170.5L512.3,172.7L516.6,174.7ZM530.4,171L526.6,173.7L531.1,175.1ZM542.1,172.9L539,176.5L543.7,176.8ZM558.5,172.7L556.3,176.8L560.9,176.2ZM573.2,173.8L572.6,178.4L576.7,176.1ZM588.6,172.3L589.5,176.9L592.7,173.4ZM602.8,172.6L604.6,176.9L606.9,172.8ZM616.9,172.7L619.5,176.6L621.1,172.2ZM631,170.1L633.2,174.2L635.2,170ZM645.8,169.4L647,173.9L649.9,170.2ZM663.3,169.6L660.1,173.1L664.8,173.5ZM676.2,170.5L671.5,171.4L675,174.6ZM301.4,169.7L302.2,174.3L305.4,170.9ZM314.2,168.9L314.5,173.6L318.1,170.5ZM324.9,166.1L323.9,170.7L328.1,168.7ZM338.5,160.9L336.2,164.9L340.9,164.4ZM352,158L348.8,161.4L353.5,161.9ZM366,155.3L362.1,158L366.6,159.5ZM380.2,154.1L376.1,156.4L380.4,158.3ZM391.5,153L387.3,155L391.4,157.2ZM405.5,153.2L401.2,155.2L405.4,157.4ZM419.4,153.4L415.2,155.5L419.4,157.6ZM433.6,153.4L429.3,155.5L433.5,157.6ZM447.7,153.4L443.5,155.5L447.7,157.6ZM462,153.4L457.8,155.5L462,157.6ZM476.4,153.4L472.2,155.5L476.4,157.6ZM493.3,153.5L489.1,155.6L493.3,157.7ZM510.4,153.5L506.2,155.6L510.4,157.7ZM524.6,154.1L520.5,156.5L524.9,158.3ZM538.5,156.1L535,159.2L539.6,160.1ZM553.2,157.6L550.3,161.3L555,161.4ZM570.1,158L568.2,162.3L572.8,161.3ZM585.3,158.9L584.2,163.5L588.5,161.6ZM601.5,157.8L601.6,162.5L605.3,159.6ZM616.4,158.3L617.8,162.8L620.6,159ZM630.9,158.1L632.6,162.5L635,158.4ZM645.2,155.3L646.7,159.7L649.4,155.8ZM661.8,152.5L660,156.8L664.6,155.6ZM674,152.3L669.3,152L671.9,155.9ZM305.9,145.5L308,149.6L310.1,145.4ZM318.7,148.1L320.3,152.6L322.9,148.6ZM329.8,149.5L330.2,154.2L333.7,151ZM340.2,149.9L339.6,154.6L343.7,152.2ZM353.5,145.1L351.6,149.4L356.2,148.3ZM366.5,142L363.6,145.6L368.3,145.7ZM382.3,139.2L378.8,142.3L383.4,143.3ZM391.4,137.5L387.4,139.9L391.7,141.7ZM405.1,136.5L400.9,138.7L405.2,140.7ZM416.7,136.5L412.5,138.6L416.7,140.7ZM430.6,136.5L426.4,138.6L430.6,140.7ZM444.7,136.5L440.5,138.6L444.7,140.7ZM458.9,136.5L454.6,138.6L458.9,140.7ZM473,136.5L468.8,138.6L473,140.7ZM487.4,136.5L483.2,138.6L487.4,140.7ZM504.3,136.5L500.1,138.6L504.3,140.7ZM518.5,136.8L514.4,139L518.6,141ZM532.7,138.3L528.8,140.9L533.2,142.5ZM549.7,140.3L546.3,143.6L550.9,144.3ZM564.8,142.4L562.1,146.3L566.8,146.1ZM582,143.1L580.1,147.4L584.7,146.3ZM597.6,144.3L596.6,148.9L600.8,146.9ZM614.3,143.3L614.3,148L618.1,145.2ZM630,141.1L630.5,145.7L633.9,142.5ZM644.2,140.3L644.3,145L648,142.1ZM660.8,136.5L656.8,139L661.2,140.7ZM670.3,132L665.7,131.2L667.8,135.4ZM306.5,125.5L309.5,129.2L310.6,124.6ZM320.2,133.5L322.4,137.6L324.4,133.4ZM332.8,128.3L334,132.9L336.9,129.1ZM344.5,129.5L344.7,134.2L348.3,131.2ZM356.8,127.7L355.8,132.3L360.1,130.3ZM369.8,125.9L367.7,130.1L372.3,129.2ZM380.8,124.3L377.7,127.8L382.4,128.1ZM394,121.2L390.1,123.9L394.6,125.4ZM405.6,119.9L401.5,122.1L405.7,124.1ZM419.3,119.6L415.1,121.7L419.3,123.7ZM430.7,119.5L426.5,121.6L430.7,123.7ZM444.6,119.5L440.4,121.6L444.6,123.7ZM458.7,119.5L454.5,121.6L458.7,123.7ZM472.8,119.5L468.6,121.6L472.8,123.7ZM487,119.5L482.8,121.6L487,123.7ZM501.4,119.5L497.2,121.6L501.4,123.7ZM515.6,119.6L511.4,121.7L515.6,123.8ZM529.9,119.9L525.7,122.1L530,124.1ZM546.9,121.3L542.9,123.9L547.3,125.5ZM563.8,123.4L560.4,126.6L565.1,127.4ZM579,125.4L576.2,129.3L580.9,129.2ZM596.1,125.9L594.1,130.1L598.7,129.2ZM611.1,126.3L609.5,130.8L614,129.4ZM627.3,124.5L625.9,129L630.3,127.5ZM643.4,122.1L641.5,126.3L646.1,125.3ZM660.8,119.6L656.9,122.2L661.3,123.8ZM675.6,119.4L671,119.8L674.1,123.3ZM295.2,101.4L292.5,105.3L297.2,105.1ZM305.9,102.9L307.6,107.3L310.1,103.3ZM319.9,119L322,123.2L324.1,119ZM331.6,113.4L332.5,118L335.7,114.5ZM344.6,112.3L344.9,117L348.5,114ZM359,109L358.4,113.6L362.5,111.3ZM372.3,107.2L370.4,111.5L375,110.4ZM385.7,105.6L382.8,109.3L387.5,109.4ZM397.3,105.2L393.9,108.4L398.5,109.3ZM411.1,103.7L407.1,106.2L411.6,107.8ZM422.5,102.8L418.3,105L422.6,107ZM433.6,102.6L429.4,104.7L433.6,106.8ZM444.9,102.6L440.7,104.6L444.9,106.7ZM458.9,102.6L454.6,104.6L458.9,106.7ZM473,102.6L468.8,104.6L473,106.7ZM487.3,102.6L483.1,104.6L487.3,106.7ZM504.1,102.6L499.9,104.6L504.1,106.7ZM518.4,102.6L514.2,104.6L518.4,106.7ZM532.8,102.6L528.6,104.7L532.9,106.8ZM549.7,102.8L545.5,105L549.8,107ZM564.1,104L560.2,106.6L564.6,108.2ZM580.8,105.3L577.3,108.5L582,109.3ZM595.4,106.1L592.3,109.6L596.9,110ZM612,105.3L608.9,108.9L613.6,109.2ZM626.4,105.2L623.3,108.8L628,109.1ZM640.8,105.3L637.8,108.9L642.5,109.1ZM657.3,104.4L654.5,108.2L659.2,108.2ZM669.1,105.4L666.2,109.1L670.9,109.2ZM306.4,89.3L310.2,92.1L310.1,87.4ZM319.9,102.1L322,106.3L324.1,102.1ZM331.5,96L332.3,100.6L335.5,97.2ZM344.2,94.7L344,99.4L347.9,96.7ZM358.5,91L357.3,95.6L361.7,93.9ZM372.1,89.1L369.6,93.1L374.3,92.7ZM386.1,88.3L383.1,91.9L387.8,92.2ZM400.1,88.1L396.9,91.6L401.6,92ZM414.1,87.4L410.6,90.5L415.2,91.4ZM425.6,86.2L421.5,88.6L425.8,90.4ZM436.7,85.6L432.5,87.7L436.7,89.8ZM448,85.6L443.8,87.7L448,89.8ZM462,85.6L457.8,87.7L462,89.8ZM476.1,85.6L471.9,87.7L476.1,89.8ZM490.4,85.6L486.2,87.7L490.4,89.8ZM507.3,85.6L503.1,87.7L507.3,89.8ZM521.9,85.6L517.6,87.7L521.9,89.8ZM538.7,85.6L534.5,87.7L538.7,89.8ZM553.1,85.6L548.9,87.7L553.1,89.8ZM567.3,85.8L563.1,87.9L567.4,90ZM581.5,86.2L577.4,88.6L581.8,90.4ZM595.6,86.4L591.6,88.8L596,90.5ZM609.7,86.4L605.7,88.8L610.1,90.6ZM623.7,86.4L619.7,88.9L624.1,90.6ZM637.8,87L634,89.7L638.5,91.2ZM652,88.8L648.7,92.2L653.4,92.8ZM663.8,91L660.9,94.7L665.6,94.8ZM333.9,71.2L334.9,75.7L337.9,72.2ZM345.1,74.6L344.4,79.2L348.5,77ZM358.5,73.3L356.8,77.7L361.3,76.4ZM372.3,72.2L369.8,76.2L374.5,75.7ZM386.4,71.9L383.8,75.9L388.5,75.6ZM400.5,71.6L397.7,75.4L402.4,75.3ZM414.7,70.6L411.3,74L416,74.6ZM428.7,69.1L424.7,71.6L429.1,73.3ZM440.3,68.6L436.1,70.7L440.3,72.8ZM454.3,68.6L450.1,70.7L454.3,72.8ZM468.5,68.6L464.2,70.7L468.5,72.8ZM482.6,68.6L478.4,70.7L482.6,72.8ZM496.8,68.6L492.6,70.7L496.8,72.8ZM511.2,68.6L507,70.7L511.2,72.8ZM528,68.6L523.8,70.7L528,72.8ZM545,68.6L540.8,70.7L545,72.8ZM559.3,68.6L555.1,70.7L559.3,72.8ZM573.4,68.6L569.2,70.7L573.4,72.8ZM587.6,68.6L583.4,70.7L587.6,72.8ZM601.6,68.6L597.4,70.7L601.6,72.8ZM613,68.6L608.8,70.7L613,72.8ZM624.3,68.8L620.1,71L624.4,73ZM638.1,69.4L634,71.9L638.4,73.6ZM651.9,70.5L648.2,73.4L652.8,74.6ZM663.6,72.8L660.4,76.2L665.1,76.7ZM360.6,54.5L359,59L363.5,57.5ZM374.7,54.6L373.2,59L377.7,57.5ZM389,54.9L387.9,59.5L392.2,57.6ZM403.1,54.1L401.2,58.4L405.8,57.4ZM419.8,51.9L416.6,55.4L421.3,55.8ZM434.6,51.7L430.6,54.1L435,55.8ZM448.9,51.6L444.7,53.7L449,55.8ZM465.6,51.6L461.4,53.7L465.6,55.8ZM479.9,51.6L475.7,53.7L479.9,55.8ZM494,51.6L489.8,53.7L494,55.8ZM508.1,51.6L503.9,53.7L508.1,55.8ZM522.3,51.6L518.1,53.7L522.3,55.8ZM536.6,51.6L532.4,53.7L536.6,55.8ZM550.9,51.6L546.7,53.7L550.9,55.8ZM565.1,51.6L560.8,53.7L565.1,55.8ZM579.2,51.6L575,53.7L579.2,55.8ZM593.3,51.6L589.1,53.7L593.3,55.8ZM607.5,51.6L603.3,53.7L607.5,55.8ZM621.3,51.6L617.1,53.7L621.3,55.8ZM632.5,51.7L628.5,54L632.8,55.8ZM643.6,52.5L640,55.5L644.6,56.6ZM657.4,52.9L654.1,56.2L658.8,56.8ZM671.4,53.1L668.3,56.6L673,57Z" fill="#000" stroke="#000" stroke-width="0.9" stroke-linejoin="miter"/></g>
<path d="M124.0,54.0H676.0V563.0H124.0Z" fill="none" stroke="#000" stroke-width="1.5"/>
<path d="M124,564V54M194.7,564V54M265.4,564V54M336.1,564V54M406.9,564V54M477.6,564V54M548.3,564V54M619,564V54M123,529H676M123,444.2H676M123,359.3H676M123,274.4H676M123,189.5H676M123,104.6H676" fill="none" stroke="#bfbbae" stroke-width="1.7" stroke-dasharray="1.9 4.65"/>
<path d="M124,563v5.5M194.7,563v5.5M265.4,563v5.5M336.1,563v5.5M406.9,563v5.5M477.6,563v5.5M548.3,563v5.5M619,563v5.5M124,529h-5.5M124,444.2h-5.5M124,359.3h-5.5M124,274.4h-5.5M124,189.5h-5.5M124,104.6h-5.5" fill="none" stroke="#000" stroke-width="1.3"/>
<rect x="709" y="62" width="14" height="493.8" fill="#860000"/><rect x="709" y="68.2" width="14" height="487.6" fill="#930000"/><rect x="709" y="74.3" width="14" height="481.5" fill="#9f0000"/><rect x="709" y="80.5" width="14" height="475.3" fill="#ac0000"/><rect x="709" y="86.7" width="14" height="469.1" fill="#b90000"/><rect x="709" y="92.9" width="14" height="462.9" fill="#c60000"/><rect x="709" y="99" width="14" height="456.8" fill="#d20000"/><rect x="709" y="105.2" width="14" height="450.6" fill="#df0000"/><rect x="709" y="111.4" width="14" height="444.4" fill="#ec0000"/><rect x="709" y="117.6" width="14" height="438.2" fill="#f90000"/><rect x="709" y="123.7" width="14" height="432.1" fill="#ff0600"/><rect x="709" y="129.9" width="14" height="425.9" fill="#ff1300"/><rect x="709" y="136.1" width="14" height="419.7" fill="#ff2000"/><rect x="709" y="142.2" width="14" height="413.6" fill="#ff2d00"/><rect x="709" y="148.4" width="14" height="407.4" fill="#ff3900"/><rect x="709" y="154.6" width="14" height="401.2" fill="#ff4600"/><rect x="709" y="160.8" width="14" height="395" fill="#ff5300"/><rect x="709" y="166.9" width="14" height="388.9" fill="#ff6000"/><rect x="709" y="173.1" width="14" height="382.7" fill="#ff6c00"/><rect x="709" y="179.3" width="14" height="376.5" fill="#ff7900"/><rect x="709" y="185.4" width="14" height="370.3" fill="#ff8600"/><rect x="709" y="191.6" width="14" height="364.2" fill="#ff9300"/><rect x="709" y="197.8" width="14" height="358" fill="#ff9f00"/><rect x="709" y="204" width="14" height="351.8" fill="#ffac00"/><rect x="709" y="210.1" width="14" height="345.7" fill="#ffb900"/><rect x="709" y="216.3" width="14" height="339.5" fill="#ffc600"/><rect x="709" y="222.5" width="14" height="333.3" fill="#ffd200"/><rect x="709" y="228.7" width="14" height="327.1" fill="#ffdf00"/><rect x="709" y="234.8" width="14" height="321" fill="#ffec00"/><rect x="709" y="241" width="14" height="314.8" fill="#fff900"/><rect x="709" y="247.2" width="14" height="308.6" fill="#f9ff06"/><rect x="709" y="253.3" width="14" height="302.5" fill="#ecff13"/><rect x="709" y="259.5" width="14" height="296.3" fill="#dfff20"/><rect x="709" y="265.7" width="14" height="290.1" fill="#d2ff2d"/><rect x="709" y="271.9" width="14" height="283.9" fill="#c6ff39"/><rect x="709" y="278" width="14" height="277.8" fill="#b9ff46"/><rect x="709" y="284.2" width="14" height="271.6" fill="#acff53"/><rect x="709" y="290.4" width="14" height="265.4" fill="#9fff60"/><rect x="709" y="296.6" width="14" height="259.2" fill="#93ff6c"/><rect x="709" y="302.7" width="14" height="253.1" fill="#86ff79"/><rect x="709" y="308.9" width="14" height="246.9" fill="#79ff86"/><rect x="709" y="315.1" width="14" height="240.7" fill="#6cff93"/><rect x="709" y="321.2" width="14" height="234.6" fill="#60ff9f"/><rect x="709" y="327.4" width="14" height="228.4" fill="#53ffac"/><rect x="709" y="333.6" width="14" height="222.2" fill="#46ffb9"/><rect x="709" y="339.8" width="14" height="216" fill="#39ffc6"/><rect x="709" y="345.9" width="14" height="209.9" fill="#2dffd2"/><rect x="709" y="352.1" width="14" height="203.7" fill="#20ffdf"/><rect x="709" y="358.3" width="14" height="197.5" fill="#13ffec"/><rect x="709" y="364.5" width="14" height="191.3" fill="#06fff9"/><rect x="709" y="370.6" width="14" height="185.2" fill="#00f9ff"/><rect x="709" y="376.8" width="14" height="179" fill="#00ecff"/><rect x="709" y="383" width="14" height="172.8" fill="#00dfff"/><rect x="709" y="389.1" width="14" height="166.7" fill="#00d2ff"/><rect x="709" y="395.3" width="14" height="160.5" fill="#00c6ff"/><rect x="709" y="401.5" width="14" height="154.3" fill="#00b9ff"/><rect x="709" y="407.7" width="14" height="148.1" fill="#00acff"/><rect x="709" y="413.8" width="14" height="142" fill="#009fff"/><rect x="709" y="420" width="14" height="135.8" fill="#0093ff"/><rect x="709" y="426.2" width="14" height="129.6" fill="#0086ff"/><rect x="709" y="432.3" width="14" height="123.4" fill="#0079ff"/><rect x="709" y="438.5" width="14" height="117.3" fill="#006cff"/><rect x="709" y="444.7" width="14" height="111.1" fill="#0060ff"/><rect x="709" y="450.9" width="14" height="104.9" fill="#0053ff"/><rect x="709" y="457" width="14" height="98.8" fill="#0339ff"/>
<g filter="url(#noaa)">
<text x="124" y="579.2" text-anchor="middle" class="tk">28.5</text>
<text x="194.7" y="579.2" text-anchor="middle" class="tk">29</text>
<text x="265.4" y="579.2" text-anchor="middle" class="tk">29.5</text>
<text x="336.1" y="579.2" text-anchor="middle" class="tk">30</text>
<text x="406.9" y="579.2" text-anchor="middle" class="tk">30.5</text>
<text x="477.6" y="579.2" text-anchor="middle" class="tk">31</text>
<text x="548.3" y="579.2" text-anchor="middle" class="tk">31.5</text>
<text x="619" y="579.2" text-anchor="middle" class="tk">32</text>
<text x="116.5" y="533.9" text-anchor="end" class="tk">43</text>
<text x="116.5" y="449.1" text-anchor="end" class="tk">43.5</text>
<text x="116.5" y="364.2" text-anchor="end" class="tk">44</text>
<text x="116.5" y="279.3" text-anchor="end" class="tk">44.5</text>
<text x="116.5" y="194.4" text-anchor="end" class="tk">45</text>
<text x="116.5" y="109.5" text-anchor="end" class="tk">45.5</text>
<text x="734.8" y="73.4" class="cbl">0.58</text>
<text x="734.8" y="190.3" class="cbl">0.44</text>
<text x="734.8" y="312.3" class="cbl">0.29</text>
<text x="734.8" y="433.7" class="cbl">0.14</text>
<text x="734.8" y="555.4" class="cbl">0.00</text>
<path d="M31.4,27.4L30.7,25.5L29.2,23.7L27.7,22.8L24.7,22.8L23.3,23.7L21.8,25.5L21,27.4L20.3,30.1L20.3,34.7L21,37.4L21.8,39.3L23.3,41.1L24.7,42L27.7,42L29.2,41.1L30.7,39.3L31.4,37.4M36.7,29.2L36.7,38.3L37.4,41.1L38.9,42L41.1,42L42.6,41.1L44.8,38.3M44.8,29.2L44.8,38.3M44.8,38.3L44.8,42M50.8,29.2L50.8,34.7M56.8,29.2L54.5,29.2L53.1,30.1L51.6,31.9L50.8,34.7M50.8,34.7L50.8,42M60.6,29.2L60.6,34.7M66.5,29.2L64.3,29.2L62.8,30.1L61.3,31.9L60.6,34.7M60.6,34.7L60.6,42M69.5,34.7L70.3,31.9L71.8,30.1L73.2,29.2L75.5,29.2L76.9,30.1L77.7,31L78.4,32.9L78.4,34.7L69.5,34.7M69.5,34.7L69.5,36.5L70.3,39.3L71.8,41.1L73.2,42L75.5,42L76.9,41.1L78.4,39.3M83.7,29.2L83.7,32.9M83.7,32.9L85.9,30.1L87.4,29.2L89.6,29.2L91.1,30.1L91.8,32.9L91.8,42M83.7,32.9L83.7,42M98.6,22.8L98.6,29.2M98.6,29.2L98.6,38.3L99.3,41.1L100.8,42L102.3,42M98.6,29.2L101.6,29.2M98.6,29.2L96.4,29.2M115.3,29.2L119.7,42L124.1,29.2M127.9,34.7L128.6,31.9L130.1,30.1L131.5,29.2L133.7,29.2L135.2,30.1L135.9,31L136.6,32.9L136.6,34.7L127.9,34.7M127.9,34.7L127.9,36.5L128.6,39.3L130.1,41.1L131.5,42L133.7,42L135.2,41.1L136.6,39.3M141.9,22.8L141.9,42M150.8,29.2L149.3,30.1L147.8,31.9L147.1,34.7L147.1,36.5L147.8,39.3L149.3,41.1L150.8,42L153,42L154.4,41.1L155.9,39.3L156.6,36.5L156.6,34.7L155.9,31.9L154.4,30.1L153,29.2L150.8,29.2M169.9,31.9L168.4,30.1L167,29.2L164.8,29.2L163.3,30.1L161.8,31.9L161.1,34.7L161.1,36.5L161.8,39.3L163.3,41.1L164.8,42L167,42L168.4,41.1L169.9,39.3M175.1,29.2L175.1,42M175.1,21.9L174.4,22.8L175.1,23.7L175.9,22.8L175.1,21.9M181.8,22.8L181.8,29.2M181.8,29.2L181.8,38.3L182.5,41.1L184,42L185.5,42M181.8,29.2L184.7,29.2M181.8,29.2L179.6,29.2M188.5,29.2L192.9,42M192.9,42L195.1,35.6M192.9,42L192.2,43.8M195.1,35.6L192.2,43.8M195.1,35.6L197.3,29.2L192.2,43.8M192.2,43.8L191.4,45.7L190,47.5L188.5,48.4L187.8,48.4M218.2,19.1L216.7,21L215.2,23.7L213.7,27.4L213,31.9L213,35.6L213.7,40.2L215.2,43.8L216.7,46.6L218.2,48.4M223.4,29.2L223.4,32.9M231.5,32.9L231.5,42M231.5,32.9L230.8,30.1L229.3,29.2L227.1,29.2L225.6,30.1L223.4,32.9M231.5,32.9L233.7,30.1L235.2,29.2L237.4,29.2L238.8,30.1L239.6,32.9L239.6,42M223.4,32.9L223.4,42M253.7,27.4L250.7,33.8M253.7,27.4L257.3,19.1M253.7,27.4L244.1,48.4M253.7,27.4L247,42M257.3,19.1L250.7,33.8M257.3,19.1L247,42M250.7,33.8L244.1,48.4M250.7,33.8L247,42M247,42L244.1,48.4M269.2,31.9L268.5,30.1L266.3,29.2L264,29.2L261.8,30.1L261.1,31.9L261.8,33.8L263.3,34.7L267,35.6L268.5,36.5L269.2,38.3L269.2,39.3L268.5,41.1L266.3,42L264,42L261.8,41.1L261.1,39.3M273.7,19.1L275.2,21L276.6,23.7L278.1,27.4L278.9,31.9L278.9,35.6L278.1,40.2L276.6,43.8L275.2,46.6L273.7,48.4M285.6,40.2L284.8,41.1L285.6,42L286.3,41.1L285.6,40.2M303,22.8L303,42L308.4,42L310.8,41.1L312.3,39.3L313.1,37.4L313.9,34.7L313.9,30.1L313.1,27.4L312.3,25.5L310.8,23.7L308.4,22.8L303,22.8M328,29.2L328,31.9M328,31.9L328,39.3M328,31.9L326.4,30.1L324.9,29.2L322.5,29.2L321,30.1L319.4,31.9L318.7,34.7L318.7,36.5L319.4,39.3L321,41.1L322.5,42L324.9,42L326.4,41.1L328,39.3M328,39.3L328,42M335.1,22.8L335.1,29.2M335.1,29.2L335.1,38.3L335.9,41.1L337.4,42L339,42M335.1,29.2L338.2,29.2M335.1,29.2L332.8,29.2M343,34.7L343.7,31.9L345.3,30.1L346.9,29.2L349.2,29.2L350.7,30.1L351.5,31L352.3,32.9L352.3,34.7L343,34.7M343,34.7L343,36.5L343.7,39.3L345.3,41.1L346.9,42L349.2,42L350.7,41.1L352.3,39.3M368.7,27.4L368.7,26.5L369.4,24.6L370.2,23.7L371.6,22.8L374.5,22.8L375.9,23.7L376.6,24.6L377.4,26.5L377.4,28.3L376.6,30.1L375.2,32.9L368,42L378.1,42M386.8,22.8L384.7,23.7L383.2,26.5L382.5,31L382.5,33.8L383.2,38.3L384.7,41.1L386.8,42L388.3,42L390.4,41.1L391.9,38.3L392.6,33.8L392.6,31L391.9,26.5L390.4,23.7L388.3,22.8L386.8,22.8M397.7,27.4L397.7,26.5L398.5,24.6L399.2,23.7L400.6,22.8L403.5,22.8L404.9,23.7L405.7,24.6L406.4,26.5L406.4,28.3L405.7,30.1L404.2,32.9L397,42L407.1,42M412.2,27.4L412.2,26.5L413,24.6L413.7,23.7L415.1,22.8L418,22.8L419.4,23.7L420.2,24.6L420.9,26.5L420.9,28.3L420.2,30.1L418.7,32.9L411.5,42L421.6,42M427.5,40.2L426.7,41.1L427.5,42L428.2,41.1L427.5,40.2M437.6,22.8L435.5,23.7L434,26.5L433.3,31L433.3,33.8L434,38.3L435.5,41.1L437.6,42L439.1,42L441.2,41.1L442.7,38.3L443.4,33.8L443.4,31L442.7,26.5L441.2,23.7L439.1,22.8L437.6,22.8M457.2,25.5L456.5,23.7L454.3,22.8L452.9,22.8L450.7,23.7L449.3,26.5L448.5,31L448.5,35.6M448.5,35.6L449.3,39.3L450.7,41.1L452.9,42L453.6,42L455.8,41.1L457.2,39.3L457.9,36.5L457.9,35.6L457.2,32.9L455.8,31L453.6,30.1L452.9,30.1L450.7,31L449.3,32.9L448.5,35.6M463.8,40.2L463.1,41.1L463.8,42L464.5,41.1L463.8,40.2M471.8,26.5L473.2,25.5L475.4,22.8L475.4,42M485.6,22.8L493.5,22.8L489.2,30.1L491.3,30.1L492.8,31L493.5,31.9L494.2,34.7L494.2,36.5L493.5,39.3L492.1,41.1L489.9,42L487.7,42L485.6,41.1L484.9,40.2L484.1,38.3M500.1,40.2L499.4,41.1L500.1,42L500.8,41.1L500.1,40.2M519.3,22.8L524.3,22.8M524.3,22.8L524.3,42M524.3,22.8L529.3,22.8M533,29.2L533,42M533,21.9L532.3,22.8L533,23.7L533.7,22.8L533,21.9M538.8,29.2L538.8,32.9M546.7,32.9L546.7,42M546.7,32.9L546,30.1L544.6,29.2L542.4,29.2L541,30.1L538.8,32.9M546.7,32.9L548.9,30.1L550.3,29.2L552.4,29.2L553.9,30.1L554.6,32.9L554.6,42M538.8,32.9L538.8,42M559.7,34.7L560.4,31.9L561.9,30.1L563.3,29.2L565.4,29.2L566.9,30.1L567.6,31L568.3,32.9L568.3,34.7L559.7,34.7M559.7,34.7L559.7,36.5L560.4,39.3L561.9,41.1L563.3,42L565.4,42L566.9,41.1L568.3,39.3M589.8,22.8L587.7,23.7L586.2,26.5L585.5,31L585.5,33.8L586.2,38.3L587.7,41.1L589.8,42L591.3,42L593.5,41.1L594.9,38.3L595.6,33.8L595.6,31L594.9,26.5L593.5,23.7L591.3,22.8L589.8,22.8M604.4,22.8L602.2,23.7L600.8,26.5L600,31L600,33.8L600.8,38.3L602.2,41.1L604.4,42L605.8,42L608,41.1L609.4,38.3L610.2,33.8L610.2,31L609.4,26.5L608,23.7L605.8,22.8L604.4,22.8M620.4,19.1L618.9,21L617.5,23.7L616,27.4L615.3,31.9L615.3,35.6L616,40.2L617.5,43.8L618.9,46.6L620.4,48.4M625.5,22.8L625.5,32.9M625.5,32.9L627.7,30.1L629.1,29.2L631.3,29.2L632.8,30.1L633.5,32.9L633.5,42M625.5,32.9L625.5,42M638.6,19.1L640.1,21L641.5,23.7L643,27.4L643.7,31.9L643.7,35.6L643,40.2L641.5,43.8L640.1,46.6L638.6,48.4M650.3,29.2L649.6,30.1L650.3,31L651,30.1L650.3,29.2M650.3,40.2L649.6,41.1L650.3,42L651,41.1L650.3,40.2M660.5,22.8L658.3,23.7L656.9,26.5L656.2,31L656.2,33.8L656.9,38.3L658.3,41.1L660.5,42L661.9,42L664.1,41.1L665.6,38.3L666.3,33.8L666.3,31L665.6,26.5L664.1,23.7L661.9,22.8L660.5,22.8M675,22.8L672.9,23.7L671.4,26.5L670.7,31L670.7,33.8L671.4,38.3L672.9,41.1L675,42L676.5,42L678.7,41.1L680.1,38.3L680.8,33.8L680.8,31L680.1,26.5L678.7,23.7L676.5,22.8L675,22.8M691,19.1L689.6,21L688.1,23.7L686.7,27.4L686,31.9L686,35.6L686.7,40.2L688.1,43.8L689.6,46.6L691,48.4M696.2,29.2L696.2,32.9M704.1,32.9L704.1,42M704.1,32.9L703.4,30.1L702,29.2L699.8,29.2L698.4,30.1L696.2,32.9M704.1,32.9L706.3,30.1L707.8,29.2L709.9,29.2L711.4,30.1L712.1,32.9L712.1,42M696.2,32.9L696.2,42M717.2,19.1L718.7,21L720.1,23.7L721.6,27.4L722.3,31.9L722.3,35.6L721.6,40.2L720.1,43.8L718.7,46.6L717.2,48.4M750.8,27.4L750.1,25.5L748.7,23.7L747.4,22.8L744.6,22.8L743.2,23.7L741.9,25.5L741.2,27.4L740.5,30.1L740.5,34.7L741.2,37.4L741.9,39.3L743.2,41.1L744.6,42L747.4,42L748.7,41.1L750.1,39.3L750.8,37.4L750.8,34.7L747.4,34.7M755.7,22.8L757.7,30.1M755.7,22.8L761.2,42M755.7,22.8L759.1,34.7M755.7,22.8L755.7,42M757.7,30.1L761.2,42M757.7,30.1L759.1,34.7M759.1,34.7L761.2,42M761.2,42L766.7,22.8M761.2,42L764.6,30.1M761.2,42L763.2,34.7M766.7,22.8L766.7,42M766.7,22.8L764.6,30.1M766.7,22.8L763.2,34.7M764.6,30.1L763.2,34.7M770.2,22.8L775,22.8M775,22.8L775,42M775,22.8L779.8,22.8" fill="none" stroke="#000" stroke-width="1.55" stroke-linecap="round" stroke-linejoin="round"/>
<path d="M324.2,590.5L324.2,605.5L331.3,605.5M336.7,595.5L335.5,596.2L334.3,597.6L333.7,599.8L333.7,601.2L334.3,603.4L335.5,604.8L336.7,605.5L338.4,605.5L339.6,604.8L340.8,603.4L341.4,601.2L341.4,599.8L340.8,597.6L339.6,596.2L338.4,595.5L336.7,595.5M345.6,595.5L345.6,598.4M345.6,598.4L347.4,596.2L348.5,595.5L350.3,595.5L351.5,596.2L352.1,598.4L352.1,605.5M345.6,598.4L345.6,605.5M363.4,595.5L363.4,597.6M363.4,597.6L363.4,603.4M363.4,597.6L362.2,596.2L361,595.5L359.2,595.5L358.1,596.2L356.9,597.6L356.3,599.8L356.3,601.2L356.9,603.4L358.1,604.8L359.2,605.5L361,605.5L362.2,604.8L363.4,603.4M363.4,603.4L363.4,606.9L362.8,609.1L362.2,609.8L361,610.5L359.2,610.5L358.1,609.8M368.2,595.5L368.2,605.5M368.2,589.8L367.6,590.5L368.2,591.2L368.8,590.5L368.2,589.8M373.6,590.5L373.6,595.5M373.6,595.5L373.6,602.6L374.2,604.8L375.3,605.5L376.5,605.5M373.6,595.5L375.9,595.5M373.6,595.5L371.8,595.5M380.1,595.5L380.1,602.6L380.7,604.8L381.9,605.5L383.7,605.5L384.9,604.8L386.6,602.6M386.6,595.5L386.6,602.6M386.6,602.6L386.6,605.5M397.9,590.5L397.9,597.6M397.9,597.6L397.9,603.4M397.9,597.6L396.7,596.2L395.5,595.5L393.8,595.5L392.6,596.2L391.4,597.6L390.8,599.8L390.8,601.2L391.4,603.4L392.6,604.8L393.8,605.5L395.5,605.5L396.7,604.8L397.9,603.4M397.9,603.4L397.9,605.5M402.1,599.8L402.7,597.6L403.9,596.2L405.1,595.5L406.8,595.5L408,596.2L408.6,596.9L409.2,598.4L409.2,599.8L402.1,599.8M402.1,599.8L402.1,601.2L402.7,603.4L403.9,604.8L405.1,605.5L406.8,605.5L408,604.8L409.2,603.4M427.2,587.6L426,589.1L424.8,591.2L423.6,594.1L423,597.6L423,600.5L423.6,604.1L424.8,606.9L426,609.1L427.2,610.5M439.4,590.5L431.5,590.5L431.5,597.6M431.5,597.6L436.4,597.6M431.5,597.6L431.5,605.5L439.4,605.5M449.8,595.5L449.8,597.6M449.8,597.6L449.8,603.4M449.8,597.6L448.6,596.2L447.3,595.5L445.5,595.5L444.3,596.2L443.1,597.6L442.5,599.8L442.5,601.2L443.1,603.4L444.3,604.8L445.5,605.5L447.3,605.5L448.6,604.8L449.8,603.4M449.8,603.4L449.8,605.5M460.7,597.6L460.1,596.2L458.3,595.5L456.5,595.5L454.7,596.2L454.1,597.6L454.7,599.1L455.9,599.8L458.9,600.5L460.1,601.2L460.7,602.6L460.7,603.4L460.1,604.8L458.3,605.5L456.5,605.5L454.7,604.8L454.1,603.4M465.6,590.5L465.6,595.5M465.6,595.5L465.6,602.6L466.2,604.8L467.5,605.5L468.7,605.5M465.6,595.5L468.1,595.5M465.6,595.5L463.8,595.5M471.8,587.6L473,589.1L474.2,591.2L475.4,594.1L476,597.6L476,600.5L475.4,604.1L474.2,606.9L473,609.1L471.8,610.5" fill="none" stroke="#000" stroke-width="1.4" stroke-linecap="round" stroke-linejoin="round"/>
<path transform="translate(82.5,383.2) rotate(-90)" d="M0.5,-15L0.5,0L7.6,0M17,-10L17,-7.9M17,-7.9L17,-2.1M17,-7.9L15.9,-9.3L14.7,-10L12.9,-10L11.7,-9.3L10.6,-7.9L10,-5.7L10,-4.3L10.6,-2.1L11.7,-0.7L12.9,0L14.7,0L15.9,-0.7L17,-2.1M17,-2.1L17,0M22.4,-15L22.4,-10M22.4,-10L22.4,-2.9L23,-0.7L24.2,0L25.3,0M22.4,-10L24.8,-10M22.4,-10L20.6,-10M28.9,-10L28.9,0M28.9,-15.7L28.4,-15L28.9,-14.3L29.5,-15L28.9,-15.7M34.3,-15L34.3,-10M34.3,-10L34.3,-2.9L34.9,-0.7L36.1,0L37.2,0M34.3,-10L36.7,-10M34.3,-10L32.5,-10M40.8,-10L40.8,-2.9L41.4,-0.7L42.6,0L44.4,0L45.5,-0.7L47.3,-2.9M47.3,-10L47.3,-2.9M47.3,-2.9L47.3,0M58.6,-15L58.6,-7.9M58.6,-7.9L58.6,-2.1M58.6,-7.9L57.4,-9.3L56.2,-10L54.4,-10L53.3,-9.3L52.1,-7.9L51.5,-5.7L51.5,-4.3L52.1,-2.1L53.3,-0.7L54.4,0L56.2,0L57.4,-0.7L58.6,-2.1M58.6,-2.1L58.6,0M62.7,-5.7L63.3,-7.9L64.5,-9.3L65.7,-10L67.4,-10L68.6,-9.3L69.2,-8.6L69.8,-7.1L69.8,-5.7L62.7,-5.7M62.7,-5.7L62.7,-4.3L63.3,-2.1L64.5,-0.7L65.7,0L67.4,0L68.6,-0.7L69.8,-2.1M88,-17.9L86.8,-16.4L85.6,-14.3L84.5,-11.4L83.9,-7.9L83.9,-5L84.5,-1.4L85.6,1.4L86.8,3.6L88,5M100.3,-15L100.3,0L92.1,-15L92.1,0M107.3,-10L106.2,-9.3L105,-7.9L104.4,-5.7L104.4,-4.3L105,-2.1L106.2,-0.7L107.3,0L109.1,0L110.3,-0.7L111.4,-2.1L112,-4.3L112,-5.7L111.4,-7.9L110.3,-9.3L109.1,-10L107.3,-10M116.2,-10L116.2,-5.7M120.8,-10L119.1,-10L117.9,-9.3L116.7,-7.9L116.2,-5.7M116.2,-5.7L116.2,0M124.4,-15L124.4,-10M124.4,-10L124.4,-2.9L125,-0.7L126.1,0L127.3,0M124.4,-10L126.7,-10M124.4,-10L122.6,-10M130.9,-15L130.9,-7.1M130.9,-7.1L132.6,-9.3L133.8,-10L135.5,-10L136.7,-9.3L137.3,-7.1L137.3,0M130.9,-7.1L130.9,0M141.4,-17.9L142.6,-16.4L143.8,-14.3L144.9,-11.4L145.5,-7.9L145.5,-5L144.9,-1.4L143.8,1.4L142.6,3.6L141.4,5" fill="none" stroke="#000" stroke-width="1.4" stroke-linecap="round" stroke-linejoin="round"/>
<path d="M147.2,94.8L157.8,94.8L147.2,109.8L157.8,109.8M176,101.2L189.4,101.2M176,105.5L189.4,105.5M207.9,98.4L207.9,97.7L208.7,96.2L209.4,95.5L210.9,94.8L213.8,94.8L215.3,95.5L216,96.2L216.7,97.7L216.7,99.1L216,100.5L214.5,102.7L207.2,109.8L217.5,109.8M223.4,108.4L222.7,109.1L223.4,109.8L224.1,109.1L223.4,108.4M238.1,94.8L230.8,94.8L230.1,101.2L230.8,100.5L233,99.8L235.2,99.8L237.4,100.5L238.9,101.9L239.6,104.1L239.6,105.5L238.9,107.7L237.4,109.1L235.2,109.8L233,109.8L230.8,109.1L230.1,108.4L229.3,106.9M257,99.8L257,102.7M265.4,102.7L265.4,109.8M265.4,102.7L264.6,100.5L263.1,99.8L260.8,99.8L259.3,100.5L257,102.7M265.4,102.7L267.7,100.5L269.2,99.8L271.5,99.8L273,100.5L273.8,102.7L273.8,109.8M257,102.7L257,109.8" fill="none" stroke="#4a4a4a" stroke-width="1.25" stroke-linecap="round" stroke-linejoin="round"/>
</g>
</svg>
</body></html>
